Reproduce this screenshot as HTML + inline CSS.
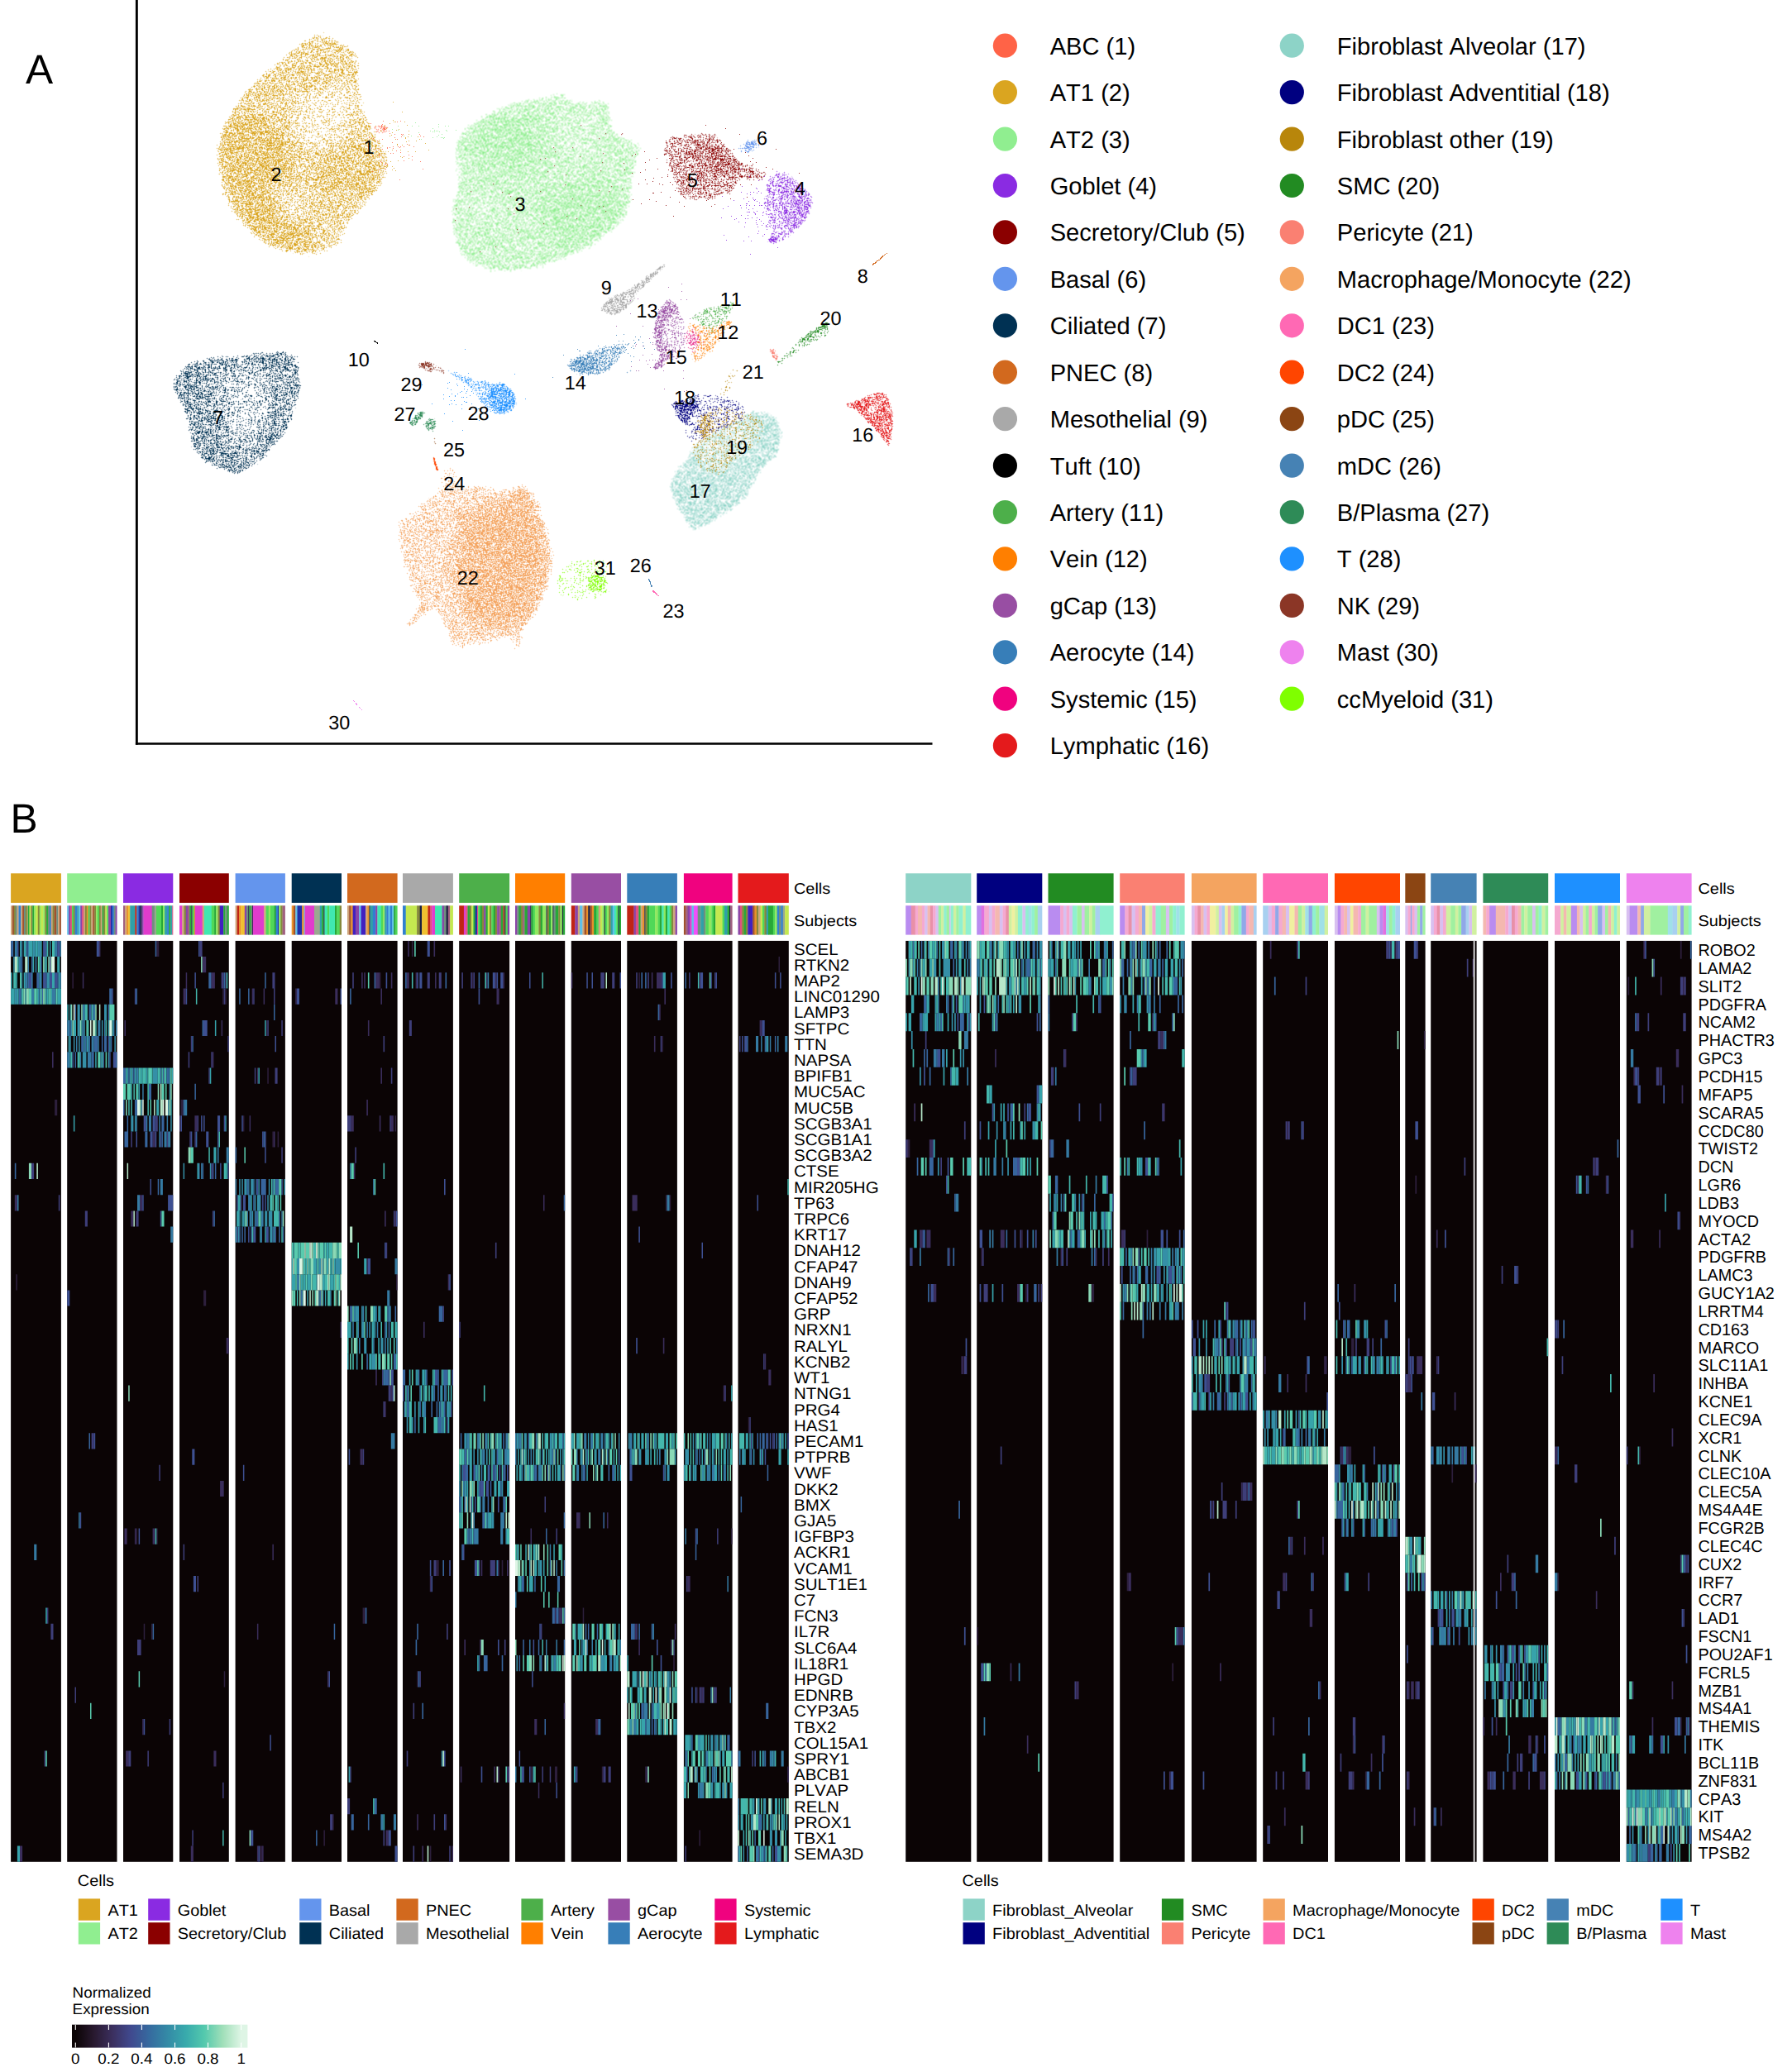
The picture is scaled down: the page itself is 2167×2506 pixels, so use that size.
<!DOCTYPE html>
<html><head><meta charset="utf-8"><title>Figure</title><style>html,body{margin:0;padding:0;background:#fff}svg{display:block}text{font-kerning:none;font-variant-ligatures:none;text-rendering:geometricPrecision}</style></head><body>
<svg width="2167" height="2506" viewBox="0 0 2167 2506" font-family="Liberation Sans, Arial, Helvetica, sans-serif" fill="#000"><defs><filter id="pb3" x="-40%" y="-40%" width="180%" height="180%" color-interpolation-filters="sRGB"><feGaussianBlur stdDeviation="3"/></filter><filter id="pb6" x="-40%" y="-40%" width="180%" height="180%" color-interpolation-filters="sRGB"><feGaussianBlur stdDeviation="6"/></filter><filter id="pb10" x="-40%" y="-40%" width="180%" height="180%" color-interpolation-filters="sRGB"><feGaussianBlur stdDeviation="10"/></filter><filter id="f2" filterUnits="userSpaceOnUse" x="248" y="26" width="236" height="296" color-interpolation-filters="sRGB"><feGaussianBlur in="SourceGraphic" stdDeviation="3.0"/><feColorMatrix type="matrix" values="0 0 0 0 0 0 0 0 0 0 0 0 0 0 0 1 0 0 0 0" result="d"/><feTurbulence type="fractalNoise" baseFrequency="1.713 2.291" numOctaves="1" seed="15"/><feColorMatrix type="matrix" values="0 0 0 0 0 0 0 0 0 0 0 0 0 0 0 0 0 0 1 0" result="n"/><feComposite in="d" in2="n" operator="arithmetic" k1="0" k2="1" k3="1" k4="-1"/><feComponentTransfer><feFuncA type="linear" slope="80" intercept="0"/></feComponentTransfer><feComposite operator="in" in2="SourceAlpha" result="t"/><feFlood flood-color="#DAA520"/><feComposite operator="in" in2="t"/><feConvolveMatrix order="3" kernelMatrix="0 1 0 1 5 1 0 1 0" divisor="9" edgeMode="none" preserveAlpha="false"/></filter><clipPath id="cp2"><path d="M390.2,39.4C397.8,39.7 405.9,44.8 413.0,49.3C420.2,53.7 429.3,58.0 433.1,66.2C436.9,74.5 434.5,88.0 435.8,98.7C437.1,109.3 438.8,121.4 441.1,130.0C443.4,138.6 444.8,140.2 449.8,150.3C454.8,160.4 468.0,179.6 470.8,190.7C473.6,201.7 470.0,207.9 466.4,216.5C462.8,225.1 455.9,233.8 449.2,242.4C442.5,251.0 432.9,258.9 426.2,268.1C419.4,277.3 416.7,290.7 408.8,297.7C400.9,304.6 388.5,308.1 378.8,309.8C369.0,311.6 360.2,310.3 350.2,308.1C340.2,305.9 328.8,302.9 318.8,296.8C308.8,290.6 298.2,280.7 290.2,271.2C282.1,261.7 275.4,251.7 270.6,239.8C265.8,227.9 262.6,211.4 261.3,199.8C259.9,188.3 261.1,179.2 262.6,170.6C264.1,161.9 265.7,157.2 270.2,148.1C274.7,139.1 282.1,126.0 289.6,116.5C297.2,106.9 306.4,99.1 315.6,90.6C324.7,82.0 335.8,72.3 344.4,65.1C353.0,57.8 359.7,51.4 367.4,47.1C375.0,42.8 382.6,39.0 390.2,39.4Z"/></clipPath><filter id="f1" filterUnits="userSpaceOnUse" x="438" y="134" width="46" height="46" color-interpolation-filters="sRGB"><feGaussianBlur in="SourceGraphic" stdDeviation="2.5"/><feColorMatrix type="matrix" values="0 0 0 0 0 0 0 0 0 0 0 0 0 0 0 1 0 0 0 0" result="d"/><feTurbulence type="fractalNoise" baseFrequency="1.713 2.291" numOctaves="1" seed="8"/><feColorMatrix type="matrix" values="0 0 0 0 0 0 0 0 0 0 0 0 0 0 0 0 0 0 1 0" result="n"/><feComposite in="d" in2="n" operator="arithmetic" k1="0" k2="1" k3="1" k4="-1"/><feComponentTransfer><feFuncA type="linear" slope="80" intercept="0"/></feComponentTransfer><feComposite operator="in" in2="SourceAlpha" result="t"/><feFlood flood-color="#FF6347"/><feComposite operator="in" in2="t"/><feConvolveMatrix order="3" kernelMatrix="0 1 0 1 5 1 0 1 0" divisor="9" edgeMode="none" preserveAlpha="false"/></filter><filter id="f3" filterUnits="userSpaceOnUse" x="532" y="99" width="258" height="244" color-interpolation-filters="sRGB"><feGaussianBlur in="SourceGraphic" stdDeviation="3.0"/><feColorMatrix type="matrix" values="0 0 0 0 0 0 0 0 0 0 0 0 0 0 0 1 0 0 0 0" result="d"/><feTurbulence type="fractalNoise" baseFrequency="1.713 2.291" numOctaves="1" seed="22"/><feColorMatrix type="matrix" values="0 0 0 0 0 0 0 0 0 0 0 0 0 0 0 0 0 0 1 0" result="n"/><feComposite in="d" in2="n" operator="arithmetic" k1="0" k2="1" k3="1" k4="-1"/><feComponentTransfer><feFuncA type="linear" slope="80" intercept="0"/></feComponentTransfer><feComposite operator="in" in2="SourceAlpha" result="t"/><feFlood flood-color="#90EE90"/><feComposite operator="in" in2="t"/><feConvolveMatrix order="3" kernelMatrix="1 2 1 2 4 2 1 2 1" divisor="16" edgeMode="none" preserveAlpha="false"/></filter><clipPath id="cp3"><path d="M677.1,112.0C682.9,111.5 683.9,112.4 686.2,113.8C688.5,115.1 686.6,118.8 690.8,120.1C695.1,121.3 704.6,121.5 711.7,121.1C718.8,120.7 728.9,115.9 733.4,117.7C737.9,119.6 737.4,125.9 738.9,132.2C740.5,138.5 740.6,150.6 742.8,155.7C744.9,160.9 746.1,159.7 751.8,163.1C757.5,166.4 773.6,170.7 776.9,175.9C780.3,181.1 773.7,186.8 772.0,194.1C770.3,201.3 768.1,210.1 766.6,219.5C765.1,228.9 765.4,242.0 762.9,250.4C760.4,258.9 756.5,264.4 751.6,270.5C746.7,276.5 741.0,281.1 733.5,286.9C725.9,292.6 716.8,299.6 706.2,305.0C695.6,310.5 681.9,315.5 669.8,319.5C657.7,323.4 645.6,327.0 633.5,328.7C621.4,330.5 607.8,331.3 597.3,330.0C586.7,328.7 577.4,325.1 570.2,320.8C562.9,316.6 558.1,311.8 553.9,304.6C549.7,297.3 546.6,286.5 545.1,277.5C543.6,268.4 543.8,259.4 544.9,250.3C546.0,241.3 550.8,232.2 551.6,223.2C552.4,214.1 550.0,205.0 549.8,195.9C549.6,186.8 547.5,176.2 550.2,168.6C553.0,161.1 559.3,156.2 566.1,150.4C573.0,144.6 581.8,138.8 591.5,133.9C601.1,129.0 614.2,123.9 624.2,121.0C634.2,118.1 642.7,117.9 651.6,116.4C660.4,114.9 671.3,112.4 677.1,112.0Z"/></clipPath><filter id="f5" filterUnits="userSpaceOnUse" x="789" y="149" width="151" height="106" color-interpolation-filters="sRGB"><feGaussianBlur in="SourceGraphic" stdDeviation="2.4"/><feColorMatrix type="matrix" values="0 0 0 0 0 0 0 0 0 0 0 0 0 0 0 1 0 0 0 0" result="d"/><feTurbulence type="fractalNoise" baseFrequency="1.713 2.291" numOctaves="1" seed="36"/><feColorMatrix type="matrix" values="0 0 0 0 0 0 0 0 0 0 0 0 0 0 0 0 0 0 1 0" result="n"/><feComposite in="d" in2="n" operator="arithmetic" k1="0" k2="1" k3="1" k4="-1"/><feComponentTransfer><feFuncA type="linear" slope="80" intercept="0"/></feComponentTransfer><feComposite operator="in" in2="SourceAlpha" result="t"/><feFlood flood-color="#8B0000"/><feComposite operator="in" in2="t"/><feConvolveMatrix order="3" kernelMatrix="0 1 0 1 5 1 0 1 0" divisor="9" edgeMode="none" preserveAlpha="false"/></filter><filter id="f4" filterUnits="userSpaceOnUse" x="912" y="198" width="82" height="109" color-interpolation-filters="sRGB"><feGaussianBlur in="SourceGraphic" stdDeviation="2.0"/><feColorMatrix type="matrix" values="0 0 0 0 0 0 0 0 0 0 0 0 0 0 0 1 0 0 0 0" result="d"/><feTurbulence type="fractalNoise" baseFrequency="1.713 2.291" numOctaves="1" seed="29"/><feColorMatrix type="matrix" values="0 0 0 0 0 0 0 0 0 0 0 0 0 0 0 0 0 0 1 0" result="n"/><feComposite in="d" in2="n" operator="arithmetic" k1="0" k2="1" k3="1" k4="-1"/><feComponentTransfer><feFuncA type="linear" slope="80" intercept="0"/></feComponentTransfer><feComposite operator="in" in2="SourceAlpha" result="t"/><feFlood flood-color="#8A2BE2"/><feComposite operator="in" in2="t"/><feConvolveMatrix order="3" kernelMatrix="0 1 0 1 5 1 0 1 0" divisor="9" edgeMode="none" preserveAlpha="false"/></filter><filter id="f6" filterUnits="userSpaceOnUse" x="880" y="153" width="49" height="49" color-interpolation-filters="sRGB"><feGaussianBlur in="SourceGraphic" stdDeviation="1.6"/><feColorMatrix type="matrix" values="0 0 0 0 0 0 0 0 0 0 0 0 0 0 0 1 0 0 0 0" result="d"/><feTurbulence type="fractalNoise" baseFrequency="1.713 2.291" numOctaves="1" seed="43"/><feColorMatrix type="matrix" values="0 0 0 0 0 0 0 0 0 0 0 0 0 0 0 0 0 0 1 0" result="n"/><feComposite in="d" in2="n" operator="arithmetic" k1="0" k2="1" k3="1" k4="-1"/><feComponentTransfer><feFuncA type="linear" slope="80" intercept="0"/></feComponentTransfer><feComposite operator="in" in2="SourceAlpha" result="t"/><feFlood flood-color="#6495ED"/><feComposite operator="in" in2="t"/><feConvolveMatrix order="3" kernelMatrix="0 1 0 1 5 1 0 1 0" divisor="9" edgeMode="none" preserveAlpha="false"/></filter><filter id="f8" filterUnits="userSpaceOnUse" x="1049" y="299" width="31" height="28" color-interpolation-filters="sRGB"><feGaussianBlur in="SourceGraphic" stdDeviation="0.4"/><feColorMatrix type="matrix" values="0 0 0 0 0 0 0 0 0 0 0 0 0 0 0 1 0 0 0 0" result="d"/><feTurbulence type="fractalNoise" baseFrequency="1.713 2.291" numOctaves="1" seed="57"/><feColorMatrix type="matrix" values="0 0 0 0 0 0 0 0 0 0 0 0 0 0 0 0 0 0 1 0" result="n"/><feComposite in="d" in2="n" operator="arithmetic" k1="0" k2="1" k3="1" k4="-1"/><feComponentTransfer><feFuncA type="linear" slope="80" intercept="0"/></feComponentTransfer><feComposite operator="in" in2="SourceAlpha" result="t"/><feFlood flood-color="#D2691E"/><feComposite operator="in" in2="t"/></filter><filter id="f9" filterUnits="userSpaceOnUse" x="715" y="310" width="99" height="81" color-interpolation-filters="sRGB"><feGaussianBlur in="SourceGraphic" stdDeviation="1.6"/><feColorMatrix type="matrix" values="0 0 0 0 0 0 0 0 0 0 0 0 0 0 0 1 0 0 0 0" result="d"/><feTurbulence type="fractalNoise" baseFrequency="1.713 2.291" numOctaves="1" seed="64"/><feColorMatrix type="matrix" values="0 0 0 0 0 0 0 0 0 0 0 0 0 0 0 0 0 0 1 0" result="n"/><feComposite in="d" in2="n" operator="arithmetic" k1="0" k2="1" k3="1" k4="-1"/><feComponentTransfer><feFuncA type="linear" slope="80" intercept="0"/></feComponentTransfer><feComposite operator="in" in2="SourceAlpha" result="t"/><feFlood flood-color="#A9A9A9"/><feComposite operator="in" in2="t"/><feConvolveMatrix order="3" kernelMatrix="0 1 0 1 5 1 0 1 0" divisor="9" edgeMode="none" preserveAlpha="false"/></filter><filter id="f14" filterUnits="userSpaceOnUse" x="676" y="405" width="108" height="66" color-interpolation-filters="sRGB"><feGaussianBlur in="SourceGraphic" stdDeviation="2.0"/><feColorMatrix type="matrix" values="0 0 0 0 0 0 0 0 0 0 0 0 0 0 0 1 0 0 0 0" result="d"/><feTurbulence type="fractalNoise" baseFrequency="1.713 2.291" numOctaves="1" seed="99"/><feColorMatrix type="matrix" values="0 0 0 0 0 0 0 0 0 0 0 0 0 0 0 0 0 0 1 0" result="n"/><feComposite in="d" in2="n" operator="arithmetic" k1="0" k2="1" k3="1" k4="-1"/><feComponentTransfer><feFuncA type="linear" slope="80" intercept="0"/></feComponentTransfer><feComposite operator="in" in2="SourceAlpha" result="t"/><feFlood flood-color="#377EB8"/><feComposite operator="in" in2="t"/><feConvolveMatrix order="3" kernelMatrix="0 1 0 1 5 1 0 1 0" divisor="9" edgeMode="none" preserveAlpha="false"/></filter><filter id="f13" filterUnits="userSpaceOnUse" x="780" y="353" width="59" height="103" color-interpolation-filters="sRGB"><feGaussianBlur in="SourceGraphic" stdDeviation="1.8"/><feColorMatrix type="matrix" values="0 0 0 0 0 0 0 0 0 0 0 0 0 0 0 1 0 0 0 0" result="d"/><feTurbulence type="fractalNoise" baseFrequency="1.713 2.291" numOctaves="1" seed="92"/><feColorMatrix type="matrix" values="0 0 0 0 0 0 0 0 0 0 0 0 0 0 0 0 0 0 1 0" result="n"/><feComposite in="d" in2="n" operator="arithmetic" k1="0" k2="1" k3="1" k4="-1"/><feComponentTransfer><feFuncA type="linear" slope="80" intercept="0"/></feComponentTransfer><feComposite operator="in" in2="SourceAlpha" result="t"/><feFlood flood-color="#984EA3"/><feComposite operator="in" in2="t"/><feConvolveMatrix order="3" kernelMatrix="0 1 0 1 5 1 0 1 0" divisor="9" edgeMode="none" preserveAlpha="false"/></filter><filter id="f11" filterUnits="userSpaceOnUse" x="824" y="354" width="76" height="63" color-interpolation-filters="sRGB"><feGaussianBlur in="SourceGraphic" stdDeviation="2.0"/><feColorMatrix type="matrix" values="0 0 0 0 0 0 0 0 0 0 0 0 0 0 0 1 0 0 0 0" result="d"/><feTurbulence type="fractalNoise" baseFrequency="1.713 2.291" numOctaves="1" seed="78"/><feColorMatrix type="matrix" values="0 0 0 0 0 0 0 0 0 0 0 0 0 0 0 0 0 0 1 0" result="n"/><feComposite in="d" in2="n" operator="arithmetic" k1="0" k2="1" k3="1" k4="-1"/><feComponentTransfer><feFuncA type="linear" slope="80" intercept="0"/></feComponentTransfer><feComposite operator="in" in2="SourceAlpha" result="t"/><feFlood flood-color="#4DAF4A"/><feComposite operator="in" in2="t"/><feConvolveMatrix order="3" kernelMatrix="0 1 0 1 5 1 0 1 0" divisor="9" edgeMode="none" preserveAlpha="false"/></filter><filter id="f12" filterUnits="userSpaceOnUse" x="820" y="374" width="77" height="75" color-interpolation-filters="sRGB"><feGaussianBlur in="SourceGraphic" stdDeviation="2.2"/><feColorMatrix type="matrix" values="0 0 0 0 0 0 0 0 0 0 0 0 0 0 0 1 0 0 0 0" result="d"/><feTurbulence type="fractalNoise" baseFrequency="1.713 2.291" numOctaves="1" seed="85"/><feColorMatrix type="matrix" values="0 0 0 0 0 0 0 0 0 0 0 0 0 0 0 0 0 0 1 0" result="n"/><feComposite in="d" in2="n" operator="arithmetic" k1="0" k2="1" k3="1" k4="-1"/><feComponentTransfer><feFuncA type="linear" slope="80" intercept="0"/></feComponentTransfer><feComposite operator="in" in2="SourceAlpha" result="t"/><feFlood flood-color="#FF7F00"/><feComposite operator="in" in2="t"/><feConvolveMatrix order="3" kernelMatrix="0 1 0 1 5 1 0 1 0" divisor="9" edgeMode="none" preserveAlpha="false"/></filter><filter id="f15" filterUnits="userSpaceOnUse" x="812" y="384" width="55" height="55" color-interpolation-filters="sRGB"><feGaussianBlur in="SourceGraphic" stdDeviation="2.0"/><feColorMatrix type="matrix" values="0 0 0 0 0 0 0 0 0 0 0 0 0 0 0 1 0 0 0 0" result="d"/><feTurbulence type="fractalNoise" baseFrequency="1.713 2.291" numOctaves="1" seed="106"/><feColorMatrix type="matrix" values="0 0 0 0 0 0 0 0 0 0 0 0 0 0 0 0 0 0 1 0" result="n"/><feComposite in="d" in2="n" operator="arithmetic" k1="0" k2="1" k3="1" k4="-1"/><feComponentTransfer><feFuncA type="linear" slope="80" intercept="0"/></feComponentTransfer><feComposite operator="in" in2="SourceAlpha" result="t"/><feFlood flood-color="#E7298A"/><feComposite operator="in" in2="t"/><feConvolveMatrix order="3" kernelMatrix="0 1 0 1 5 1 0 1 0" divisor="9" edgeMode="none" preserveAlpha="false"/></filter><filter id="f20" filterUnits="userSpaceOnUse" x="922" y="378" width="90" height="77" color-interpolation-filters="sRGB"><feGaussianBlur in="SourceGraphic" stdDeviation="1.5"/><feColorMatrix type="matrix" values="0 0 0 0 0 0 0 0 0 0 0 0 0 0 0 1 0 0 0 0" result="d"/><feTurbulence type="fractalNoise" baseFrequency="1.713 2.291" numOctaves="1" seed="141"/><feColorMatrix type="matrix" values="0 0 0 0 0 0 0 0 0 0 0 0 0 0 0 0 0 0 1 0" result="n"/><feComposite in="d" in2="n" operator="arithmetic" k1="0" k2="1" k3="1" k4="-1"/><feComponentTransfer><feFuncA type="linear" slope="80" intercept="0"/></feComponentTransfer><feComposite operator="in" in2="SourceAlpha" result="t"/><feFlood flood-color="#228B22"/><feComposite operator="in" in2="t"/><feConvolveMatrix order="3" kernelMatrix="0 1 0 1 5 1 0 1 0" divisor="9" edgeMode="none" preserveAlpha="false"/></filter><filter id="f21" filterUnits="userSpaceOnUse" x="881" y="413" width="70" height="44" color-interpolation-filters="sRGB"><feGaussianBlur in="SourceGraphic" stdDeviation="1.4"/><feColorMatrix type="matrix" values="0 0 0 0 0 0 0 0 0 0 0 0 0 0 0 1 0 0 0 0" result="d"/><feTurbulence type="fractalNoise" baseFrequency="1.713 2.291" numOctaves="1" seed="148"/><feColorMatrix type="matrix" values="0 0 0 0 0 0 0 0 0 0 0 0 0 0 0 0 0 0 1 0" result="n"/><feComposite in="d" in2="n" operator="arithmetic" k1="0" k2="1" k3="1" k4="-1"/><feComponentTransfer><feFuncA type="linear" slope="80" intercept="0"/></feComponentTransfer><feComposite operator="in" in2="SourceAlpha" result="t"/><feFlood flood-color="#FA8072"/><feComposite operator="in" in2="t"/><feConvolveMatrix order="3" kernelMatrix="0 1 0 1 5 1 0 1 0" divisor="9" edgeMode="none" preserveAlpha="false"/></filter><filter id="f35" filterUnits="userSpaceOnUse" x="856" y="430" width="52" height="63" color-interpolation-filters="sRGB"><feGaussianBlur in="SourceGraphic" stdDeviation="1.0"/><feColorMatrix type="matrix" values="0 0 0 0 0 0 0 0 0 0 0 0 0 0 0 1 0 0 0 0" result="d"/><feTurbulence type="fractalNoise" baseFrequency="1.713 2.291" numOctaves="1" seed="12"/><feColorMatrix type="matrix" values="0 0 0 0 0 0 0 0 0 0 0 0 0 0 0 0 0 0 1 0" result="n"/><feComposite in="d" in2="n" operator="arithmetic" k1="0" k2="1" k3="1" k4="-1"/><feComponentTransfer><feFuncA type="linear" slope="80" intercept="0"/></feComponentTransfer><feComposite operator="in" in2="SourceAlpha" result="t"/><feFlood flood-color="#B8860B"/><feComposite operator="in" in2="t"/><feConvolveMatrix order="3" kernelMatrix="0 1 0 1 5 1 0 1 0" divisor="9" edgeMode="none" preserveAlpha="false"/></filter><filter id="f17" filterUnits="userSpaceOnUse" x="798" y="484" width="160" height="171" color-interpolation-filters="sRGB"><feGaussianBlur in="SourceGraphic" stdDeviation="2.4"/><feColorMatrix type="matrix" values="0 0 0 0 0 0 0 0 0 0 0 0 0 0 0 1 0 0 0 0" result="d"/><feTurbulence type="fractalNoise" baseFrequency="1.713 2.291" numOctaves="1" seed="120"/><feColorMatrix type="matrix" values="0 0 0 0 0 0 0 0 0 0 0 0 0 0 0 0 0 0 1 0" result="n"/><feComposite in="d" in2="n" operator="arithmetic" k1="0" k2="1" k3="1" k4="-1"/><feComponentTransfer><feFuncA type="linear" slope="80" intercept="0"/></feComponentTransfer><feComposite operator="in" in2="SourceAlpha" result="t"/><feFlood flood-color="#8DD3C7"/><feComposite operator="in" in2="t"/><feConvolveMatrix order="3" kernelMatrix="1 2 1 2 4 2 1 2 1" divisor="16" edgeMode="none" preserveAlpha="false"/></filter><clipPath id="cp17"><path d="M808.8,589.2C808.6,582.5 811.7,576.7 815.0,570.9C818.2,565.1 824.3,559.8 828.4,554.2C832.5,548.6 834.5,542.4 839.4,537.4C844.4,532.4 851.2,528.6 858.0,524.3C864.9,520.0 873.3,515.8 880.4,511.6C887.5,507.4 893.6,502.0 900.6,499.2C907.6,496.4 916.4,494.2 922.5,494.9C928.6,495.6 933.1,499.1 937.1,503.2C941.1,507.3 945.0,513.8 946.3,519.6C947.6,525.4 946.1,531.7 944.7,537.8C943.3,543.9 941.2,551.2 937.7,556.1C934.1,561.0 927.6,562.3 923.4,567.2C919.2,572.2 916.2,579.5 912.4,586.1C908.7,592.6 906.3,600.6 900.9,606.4C895.6,612.2 887.5,616.1 880.4,620.9C873.3,625.7 865.4,631.5 858.4,635.1C851.4,638.8 843.5,643.7 838.4,643.0C833.2,642.4 831.0,636.5 827.3,631.2C823.7,625.9 819.3,618.2 816.2,611.2C813.2,604.2 809.0,595.9 808.8,589.2Z"/></clipPath><filter id="f18" filterUnits="userSpaceOnUse" x="803" y="470" width="107" height="74" color-interpolation-filters="sRGB"><feGaussianBlur in="SourceGraphic" stdDeviation="1.4"/><feColorMatrix type="matrix" values="0 0 0 0 0 0 0 0 0 0 0 0 0 0 0 1 0 0 0 0" result="d"/><feTurbulence type="fractalNoise" baseFrequency="1.713 2.291" numOctaves="1" seed="127"/><feColorMatrix type="matrix" values="0 0 0 0 0 0 0 0 0 0 0 0 0 0 0 0 0 0 1 0" result="n"/><feComposite in="d" in2="n" operator="arithmetic" k1="0" k2="1" k3="1" k4="-1"/><feComponentTransfer><feFuncA type="linear" slope="80" intercept="0"/></feComponentTransfer><feComposite operator="in" in2="SourceAlpha" result="t"/><feFlood flood-color="#000080"/><feComposite operator="in" in2="t"/><feConvolveMatrix order="3" kernelMatrix="0 1 0 1 5 1 0 1 0" divisor="9" edgeMode="none" preserveAlpha="false"/></filter><filter id="f19" filterUnits="userSpaceOnUse" x="827" y="483" width="107" height="100" color-interpolation-filters="sRGB"><feGaussianBlur in="SourceGraphic" stdDeviation="1.6"/><feColorMatrix type="matrix" values="0 0 0 0 0 0 0 0 0 0 0 0 0 0 0 1 0 0 0 0" result="d"/><feTurbulence type="fractalNoise" baseFrequency="1.713 2.291" numOctaves="1" seed="134"/><feColorMatrix type="matrix" values="0 0 0 0 0 0 0 0 0 0 0 0 0 0 0 0 0 0 1 0" result="n"/><feComposite in="d" in2="n" operator="arithmetic" k1="0" k2="1" k3="1" k4="-1"/><feComponentTransfer><feFuncA type="linear" slope="80" intercept="0"/></feComponentTransfer><feComposite operator="in" in2="SourceAlpha" result="t"/><feFlood flood-color="#B8860B"/><feComposite operator="in" in2="t"/><feConvolveMatrix order="3" kernelMatrix="0 1 0 1 5 1 0 1 0" divisor="9" edgeMode="none" preserveAlpha="false"/></filter><filter id="f16" filterUnits="userSpaceOnUse" x="1014" y="465" width="76" height="81" color-interpolation-filters="sRGB"><feGaussianBlur in="SourceGraphic" stdDeviation="1.3"/><feColorMatrix type="matrix" values="0 0 0 0 0 0 0 0 0 0 0 0 0 0 0 1 0 0 0 0" result="d"/><feTurbulence type="fractalNoise" baseFrequency="1.713 2.291" numOctaves="1" seed="113"/><feColorMatrix type="matrix" values="0 0 0 0 0 0 0 0 0 0 0 0 0 0 0 0 0 0 1 0" result="n"/><feComposite in="d" in2="n" operator="arithmetic" k1="0" k2="1" k3="1" k4="-1"/><feComponentTransfer><feFuncA type="linear" slope="80" intercept="0"/></feComponentTransfer><feComposite operator="in" in2="SourceAlpha" result="t"/><feFlood flood-color="#E41A1C"/><feComposite operator="in" in2="t"/><feConvolveMatrix order="3" kernelMatrix="0 1 0 1 5 1 0 1 0" divisor="9" edgeMode="none" preserveAlpha="false"/></filter><filter id="f7" filterUnits="userSpaceOnUse" x="197" y="409" width="181" height="177" color-interpolation-filters="sRGB"><feGaussianBlur in="SourceGraphic" stdDeviation="2.4"/><feColorMatrix type="matrix" values="0 0 0 0 0 0 0 0 0 0 0 0 0 0 0 1 0 0 0 0" result="d"/><feTurbulence type="fractalNoise" baseFrequency="1.713 2.291" numOctaves="1" seed="50"/><feColorMatrix type="matrix" values="0 0 0 0 0 0 0 0 0 0 0 0 0 0 0 0 0 0 1 0" result="n"/><feComposite in="d" in2="n" operator="arithmetic" k1="0" k2="1" k3="1" k4="-1"/><feComponentTransfer><feFuncA type="linear" slope="80" intercept="0"/></feComponentTransfer><feComposite operator="in" in2="SourceAlpha" result="t"/><feFlood flood-color="#003153"/><feComposite operator="in" in2="t"/><feConvolveMatrix order="3" kernelMatrix="0 1 0 1 5 1 0 1 0" divisor="9" edgeMode="none" preserveAlpha="false"/></filter><clipPath id="cp7"><path d="M207.8,463.2C208.4,459.0 209.6,454.7 213.3,450.4C216.9,446.1 221.7,440.9 229.6,437.5C237.5,434.1 250.6,431.2 260.7,429.9C270.8,428.6 281.0,430.7 290.2,429.8C299.4,428.9 307.0,425.6 315.8,424.6C324.7,423.7 336.1,422.7 343.1,424.0C350.1,425.3 354.3,427.9 357.6,432.3C361.0,436.7 361.9,444.4 363.2,450.5C364.5,456.6 366.0,461.1 365.1,468.7C364.3,476.4 360.8,487.6 358.1,496.2C355.4,504.8 352.9,513.0 349.0,520.1C345.0,527.2 339.8,532.1 334.3,538.5C328.8,544.9 322.0,553.1 315.8,558.6C309.7,564.1 303.6,568.6 297.5,571.3C291.3,574.0 285.3,575.5 279.1,574.9C273.0,574.2 266.9,570.7 260.8,567.6C254.7,564.6 247.7,561.5 242.5,556.7C237.3,551.8 232.2,545.4 229.5,538.4C226.9,531.4 228.4,522.6 226.5,514.7C224.7,506.7 221.2,497.1 218.4,490.7C215.5,484.2 211.2,480.6 209.5,476.0C207.7,471.5 207.1,467.5 207.8,463.2Z"/></clipPath><filter id="f10" filterUnits="userSpaceOnUse" x="446" y="406" width="17" height="16" color-interpolation-filters="sRGB"><feGaussianBlur in="SourceGraphic" stdDeviation="0.3"/><feColorMatrix type="matrix" values="0 0 0 0 0 0 0 0 0 0 0 0 0 0 0 1 0 0 0 0" result="d"/><feTurbulence type="fractalNoise" baseFrequency="1.713 2.291" numOctaves="1" seed="71"/><feColorMatrix type="matrix" values="0 0 0 0 0 0 0 0 0 0 0 0 0 0 0 0 0 0 1 0" result="n"/><feComposite in="d" in2="n" operator="arithmetic" k1="0" k2="1" k3="1" k4="-1"/><feComponentTransfer><feFuncA type="linear" slope="80" intercept="0"/></feComponentTransfer><feComposite operator="in" in2="SourceAlpha" result="t"/><feFlood flood-color="#000000"/><feComposite operator="in" in2="t"/></filter><filter id="f29" filterUnits="userSpaceOnUse" x="495" y="423" width="55" height="44" color-interpolation-filters="sRGB"><feGaussianBlur in="SourceGraphic" stdDeviation="1.6"/><feColorMatrix type="matrix" values="0 0 0 0 0 0 0 0 0 0 0 0 0 0 0 1 0 0 0 0" result="d"/><feTurbulence type="fractalNoise" baseFrequency="1.713 2.291" numOctaves="1" seed="204"/><feColorMatrix type="matrix" values="0 0 0 0 0 0 0 0 0 0 0 0 0 0 0 0 0 0 1 0" result="n"/><feComposite in="d" in2="n" operator="arithmetic" k1="0" k2="1" k3="1" k4="-1"/><feComponentTransfer><feFuncA type="linear" slope="80" intercept="0"/></feComponentTransfer><feComposite operator="in" in2="SourceAlpha" result="t"/><feFlood flood-color="#8B3626"/><feComposite operator="in" in2="t"/><feConvolveMatrix order="3" kernelMatrix="0 1 0 1 5 1 0 1 0" divisor="9" edgeMode="none" preserveAlpha="false"/></filter><filter id="f28" filterUnits="userSpaceOnUse" x="531" y="437" width="103" height="78" color-interpolation-filters="sRGB"><feGaussianBlur in="SourceGraphic" stdDeviation="1.6"/><feColorMatrix type="matrix" values="0 0 0 0 0 0 0 0 0 0 0 0 0 0 0 1 0 0 0 0" result="d"/><feTurbulence type="fractalNoise" baseFrequency="1.713 2.291" numOctaves="1" seed="197"/><feColorMatrix type="matrix" values="0 0 0 0 0 0 0 0 0 0 0 0 0 0 0 0 0 0 1 0" result="n"/><feComposite in="d" in2="n" operator="arithmetic" k1="0" k2="1" k3="1" k4="-1"/><feComponentTransfer><feFuncA type="linear" slope="80" intercept="0"/></feComponentTransfer><feComposite operator="in" in2="SourceAlpha" result="t"/><feFlood flood-color="#1E90FF"/><feComposite operator="in" in2="t"/><feConvolveMatrix order="3" kernelMatrix="0 1 0 1 5 1 0 1 0" divisor="9" edgeMode="none" preserveAlpha="false"/></filter><filter id="f27" filterUnits="userSpaceOnUse" x="486" y="488" width="51" height="42" color-interpolation-filters="sRGB"><feGaussianBlur in="SourceGraphic" stdDeviation="1.3"/><feColorMatrix type="matrix" values="0 0 0 0 0 0 0 0 0 0 0 0 0 0 0 1 0 0 0 0" result="d"/><feTurbulence type="fractalNoise" baseFrequency="1.713 2.291" numOctaves="1" seed="190"/><feColorMatrix type="matrix" values="0 0 0 0 0 0 0 0 0 0 0 0 0 0 0 0 0 0 1 0" result="n"/><feComposite in="d" in2="n" operator="arithmetic" k1="0" k2="1" k3="1" k4="-1"/><feComponentTransfer><feFuncA type="linear" slope="80" intercept="0"/></feComponentTransfer><feComposite operator="in" in2="SourceAlpha" result="t"/><feFlood flood-color="#2E8B57"/><feComposite operator="in" in2="t"/><feConvolveMatrix order="3" kernelMatrix="0 1 0 1 5 1 0 1 0" divisor="9" edgeMode="none" preserveAlpha="false"/></filter><filter id="f25" filterUnits="userSpaceOnUse" x="513" y="516" width="24" height="33" color-interpolation-filters="sRGB"><feGaussianBlur in="SourceGraphic" stdDeviation="1.0"/><feColorMatrix type="matrix" values="0 0 0 0 0 0 0 0 0 0 0 0 0 0 0 1 0 0 0 0" result="d"/><feTurbulence type="fractalNoise" baseFrequency="1.713 2.291" numOctaves="1" seed="176"/><feColorMatrix type="matrix" values="0 0 0 0 0 0 0 0 0 0 0 0 0 0 0 0 0 0 1 0" result="n"/><feComposite in="d" in2="n" operator="arithmetic" k1="0" k2="1" k3="1" k4="-1"/><feComponentTransfer><feFuncA type="linear" slope="80" intercept="0"/></feComponentTransfer><feComposite operator="in" in2="SourceAlpha" result="t"/><feFlood flood-color="#8B4513"/><feComposite operator="in" in2="t"/><feConvolveMatrix order="3" kernelMatrix="0 1 0 1 5 1 0 1 0" divisor="9" edgeMode="none" preserveAlpha="false"/></filter><filter id="f24" filterUnits="userSpaceOnUse" x="516" y="545" width="21" height="32" color-interpolation-filters="sRGB"><feGaussianBlur in="SourceGraphic" stdDeviation="0.7"/><feColorMatrix type="matrix" values="0 0 0 0 0 0 0 0 0 0 0 0 0 0 0 1 0 0 0 0" result="d"/><feTurbulence type="fractalNoise" baseFrequency="1.713 2.291" numOctaves="1" seed="169"/><feColorMatrix type="matrix" values="0 0 0 0 0 0 0 0 0 0 0 0 0 0 0 0 0 0 1 0" result="n"/><feComposite in="d" in2="n" operator="arithmetic" k1="0" k2="1" k3="1" k4="-1"/><feComponentTransfer><feFuncA type="linear" slope="80" intercept="0"/></feComponentTransfer><feComposite operator="in" in2="SourceAlpha" result="t"/><feFlood flood-color="#FF4500"/><feComposite operator="in" in2="t"/><feConvolveMatrix order="3" kernelMatrix="0 1 0 1 5 1 0 1 0" divisor="9" edgeMode="none" preserveAlpha="false"/></filter><filter id="f22" filterUnits="userSpaceOnUse" x="467" y="550" width="216" height="248" color-interpolation-filters="sRGB"><feGaussianBlur in="SourceGraphic" stdDeviation="3.0"/><feColorMatrix type="matrix" values="0 0 0 0 0 0 0 0 0 0 0 0 0 0 0 1 0 0 0 0" result="d"/><feTurbulence type="fractalNoise" baseFrequency="1.713 2.291" numOctaves="1" seed="155"/><feColorMatrix type="matrix" values="0 0 0 0 0 0 0 0 0 0 0 0 0 0 0 0 0 0 1 0" result="n"/><feComposite in="d" in2="n" operator="arithmetic" k1="0" k2="1" k3="1" k4="-1"/><feComponentTransfer><feFuncA type="linear" slope="80" intercept="0"/></feComponentTransfer><feComposite operator="in" in2="SourceAlpha" result="t"/><feFlood flood-color="#F4A460"/><feComposite operator="in" in2="t"/><feConvolveMatrix order="3" kernelMatrix="0 1 0 1 5 1 0 1 0" divisor="9" edgeMode="none" preserveAlpha="false"/></filter><clipPath id="cp22"><path d="M540.2,592.0C548.9,589.6 560.5,585.3 571.2,584.9C582.0,584.5 596.7,589.0 604.6,589.7C612.6,590.3 613.8,589.3 618.9,588.6C624.1,587.8 630.4,582.9 635.5,585.1C640.7,587.3 645.9,594.6 649.9,601.7C653.9,608.9 656.7,619.5 659.5,627.8C662.4,636.2 665.0,642.9 666.8,651.7C668.6,660.4 670.8,670.8 670.5,680.3C670.1,689.9 667.6,699.5 664.6,709.0C661.7,718.6 657.5,729.0 652.7,737.8C647.9,746.6 639.9,753.8 635.9,761.7C631.9,769.7 631.4,781.5 628.6,785.4C625.7,789.4 621.4,787.4 619.0,785.5C616.7,783.6 619.2,774.9 614.4,773.8C609.6,772.6 597.6,777.0 590.4,778.7C583.2,780.3 577.6,782.2 571.2,783.4C564.8,784.6 557.3,786.9 552.1,785.7C546.9,784.5 542.5,780.2 540.0,776.2C537.6,772.3 539.6,767.6 537.5,762.1C535.5,756.5 531.3,747.4 527.7,743.0C524.1,738.6 521.6,733.0 515.7,735.7C509.8,738.4 497.0,755.7 492.3,759.2C487.7,762.7 485.7,760.7 487.6,756.8C489.5,752.8 502.4,742.7 503.9,735.5C505.4,728.4 499.8,723.1 496.6,713.9C493.5,704.7 487.6,691.1 484.9,680.3C482.2,669.5 480.9,658.0 480.4,649.2C479.9,640.5 478.6,633.4 481.8,627.9C485.0,622.3 493.4,620.6 499.6,615.9C505.8,611.1 512.0,603.2 518.7,599.2C525.5,595.2 531.4,594.4 540.2,592.0Z"/></clipPath><filter id="f31" filterUnits="userSpaceOnUse" x="666" y="667" width="112" height="69" color-interpolation-filters="sRGB"><feGaussianBlur in="SourceGraphic" stdDeviation="1.6"/><feColorMatrix type="matrix" values="0 0 0 0 0 0 0 0 0 0 0 0 0 0 0 1 0 0 0 0" result="d"/><feTurbulence type="fractalNoise" baseFrequency="1.713 2.291" numOctaves="1" seed="218"/><feColorMatrix type="matrix" values="0 0 0 0 0 0 0 0 0 0 0 0 0 0 0 0 0 0 1 0" result="n"/><feComposite in="d" in2="n" operator="arithmetic" k1="0" k2="1" k3="1" k4="-1"/><feComponentTransfer><feFuncA type="linear" slope="80" intercept="0"/></feComponentTransfer><feComposite operator="in" in2="SourceAlpha" result="t"/><feFlood flood-color="#7FFF00"/><feComposite operator="in" in2="t"/><feConvolveMatrix order="3" kernelMatrix="0 1 0 1 5 1 0 1 0" divisor="9" edgeMode="none" preserveAlpha="false"/></filter><filter id="f26" filterUnits="userSpaceOnUse" x="777" y="693" width="18" height="23" color-interpolation-filters="sRGB"><feGaussianBlur in="SourceGraphic" stdDeviation="0.4"/><feColorMatrix type="matrix" values="0 0 0 0 0 0 0 0 0 0 0 0 0 0 0 1 0 0 0 0" result="d"/><feTurbulence type="fractalNoise" baseFrequency="1.713 2.291" numOctaves="1" seed="183"/><feColorMatrix type="matrix" values="0 0 0 0 0 0 0 0 0 0 0 0 0 0 0 0 0 0 1 0" result="n"/><feComposite in="d" in2="n" operator="arithmetic" k1="0" k2="1" k3="1" k4="-1"/><feComponentTransfer><feFuncA type="linear" slope="80" intercept="0"/></feComponentTransfer><feComposite operator="in" in2="SourceAlpha" result="t"/><feFlood flood-color="#4682B4"/><feComposite operator="in" in2="t"/></filter><filter id="f23" filterUnits="userSpaceOnUse" x="782" y="707" width="21" height="21" color-interpolation-filters="sRGB"><feGaussianBlur in="SourceGraphic" stdDeviation="0.4"/><feColorMatrix type="matrix" values="0 0 0 0 0 0 0 0 0 0 0 0 0 0 0 1 0 0 0 0" result="d"/><feTurbulence type="fractalNoise" baseFrequency="1.713 2.291" numOctaves="1" seed="162"/><feColorMatrix type="matrix" values="0 0 0 0 0 0 0 0 0 0 0 0 0 0 0 0 0 0 1 0" result="n"/><feComposite in="d" in2="n" operator="arithmetic" k1="0" k2="1" k3="1" k4="-1"/><feComponentTransfer><feFuncA type="linear" slope="80" intercept="0"/></feComponentTransfer><feComposite operator="in" in2="SourceAlpha" result="t"/><feFlood flood-color="#FF69B4"/><feComposite operator="in" in2="t"/></filter><filter id="f30" filterUnits="userSpaceOnUse" x="420" y="840" width="24" height="25" color-interpolation-filters="sRGB"><feGaussianBlur in="SourceGraphic" stdDeviation="0.4"/><feColorMatrix type="matrix" values="0 0 0 0 0 0 0 0 0 0 0 0 0 0 0 1 0 0 0 0" result="d"/><feTurbulence type="fractalNoise" baseFrequency="1.713 2.291" numOctaves="1" seed="211"/><feColorMatrix type="matrix" values="0 0 0 0 0 0 0 0 0 0 0 0 0 0 0 0 0 0 1 0" result="n"/><feComposite in="d" in2="n" operator="arithmetic" k1="0" k2="1" k3="1" k4="-1"/><feComponentTransfer><feFuncA type="linear" slope="80" intercept="0"/></feComponentTransfer><feComposite operator="in" in2="SourceAlpha" result="t"/><feFlood flood-color="#EE82EE"/><feComposite operator="in" in2="t"/></filter><linearGradient id="mk" x1="0" x2="1" y1="0" y2="0"><stop offset="0.0202" stop-color="#0B0405"/><stop offset="0.1250" stop-color="#28192F"/><stop offset="0.2298" stop-color="#3B2F5E"/><stop offset="0.3346" stop-color="#40498E"/><stop offset="0.4394" stop-color="#366A9F"/><stop offset="0.5442" stop-color="#348AA6"/><stop offset="0.6489" stop-color="#38AAAC"/><stop offset="0.7537" stop-color="#54C9AD"/><stop offset="0.8585" stop-color="#A0DFB9"/><stop offset="0.9633" stop-color="#DEF5E5"/></linearGradient></defs><text x="31.0" y="100.8" font-size="49.7">A</text>
<rect x="163.9" y="0" width="2.9" height="900.7" fill="#000"/><rect x="163.9" y="898.2" width="963.6" height="2.55" fill="#000"/>
<g filter="url(#f2)"><rect x="248" y="26" width="236" height="296" fill="#000"/><path d="M390.2,39.4C397.8,39.7 405.9,44.8 413.0,49.3C420.2,53.7 429.3,58.0 433.1,66.2C436.9,74.5 434.5,88.0 435.8,98.7C437.1,109.3 438.8,121.4 441.1,130.0C443.4,138.6 444.8,140.2 449.8,150.3C454.8,160.4 468.0,179.6 470.8,190.7C473.6,201.7 470.0,207.9 466.4,216.5C462.8,225.1 455.9,233.8 449.2,242.4C442.5,251.0 432.9,258.9 426.2,268.1C419.4,277.3 416.7,290.7 408.8,297.7C400.9,304.6 388.5,308.1 378.8,309.8C369.0,311.6 360.2,310.3 350.2,308.1C340.2,305.9 328.8,302.9 318.8,296.8C308.8,290.6 298.2,280.7 290.2,271.2C282.1,261.7 275.4,251.7 270.6,239.8C265.8,227.9 262.6,211.4 261.3,199.8C259.9,188.3 261.1,179.2 262.6,170.6C264.1,161.9 265.7,157.2 270.2,148.1C274.7,139.1 282.1,126.0 289.6,116.5C297.2,106.9 306.4,99.1 315.6,90.6C324.7,82.0 335.8,72.3 344.4,65.1C353.0,57.8 359.7,51.4 367.4,47.1C375.0,42.8 382.6,39.0 390.2,39.4Z" fill="rgb(118,118,118)"/><g clip-path="url(#cp2)"><path d="M273.1,151.1C280.2,146.3 299.6,140.4 311.6,142.8C323.6,145.1 337.6,153.0 345.1,165.1C352.5,177.2 352.5,198.6 356.2,215.3C360.0,232.1 363.7,251.6 367.4,265.5C371.1,279.5 381.4,293.0 378.6,299.0C375.8,305.1 360.4,303.2 350.7,301.8C340.9,300.4 329.3,296.7 320.0,290.6C310.7,284.6 302.1,274.8 294.9,265.5C287.7,256.2 281.1,246.0 276.7,234.8C272.3,223.7 269.6,209.0 268.4,198.6C267.1,188.1 268.4,180.0 269.2,172.1C270.0,164.2 266.0,156.0 273.1,151.1Z" fill="rgb(130,130,130)" filter="url(#pb6)"/><path d="M384.2,193.0C391.6,186.5 412.1,179.0 423.2,176.2C434.4,173.5 444.4,172.5 451.1,176.2C457.9,180.0 463.7,190.2 463.7,198.6C463.7,206.9 457.9,220.0 451.1,226.5C444.4,233.0 432.5,236.7 423.2,237.6C413.9,238.6 402.8,235.8 395.3,232.1C387.9,228.3 380.4,221.8 378.6,215.3C376.7,208.8 376.7,199.5 384.2,193.0Z" fill="rgb(126,126,126)" filter="url(#pb6)"/><path d="M356.2,126.0C360.9,119.1 373.9,115.8 384.2,112.1C394.4,108.4 410.2,100.5 417.6,103.7C425.1,107.0 429.7,121.4 428.8,131.6C427.9,141.8 420.4,157.6 412.1,165.1C403.7,172.5 387.9,178.1 378.6,176.2C369.3,174.4 360.0,162.3 356.2,153.9C352.5,145.6 351.6,133.0 356.2,126.0Z" fill="rgb(99,99,99)" filter="url(#pb6)"/><path d="M333.9,232.1C335.8,226.5 349.7,224.6 356.2,226.5C362.8,228.3 371.1,236.7 373.0,243.2C374.9,249.7 372.1,262.7 367.4,265.5C362.8,268.3 350.7,265.5 345.1,260.0C339.5,254.4 332.1,237.6 333.9,232.1Z" fill="rgb(106,106,106)" filter="url(#pb6)"/></g></g><g filter="url(#f1)"><rect x="438" y="134" width="46" height="46" fill="#000"/><ellipse cx="460.9" cy="156.7" rx="11.7" ry="7.3" fill="rgb(117,117,117)"/></g><path d="M462 168h1v1h-1zM512 165h1v1h-1zM446 179h1v1h-1zM475 185h1v1h-1zM465 198h1v1h-1zM483 217h1v1h-1zM483 178h1v1h-1zM498 189h1v1h-1zM458 188h1v1h-1zM460 195h1v1h-1zM462 180h1v1h-1zM458 180h1v1h-1zM498 193h1v1h-1zM461 151h1v1h-1zM485 162h1v1h-1zM458 186h1v1h-1zM450 188h1v1h-1zM492 174h1v1h-1zM456 170h1v1h-1zM500 177h1v1h-1zM495 175h1v1h-1zM475 177h1v1h-1zM475 179h1v1h-1zM488 194h1v1h-1zM470 158h1v1h-1zM460 158h1v1h-1zM435 174h1v1h-1zM458 205h1v1h-1zM462 150h1v1h-1zM480 174h1v1h-1zM488 177h1v1h-1zM507 162h1v1h-1zM477 166h1v1h-1zM463 146h1v1h-1zM484 146h1v1h-1zM479 182h1v1h-1zM480 147h1v1h-1zM487 162h1v1h-1zM480 168h1v1h-1zM508 164h1v1h-1zM468 179h1v1h-1zM446 166h1v1h-1zM468 178h1v1h-1zM466 204h1v1h-1zM508 195h1v1h-1zM472 185h1v1h-1zM511 204h1v1h-1zM485 165h1v1h-1zM494 187h1v1h-1zM474 172h1v1h-1zM448 149h1v1h-1zM449 179h1v1h-1zM477 162h1v1h-1zM468 198h1v1h-1zM451 167h1v1h-1zM450 207h1v1h-1zM466 198h1v1h-1zM486 163h1v1h-1zM484 177h1v1h-1zM481 177h1v1h-1zM484 184h1v1h-1zM459 187h1v1h-1zM458 152h1v1h-1zM465 159h1v1h-1zM460 155h1v1h-1zM488 189h1v1h-1zM461 196h1v1h-1zM471 161h1v1h-1zM454 181h1v1h-1zM471 178h1v1h-1z" fill="#FF6347" fill-opacity="0.8"/><path d="M486 175h1v1h-1zM458 169h1v1h-1zM484 181h1v1h-1zM490 167h1v1h-1zM494 175h1v1h-1zM480 174h1v1h-1zM473 163h1v1h-1zM503 170h1v1h-1zM493 183h1v1h-1zM460 158h1v1h-1zM478 147h1v1h-1zM464 152h1v1h-1zM478 206h1v1h-1zM482 156h1v1h-1zM489 147h1v1h-1zM469 183h1v1h-1zM474 205h1v1h-1zM452 181h1v1h-1zM484 189h1v1h-1zM514 173h1v1h-1zM465 151h1v1h-1zM493 165h1v1h-1zM494 158h1v1h-1zM454 188h1v1h-1zM486 135h1v1h-1zM475 145h1v1h-1zM502 183h1v1h-1zM481 194h1v1h-1zM475 123h1v1h-1zM480 175h1v1h-1zM454 152h1v1h-1zM478 168h1v1h-1zM451 169h1v1h-1zM454 179h1v1h-1zM448 201h1v1h-1zM479 157h1v1h-1zM467 202h1v1h-1zM472 195h1v1h-1zM518 181h1v1h-1zM474 201h1v1h-1zM471 164h1v1h-1zM505 165h1v1h-1zM443 151h1v1h-1zM486 190h1v1h-1zM507 168h1v1h-1zM461 158h1v1h-1zM467 155h1v1h-1zM494 162h1v1h-1zM491 171h1v1h-1zM445 174h1v1h-1zM492 151h1v1h-1zM494 170h1v1h-1zM476 147h1v1h-1zM476 203h1v1h-1zM490 166h1v1h-1zM474 160h1v1h-1zM494 191h1v1h-1zM474 181h1v1h-1zM456 183h1v1h-1zM471 149h1v1h-1z" fill="#DAA520" fill-opacity="0.8"/><g filter="url(#f3)"><rect x="532" y="99" width="258" height="244" fill="#000"/><path d="M677.1,112.0C682.9,111.5 683.9,112.4 686.2,113.8C688.5,115.1 686.6,118.8 690.8,120.1C695.1,121.3 704.6,121.5 711.7,121.1C718.8,120.7 728.9,115.9 733.4,117.7C737.9,119.6 737.4,125.9 738.9,132.2C740.5,138.5 740.6,150.6 742.8,155.7C744.9,160.9 746.1,159.7 751.8,163.1C757.5,166.4 773.6,170.7 776.9,175.9C780.3,181.1 773.7,186.8 772.0,194.1C770.3,201.3 768.1,210.1 766.6,219.5C765.1,228.9 765.4,242.0 762.9,250.4C760.4,258.9 756.5,264.4 751.6,270.5C746.7,276.5 741.0,281.1 733.5,286.9C725.9,292.6 716.8,299.6 706.2,305.0C695.6,310.5 681.9,315.5 669.8,319.5C657.7,323.4 645.6,327.0 633.5,328.7C621.4,330.5 607.8,331.3 597.3,330.0C586.7,328.7 577.4,325.1 570.2,320.8C562.9,316.6 558.1,311.8 553.9,304.6C549.7,297.3 546.6,286.5 545.1,277.5C543.6,268.4 543.8,259.4 544.9,250.3C546.0,241.3 550.8,232.2 551.6,223.2C552.4,214.1 550.0,205.0 549.8,195.9C549.6,186.8 547.5,176.2 550.2,168.6C553.0,161.1 559.3,156.2 566.1,150.4C573.0,144.6 581.8,138.8 591.5,133.9C601.1,129.0 614.2,123.9 624.2,121.0C634.2,118.1 642.7,117.9 651.6,116.4C660.4,114.9 671.3,112.4 677.1,112.0Z" fill="rgb(122,122,122)"/><g clip-path="url(#cp3)"><path d="M575.0,155.0C579.5,147.0 595.8,141.6 607.1,138.9C618.5,136.3 634.5,135.4 642.9,138.9C651.2,142.5 655.4,151.7 657.1,160.4C658.9,169.0 657.1,183.3 653.6,190.7C650.0,198.2 643.5,203.2 635.7,205.0C628.0,206.8 616.4,204.4 607.1,201.4C597.9,198.5 585.7,194.9 580.4,187.1C575.0,179.4 570.5,163.0 575.0,155.0Z" fill="rgb(131,131,131)" filter="url(#pb6)"/><path d="M660.7,226.4C667.9,221.4 683.0,219.9 696.4,219.3C709.8,218.7 731.5,217.8 741.1,222.9C750.6,227.9 754.2,240.7 753.6,249.6C753.0,258.6 745.5,268.4 737.5,276.4C729.5,284.5 715.8,293.4 705.4,297.9C694.9,302.3 683.0,306.8 675.0,303.2C667.0,299.6 660.7,285.4 657.1,276.4C653.6,267.5 653.0,258.0 653.6,249.6C654.2,241.3 653.6,231.5 660.7,226.4Z" fill="rgb(130,130,130)" filter="url(#pb6)"/><path d="M675.0,138.9C680.1,132.4 696.4,132.1 705.4,133.6C714.3,135.1 725.6,140.1 728.6,147.9C731.5,155.6 728.6,172.9 723.2,180.0C717.9,187.1 704.5,191.9 696.4,190.7C688.4,189.5 678.6,181.5 675.0,172.9C671.4,164.2 669.9,145.5 675.0,138.9Z" fill="rgb(115,115,115)" filter="url(#pb6)"/><path d="M558.9,240.7C563.1,234.2 583.6,234.2 592.9,237.1C602.1,240.1 613.1,251.4 614.3,258.6C615.5,265.7 607.7,277.0 600.0,280.0C592.3,283.0 574.7,283.0 567.9,276.4C561.0,269.9 554.8,247.3 558.9,240.7Z" fill="rgb(117,117,117)" filter="url(#pb6)"/></g></g><path d="M537 166h1v1h-1zM529 158h1v1h-1zM538 152h1v1h-1zM530 150h1v1h-1zM481 157h1v1h-1zM520 158h1v1h-1zM525 159h1v1h-1zM531 159h1v1h-1zM569 176h1v1h-1zM530 153h1v1h-1zM523 166h1v1h-1zM536 167h1v1h-1zM506 160h1v1h-1zM481 152h1v1h-1zM562 162h1v1h-1zM540 158h1v1h-1zM523 155h1v1h-1zM534 162h1v1h-1zM551 157h1v1h-1zM502 148h1v1h-1zM527 158h1v1h-1zM498 152h1v1h-1zM535 166h1v1h-1zM528 165h1v1h-1zM533 166h1v1h-1zM539 157h1v1h-1zM488 164h1v1h-1zM542 152h1v1h-1zM506 152h1v1h-1zM530 163h1v1h-1zM509 168h1v1h-1zM497 164h1v1h-1zM525 157h1v1h-1zM474 156h1v1h-1zM523 159h1v1h-1z" fill="#90EE90" fill-opacity="0.8"/><g filter="url(#f5)"><rect x="789" y="149" width="151" height="106" fill="#000"/><path d="M806.2,166.0C810.9,162.3 819.3,161.4 828.6,160.4C837.9,159.5 853.2,157.7 862.1,160.4C870.9,163.2 876.0,171.6 881.6,177.2C887.2,182.8 889.5,189.7 895.5,193.9C901.6,198.1 912.3,199.5 917.9,202.3C923.4,205.1 929.0,207.6 929.0,210.7C929.0,213.7 923.4,219.0 917.9,220.4C912.3,221.8 900.7,216.9 895.5,219.0C890.4,221.1 891.8,229.3 887.2,233.0C882.5,236.7 874.6,239.5 867.6,241.4C860.7,243.2 852.8,244.6 845.3,244.2C837.9,243.7 828.1,242.3 823.0,238.6C817.9,234.9 817.4,228.3 814.6,221.8C811.8,215.3 808.6,206.0 806.2,199.5C803.9,193.0 800.7,188.3 800.7,182.8C800.7,177.2 801.6,169.7 806.2,166.0Z" fill="rgb(112,112,112)"/><path d="M834.2,174.4C837.4,169.5 853.7,168.4 862.1,170.2C870.4,172.1 877.9,180.7 884.4,185.6C890.9,190.4 900.2,195.1 901.1,199.5C902.0,203.9 896.5,210.4 890.0,212.1C883.4,213.7 870.0,211.4 862.1,209.3C854.1,207.2 847.2,205.3 842.5,199.5C837.9,193.7 830.9,179.3 834.2,174.4Z" fill="rgb(123,123,123)"/></g><path d="M883 240h1v1h-1zM829 240h1v1h-1zM821 244h1v1h-1zM832 202h1v1h-1zM910 198h1v1h-1zM801 223h1v1h-1zM829 174h1v1h-1zM894 162h1v1h-1zM866 201h1v1h-1zM870 210h1v1h-1zM854 242h1v1h-1zM853 151h1v1h-1zM880 180h1v1h-1zM902 206h1v1h-1zM790 233h1v1h-1zM854 192h1v1h-1zM840 221h1v1h-1zM895 223h1v1h-1zM908 207h1v1h-1zM768 186h1v1h-1zM810 220h1v1h-1zM863 209h1v1h-1zM822 188h1v1h-1zM845 207h1v1h-1zM887 180h1v1h-1zM803 187h1v1h-1zM831 202h1v1h-1zM765 241h1v1h-1zM821 208h1v1h-1zM825 211h1v1h-1zM824 191h1v1h-1zM926 202h1v1h-1zM820 204h1v1h-1zM774 208h1v1h-1zM861 219h1v1h-1zM789 233h1v1h-1zM853 223h1v1h-1zM856 194h1v1h-1zM837 200h1v1h-1zM821 209h1v1h-1zM817 204h1v1h-1zM903 238h1v1h-1zM832 183h1v1h-1zM880 216h1v1h-1zM909 208h1v1h-1zM820 208h1v1h-1zM772 222h1v1h-1zM879 196h1v1h-1zM817 192h1v1h-1zM836 185h1v1h-1zM883 191h1v1h-1zM865 223h1v1h-1zM854 199h1v1h-1zM794 191h1v1h-1zM856 227h1v1h-1zM844 213h1v1h-1zM834 209h1v1h-1zM863 229h1v1h-1zM808 205h1v1h-1zM832 229h1v1h-1zM938 180h1v1h-1zM887 227h1v1h-1zM905 188h1v1h-1zM835 172h1v1h-1zM824 223h1v1h-1zM870 221h1v1h-1zM917 205h1v1h-1zM867 211h1v1h-1zM879 222h1v1h-1zM850 222h1v1h-1zM868 206h1v1h-1zM805 248h1v1h-1zM834 198h1v1h-1zM764 188h1v1h-1zM811 207h1v1h-1zM779 183h1v1h-1zM845 209h1v1h-1zM841 182h1v1h-1zM819 209h1v1h-1zM860 186h1v1h-1zM833 190h1v1h-1zM839 240h1v1h-1zM908 223h1v1h-1zM838 226h1v1h-1zM909 204h1v1h-1zM866 188h1v1h-1zM782 222h1v1h-1zM838 226h1v1h-1zM934 204h1v1h-1zM889 192h1v1h-1zM872 172h1v1h-1zM799 232h1v1h-1zM845 237h1v1h-1zM818 208h1v1h-1zM827 170h1v1h-1zM855 224h1v1h-1zM822 196h1v1h-1zM870 191h1v1h-1zM841 178h1v1h-1zM807 211h1v1h-1zM785 241h1v1h-1zM843 198h1v1h-1zM828 202h1v1h-1zM790 215h1v1h-1zM815 205h1v1h-1zM813 223h1v1h-1zM827 249h1v1h-1zM843 182h1v1h-1zM966 209h1v1h-1zM860 225h1v1h-1zM810 181h1v1h-1zM844 218h1v1h-1zM775 246h1v1h-1zM879 217h1v1h-1zM833 185h1v1h-1zM826 237h1v1h-1zM780 196h1v1h-1zM806 183h1v1h-1zM837 168h1v1h-1zM839 227h1v1h-1zM800 214h1v1h-1zM829 199h1v1h-1zM877 155h1v1h-1zM874 220h1v1h-1zM809 191h1v1h-1zM850 200h1v1h-1zM819 193h1v1h-1zM797 222h1v1h-1zM832 177h1v1h-1zM818 222h1v1h-1zM887 213h1v1h-1zM847 232h1v1h-1zM872 201h1v1h-1zM897 212h1v1h-1zM829 171h1v1h-1zM914 196h1v1h-1zM849 214h1v1h-1zM834 225h1v1h-1zM862 182h1v1h-1zM901 184h1v1h-1zM893 199h1v1h-1zM816 208h1v1h-1zM794 191h1v1h-1zM809 179h1v1h-1zM838 235h1v1h-1zM846 206h1v1h-1zM807 213h1v1h-1zM915 212h1v1h-1zM780 217h1v1h-1zM851 228h1v1h-1zM820 181h1v1h-1zM856 225h1v1h-1zM754 197h1v1h-1zM864 216h1v1h-1zM860 185h1v1h-1zM824 193h1v1h-1zM816 230h1v1h-1zM860 249h1v1h-1zM793 243h1v1h-1zM871 224h1v1h-1zM785 193h1v1h-1zM822 205h1v1h-1zM864 247h1v1h-1zM906 213h1v1h-1zM810 238h1v1h-1zM814 199h1v1h-1zM809 198h1v1h-1zM834 219h1v1h-1zM864 227h1v1h-1zM826 221h1v1h-1zM789 219h1v1h-1zM842 212h1v1h-1zM836 215h1v1h-1zM910 191h1v1h-1zM863 235h1v1h-1zM780 205h1v1h-1zM755 205h1v1h-1zM848 210h1v1h-1zM869 208h1v1h-1zM869 177h1v1h-1zM832 210h1v1h-1zM847 221h1v1h-1zM838 206h1v1h-1zM819 199h1v1h-1zM875 213h1v1h-1zM837 227h1v1h-1zM826 220h1v1h-1zM884 226h1v1h-1zM907 195h1v1h-1zM846 206h1v1h-1zM823 208h1v1h-1zM856 241h1v1h-1zM884 227h1v1h-1zM813 207h1v1h-1zM814 261h1v1h-1zM805 170h1v1h-1zM810 194h1v1h-1zM764 209h1v1h-1zM853 209h1v1h-1zM795 204h1v1h-1z" fill="#8B0000" fill-opacity="0.8"/><g filter="url(#f4)"><rect x="912" y="198" width="82" height="109" fill="#000"/><path d="M932.4,209.1C936.5,206.2 944.0,206.0 949.8,207.7C955.6,209.3 962.1,214.9 967.2,219.2C972.2,223.6 977.3,229.4 980.2,233.7C983.1,238.1 984.8,240.5 984.5,245.3C984.3,250.1 981.6,257.4 978.7,262.7C975.8,268.0 971.5,272.8 967.2,277.1C962.8,281.5 956.5,285.8 952.7,288.7C948.8,291.6 947.6,293.4 944.0,294.5C940.4,295.6 933.9,296.1 931.0,295.1C928.1,294.1 926.4,291.7 926.6,288.7C926.9,285.7 932.7,281.5 932.4,277.1C932.2,272.8 926.9,268.0 925.2,262.7C923.5,257.4 922.3,251.6 922.3,245.3C922.3,239.0 923.5,231.1 925.2,225.0C926.9,219.0 928.3,212.0 932.4,209.1Z" fill="rgb(112,112,112)"/><path d="M944.0,216.3C948.3,215.4 958.5,218.8 964.3,222.1C970.1,225.5 975.8,232.3 978.7,236.6C981.6,240.9 982.6,243.4 981.6,248.2C980.7,253.0 976.8,260.7 972.9,265.6C969.1,270.4 962.8,276.7 958.5,277.1C954.1,277.6 949.3,273.8 946.9,268.5C944.5,263.1 945.4,252.0 944.0,245.3C942.5,238.5 938.2,232.7 938.2,227.9C938.2,223.1 939.7,217.3 944.0,216.3Z" fill="rgb(123,123,123)"/><ellipse cx="934.2" cy="291.0" rx="5.8" ry="3.8" fill="rgb(153,153,153)"/></g><path d="M929 268h1v1h-1zM922 257h1v1h-1zM903 246h1v1h-1zM909 263h1v1h-1zM933 235h1v1h-1zM896 260h1v1h-1zM924 283h1v1h-1zM915 243h1v1h-1zM927 277h1v1h-1zM926 273h1v1h-1zM915 263h1v1h-1zM899 291h1v1h-1zM905 253h1v1h-1zM922 260h1v1h-1zM942 255h1v1h-1zM899 240h1v1h-1zM920 248h1v1h-1zM921 217h1v1h-1zM908 291h1v1h-1zM905 286h1v1h-1zM915 271h1v1h-1zM926 255h1v1h-1zM916 274h1v1h-1zM905 256h1v1h-1zM929 262h1v1h-1zM913 258h1v1h-1zM923 256h1v1h-1zM874 252h1v1h-1zM924 213h1v1h-1zM938 246h1v1h-1zM895 248h1v1h-1zM907 307h1v1h-1zM890 264h1v1h-1zM918 265h1v1h-1zM873 237h1v1h-1zM904 264h1v1h-1zM878 290h1v1h-1zM917 279h1v1h-1zM911 241h1v1h-1zM904 260h1v1h-1zM918 248h1v1h-1zM926 274h1v1h-1zM917 218h1v1h-1zM930 247h1v1h-1zM930 273h1v1h-1zM915 233h1v1h-1zM907 235h1v1h-1zM880 249h1v1h-1zM900 274h1v1h-1zM872 263h1v1h-1zM928 246h1v1h-1zM901 264h1v1h-1zM928 271h1v1h-1zM902 246h1v1h-1zM906 256h1v1h-1zM935 238h1v1h-1zM929 259h1v1h-1zM906 213h1v1h-1zM910 252h1v1h-1zM911 256h1v1h-1zM923 270h1v1h-1zM905 243h1v1h-1zM928 274h1v1h-1zM913 241h1v1h-1zM915 255h1v1h-1zM912 257h1v1h-1zM912 242h1v1h-1zM939 235h1v1h-1zM913 259h1v1h-1zM940 299h1v1h-1zM884 261h1v1h-1zM925 248h1v1h-1zM907 232h1v1h-1zM902 248h1v1h-1zM875 284h1v1h-1zM911 232h1v1h-1zM901 269h1v1h-1zM893 268h1v1h-1zM896 232h1v1h-1zM918 245h1v1h-1zM915 228h1v1h-1zM888 265h1v1h-1zM936 254h1v1h-1zM914 266h1v1h-1zM906 248h1v1h-1zM873 237h1v1h-1zM921 248h1v1h-1zM922 285h1v1h-1zM920 267h1v1h-1zM916 282h1v1h-1zM903 256h1v1h-1zM931 274h1v1h-1zM921 272h1v1h-1zM970 222h1v1h-1zM945 260h1v1h-1zM896 204h1v1h-1zM910 239h1v1h-1zM896 251h1v1h-1zM911 232h1v1h-1zM887 242h1v1h-1zM903 234h1v1h-1zM926 240h1v1h-1zM914 269h1v1h-1zM902 251h1v1h-1zM920 233h1v1h-1zM926 272h1v1h-1zM897 225h1v1h-1zM912 248h1v1h-1zM914 227h1v1h-1zM917 231h1v1h-1z" fill="#8A2BE2" fill-opacity="0.8"/><g filter="url(#f6)"><rect x="880" y="153" width="49" height="49" fill="#000"/><ellipse cx="904.9" cy="178.1" rx="15.9" ry="9.3" fill="rgb(91,91,91)" transform="rotate(-20 904.9 178.1)"/><ellipse cx="907.5" cy="176.4" rx="9.3" ry="6.1" fill="rgb(138,138,138)" transform="rotate(-30 907.5 176.4)"/></g><g filter="url(#f8)"><rect x="1049" y="299" width="31" height="28" fill="#000"/><path d="M1055.6,320.1L1072.6,306.2" stroke="rgb(160,160,160)" stroke-width="1.6" stroke-linecap="round" fill="none"/></g><g filter="url(#f9)"><rect x="715" y="310" width="99" height="81" fill="#000"/><path d="M724.0,375.6C723.3,373.0 733.4,362.4 737.0,359.7C740.5,356.9 750.6,351.8 754.4,351.8C758.1,351.8 768.3,357.1 768.8,359.7C769.3,362.3 761.7,371.5 758.7,374.1C755.7,376.7 746.8,381.8 742.8,381.9C738.7,382.1 724.6,378.2 724.0,375.6Z" fill="rgb(129,129,129)"/><path d="M752.9,355.3C754.6,352.4 774.0,338.7 779.0,335.0C783.9,331.4 799.5,319.8 802.1,318.5C804.8,317.2 807.3,319.6 805.6,322.0C803.9,324.4 789.2,338.1 784.8,342.3C780.4,346.5 764.8,362.7 761.6,364.0C758.4,365.3 751.2,358.2 752.9,355.3Z" fill="rgb(123,123,123)"/><path d="M779.0,336.5C780.2,335.1 799.0,320.9 800.7,320.0C802.3,319.1 804.8,321.5 803.6,322.9C802.4,324.2 784.1,339.3 782.4,340.3C780.8,341.2 777.8,337.8 779.0,336.5Z" fill="rgb(144,144,144)"/></g><g filter="url(#f14)"><rect x="676" y="405" width="108" height="66" fill="#000"/><path d="M685.5,440.9C686.4,438.1 688.7,434.0 693.6,431.1C698.5,428.1 708.5,425.1 715.0,423.0C721.5,421.0 726.3,419.9 732.9,418.6C739.4,417.2 748.9,415.4 754.3,415.0C759.6,414.6 765.6,413.2 765.0,415.9C764.4,418.6 754.9,425.9 750.7,431.1C746.5,436.3 745.1,443.3 740.0,447.1C734.9,451.0 727.2,453.2 720.4,454.3C713.5,455.3 704.3,454.4 698.9,453.4C693.6,452.4 690.4,450.1 688.2,448.0C686.0,446.0 684.6,443.7 685.5,440.9Z" fill="rgb(119,119,119)"/><ellipse cx="706.1" cy="440.9" rx="19.6" ry="9.8" fill="rgb(132,132,132)" transform="rotate(-8 706.1 440.9)"/><ellipse cx="761.4" cy="449.8" rx="11.6" ry="2.9" fill="rgb(123,123,123)" transform="rotate(-8 761.4 449.8)"/></g><path d="M768 407h1v1h-1zM757 422h1v1h-1zM745 417h1v1h-1zM745 405h1v1h-1zM742 426h1v1h-1zM715 440h1v1h-1zM736 419h1v1h-1zM786 414h1v1h-1zM740 431h1v1h-1zM746 422h1v1h-1zM753 425h1v1h-1zM800 408h1v1h-1zM755 426h1v1h-1zM779 421h1v1h-1zM712 436h1v1h-1zM748 420h1v1h-1zM794 414h1v1h-1zM759 427h1v1h-1zM740 421h1v1h-1zM753 419h1v1h-1zM746 423h1v1h-1zM756 420h1v1h-1zM797 402h1v1h-1zM766 431h1v1h-1zM737 422h1v1h-1zM766 421h1v1h-1zM745 426h1v1h-1zM766 411h1v1h-1zM763 420h1v1h-1zM743 430h1v1h-1zM733 430h1v1h-1zM748 422h1v1h-1zM727 427h1v1h-1zM748 421h1v1h-1zM762 430h1v1h-1zM743 429h1v1h-1zM759 416h1v1h-1zM728 422h1v1h-1zM763 437h1v1h-1zM716 430h1v1h-1zM742 427h1v1h-1zM730 421h1v1h-1zM733 433h1v1h-1zM774 407h1v1h-1zM714 437h1v1h-1zM700 424h1v1h-1zM747 416h1v1h-1zM729 431h1v1h-1zM732 430h1v1h-1zM748 420h1v1h-1zM738 427h1v1h-1zM734 423h1v1h-1zM732 420h1v1h-1zM760 415h1v1h-1zM722 434h1v1h-1zM765 418h1v1h-1zM712 424h1v1h-1zM739 419h1v1h-1zM754 404h1v1h-1zM698 422h1v1h-1zM748 412h1v1h-1zM772 411h1v1h-1zM725 426h1v1h-1zM777 414h1v1h-1zM753 412h1v1h-1zM742 416h1v1h-1zM768 414h1v1h-1zM714 424h1v1h-1zM805 405h1v1h-1zM744 425h1v1h-1zM738 425h1v1h-1zM767 415h1v1h-1zM732 418h1v1h-1zM772 410h1v1h-1zM748 432h1v1h-1zM718 436h1v1h-1zM748 427h1v1h-1zM723 418h1v1h-1zM743 418h1v1h-1zM730 419h1v1h-1zM668 456h1v1h-1zM721 427h1v1h-1zM701 424h1v1h-1zM791 422h1v1h-1zM731 441h1v1h-1zM744 420h1v1h-1zM681 429h1v1h-1zM754 419h1v1h-1zM778 418h1v1h-1zM728 426h1v1h-1z" fill="#377EB8" fill-opacity="0.8"/><g filter="url(#f13)"><rect x="780" y="353" width="59" height="103" fill="#000"/><path d="M806.5,362.5C810.6,360.6 815.9,364.7 819.5,369.8C823.1,374.9 826.5,385.2 828.2,392.9C829.9,400.7 831.1,408.9 829.6,416.1C828.2,423.3 824.1,433.5 819.5,436.4C814.9,439.3 806.5,435.9 802.1,433.5C797.8,431.1 795.4,426.7 793.4,421.9C791.5,417.1 790.3,411.3 790.6,404.5C790.8,397.8 792.2,388.4 794.9,381.4C797.5,374.4 802.4,364.5 806.5,362.5Z" fill="rgb(105,105,105)"/><path d="M806.5,362.0C810.3,359.9 814.9,364.7 817.2,367.5C819.5,370.2 821.1,376.2 820.1,378.5C819.0,380.8 813.6,379.0 810.8,381.4C808.1,383.8 805.1,388.1 803.6,392.9C802.0,397.8 801.1,405.0 801.6,410.3C802.0,415.6 804.4,420.9 806.5,424.8C808.5,428.7 813.7,431.5 813.7,433.5C813.7,435.4 808.6,434.2 806.5,436.4C804.3,438.5 803.6,444.8 800.7,446.5C797.8,448.2 790.6,448.2 789.1,446.5C787.7,444.8 790.6,439.0 792.0,436.4C793.4,433.7 797.8,433.5 797.8,430.6C797.8,427.7 793.3,423.8 792.0,419.0C790.6,414.2 789.3,408.1 789.7,401.6C790.0,395.1 791.2,386.5 794.0,379.9C796.8,373.3 802.6,364.0 806.5,362.0Z" fill="rgb(129,129,129)"/></g><path d="M830 362h1v1h-1zM777 429h1v1h-1zM820 400h1v1h-1zM824 343h1v1h-1zM762 379h1v1h-1zM827 473h1v1h-1zM768 418h1v1h-1zM813 391h1v1h-1zM789 435h1v1h-1zM798 425h1v1h-1zM820 384h1v1h-1zM790 407h1v1h-1zM797 430h1v1h-1zM840 381h1v1h-1zM809 381h1v1h-1zM769 416h1v1h-1zM777 418h1v1h-1zM796 387h1v1h-1zM820 380h1v1h-1zM812 378h1v1h-1zM852 403h1v1h-1zM821 422h1v1h-1zM796 374h1v1h-1zM802 448h1v1h-1zM799 406h1v1h-1zM785 435h1v1h-1zM789 414h1v1h-1zM826 395h1v1h-1zM807 372h1v1h-1zM789 416h1v1h-1zM826 457h1v1h-1zM839 420h1v1h-1zM786 444h1v1h-1zM788 428h1v1h-1zM792 396h1v1h-1zM762 363h1v1h-1zM830 472h1v1h-1zM813 429h1v1h-1zM795 439h1v1h-1zM781 436h1v1h-1zM823 362h1v1h-1zM804 412h1v1h-1zM777 394h1v1h-1zM771 361h1v1h-1zM745 394h1v1h-1zM824 352h1v1h-1zM808 347h1v1h-1zM789 402h1v1h-1zM783 440h1v1h-1zM792 435h1v1h-1zM793 387h1v1h-1zM792 402h1v1h-1zM826 448h1v1h-1zM792 376h1v1h-1zM803 470h1v1h-1zM834 385h1v1h-1zM819 424h1v1h-1zM763 443h1v1h-1zM772 448h1v1h-1zM804 400h1v1h-1zM785 409h1v1h-1zM815 408h1v1h-1zM793 370h1v1h-1zM812 408h1v1h-1zM815 403h1v1h-1zM773 435h1v1h-1zM840 433h1v1h-1zM769 448h1v1h-1zM799 376h1v1h-1zM813 407h1v1h-1z" fill="#984EA3" fill-opacity="0.8"/><g filter="url(#f11)"><rect x="824" y="354" width="76" height="63" fill="#000"/><path d="M834.0,384.3C834.7,382.1 842.2,376.5 848.5,374.1C854.7,371.8 882.7,364.5 887.5,364.0C892.3,363.5 890.1,367.4 889.6,369.8C889.1,372.2 885.3,380.9 883.2,384.3C881.1,387.6 874.3,396.0 871.6,398.7C868.9,401.4 862.4,407.4 860.0,407.4C857.7,407.4 853.4,400.4 851.3,398.7C849.3,397.0 844.7,394.6 842.7,392.9C840.6,391.3 833.3,386.5 834.0,384.3Z" fill="rgb(105,105,105)"/><path d="M847.0,375.6C848.5,374.6 865.3,370.2 868.7,369.2C872.1,368.2 885.9,364.1 887.5,364.0C889.2,363.9 890.3,366.8 889.0,367.8C887.7,368.7 874.8,373.9 871.6,375.0C868.5,376.1 853.4,380.7 851.3,380.8C849.3,380.8 845.6,376.5 847.0,375.6Z" fill="rgb(129,129,129)"/></g><g filter="url(#f12)"><rect x="820" y="374" width="77" height="75" fill="#000"/><path d="M832.5,390.1C836.4,388.9 854.1,393.5 860.0,392.9C866.0,392.4 873.9,386.9 877.4,385.7C881.0,384.6 885.6,383.3 886.7,384.3C887.8,385.2 887.1,389.9 885.5,392.9C883.9,396.0 877.5,403.2 874.5,407.4C871.5,411.7 866.4,420.9 862.9,424.8C859.5,428.7 851.9,434.6 848.5,436.4C845.0,438.1 838.8,439.4 836.9,437.8C834.9,436.3 833.2,428.5 834.0,424.8C834.8,421.1 843.0,413.4 842.7,410.3C842.3,407.2 832.4,404.3 831.1,401.6C829.7,398.9 828.7,391.2 832.5,390.1Z" fill="rgb(111,111,111)"/><ellipse cx="880.9" cy="388.9" rx="4.6" ry="2.6" fill="rgb(136,136,136)" transform="rotate(-35 880.9 388.9)"/></g><g filter="url(#f15)"><rect x="812" y="384" width="55" height="55" fill="#000"/><ellipse cx="839.8" cy="411.8" rx="14.5" ry="17.4" fill="rgb(91,91,91)"/><ellipse cx="837.5" cy="409.7" rx="7.8" ry="9.3" fill="rgb(119,119,119)"/></g><g filter="url(#f20)"><rect x="922" y="378" width="90" height="77" fill="#000"/><path d="M931.0,446.5C931.3,445.1 943.3,431.3 946.9,427.7C950.5,424.1 963.1,413.5 967.2,410.3C971.2,407.1 984.1,398.0 987.4,395.8C990.8,393.7 998.8,388.6 1000.5,388.6C1002.1,388.6 1004.2,394.0 1004.2,395.8C1004.2,397.7 1002.4,405.4 1000.5,407.4C998.5,409.4 988.1,414.1 984.5,416.1C980.9,418.1 968.3,425.1 964.3,427.7C960.2,430.3 947.3,440.3 944.0,442.2C940.7,444.0 930.7,448.0 931.0,446.5Z" fill="rgb(105,105,105)"/><path d="M965.7,410.9C967.0,409.6 985.2,397.3 987.4,395.8C989.6,394.4 998.0,389.4 999.0,389.2C1000.0,389.0 1002.6,392.1 1001.9,392.9C1001.2,393.8 991.1,400.2 988.9,401.6C986.7,403.1 970.1,414.0 968.6,414.7C967.1,415.3 964.5,412.2 965.7,410.9Z" fill="rgb(144,144,144)"/><ellipse cx="997.8" cy="391.8" rx="4.9" ry="2.9" fill="rgb(160,160,160)" transform="rotate(-30 997.8 391.8)"/></g><g filter="url(#f21)"><rect x="881" y="413" width="70" height="44" fill="#000"/><path d="M927.7,423.4C927.6,422.0 935.3,419.7 936.6,420.7C937.9,421.7 942.8,433.6 942.9,435.0C942.9,436.4 938.8,438.6 937.5,437.7C936.2,436.7 927.8,424.8 927.7,423.4Z" fill="rgb(129,129,129)"/><path d="M892.9,443.9L925.0,429.6" stroke="rgb(84,84,84)" stroke-width="4" stroke-linecap="round" fill="none"/></g><g filter="url(#f35)"><rect x="856" y="430" width="52" height="63" fill="#000"/><ellipse cx="890.7" cy="444.8" rx="2.5" ry="2.1" fill="rgb(129,129,129)"/><ellipse cx="873.2" cy="468.0" rx="1.1" ry="3.6" fill="rgb(129,129,129)"/><path d="M889.3,449.3L875.0,474.3" stroke="rgb(88,88,88)" stroke-width="12" stroke-linecap="round" fill="none"/></g><g filter="url(#f17)"><rect x="798" y="484" width="160" height="171" fill="#000"/><path d="M808.8,589.2C808.6,582.5 811.7,576.7 815.0,570.9C818.2,565.1 824.3,559.8 828.4,554.2C832.5,548.6 834.5,542.4 839.4,537.4C844.4,532.4 851.2,528.6 858.0,524.3C864.9,520.0 873.3,515.8 880.4,511.6C887.5,507.4 893.6,502.0 900.6,499.2C907.6,496.4 916.4,494.2 922.5,494.9C928.6,495.6 933.1,499.1 937.1,503.2C941.1,507.3 945.0,513.8 946.3,519.6C947.6,525.4 946.1,531.7 944.7,537.8C943.3,543.9 941.2,551.2 937.7,556.1C934.1,561.0 927.6,562.3 923.4,567.2C919.2,572.2 916.2,579.5 912.4,586.1C908.7,592.6 906.3,600.6 900.9,606.4C895.6,612.2 887.5,616.1 880.4,620.9C873.3,625.7 865.4,631.5 858.4,635.1C851.4,638.8 843.5,643.7 838.4,643.0C833.2,642.4 831.0,636.5 827.3,631.2C823.7,625.9 819.3,618.2 816.2,611.2C813.2,604.2 809.0,595.9 808.8,589.2Z" fill="rgb(126,126,126)"/><g clip-path="url(#cp17)"><path d="M841.1,538.6C842.6,532.9 852.4,530.2 858.9,526.1C865.5,521.9 873.5,517.4 880.4,513.6C887.2,509.7 894.3,501.7 900.0,502.9C905.7,504.0 914.3,513.3 914.3,520.7C914.3,528.2 907.1,540.1 900.0,547.5C892.9,554.9 879.8,563.3 871.4,565.4C863.1,567.4 855.1,564.5 850.0,560.0C844.9,555.5 839.6,544.2 841.1,538.6Z" fill="rgb(112,112,112)" filter="url(#pb6)"/></g></g><g filter="url(#f18)"><rect x="803" y="470" width="107" height="74" fill="#000"/><path d="M835.7,478.8C843.2,472.8 861.9,477.1 871.4,477.9C881.0,478.6 887.8,480.2 892.9,483.2C897.9,486.2 901.2,491.0 901.8,495.7C902.4,500.5 901.5,507.6 896.4,511.8C891.4,516.0 880.1,516.8 871.4,520.7C862.8,524.6 851.5,533.2 844.6,535.0C837.8,536.8 833.3,535.0 830.4,531.4C827.4,527.9 825.9,522.4 826.8,513.6C827.7,504.8 828.3,484.7 835.7,478.8Z" fill="rgb(101,101,101)"/><path d="M811.6,487.7C812.5,485.6 814.7,484.0 819.6,483.2C824.6,482.5 836.9,481.7 841.1,483.2C845.2,484.7 845.5,488.9 844.6,492.1C843.8,495.4 838.4,499.3 835.7,502.9C833.0,506.4 831.2,513.0 828.6,513.6C825.9,514.2 822.0,509.4 819.6,506.4C817.3,503.5 815.6,498.8 814.3,495.7C812.9,492.6 810.7,489.8 811.6,487.7Z" fill="rgb(132,132,132)"/></g><g filter="url(#f19)"><rect x="827" y="483" width="107" height="100" fill="#000"/><path d="M844.6,499.3C849.7,495.1 861.0,492.1 871.4,492.1C881.8,492.1 898.2,495.7 907.1,499.3C916.1,502.9 923.5,507.0 925.0,513.6C926.5,520.1 922.0,531.4 916.1,538.6C910.1,545.7 896.7,550.5 889.3,556.4C881.8,562.4 878.9,572.8 871.4,574.3C864.0,575.8 850.6,571.3 844.6,565.4C838.7,559.4 836.3,546.6 835.7,538.6C835.1,530.5 839.6,523.7 841.1,517.1C842.6,510.6 839.6,503.5 844.6,499.3Z" fill="rgb(98,98,98)"/><ellipse cx="852.7" cy="515.4" rx="6.8" ry="15.2" fill="rgb(125,125,125)" transform="rotate(8 852.7 515.4)"/></g><g filter="url(#f16)"><rect x="1014" y="465" width="76" height="81" fill="#000"/><path d="M1021.4,489.5C1021.6,487.8 1033.3,484.9 1037.5,483.2C1041.7,481.5 1053.6,476.3 1057.1,475.2C1060.7,474.0 1065.8,472.7 1067.9,473.4C1069.9,474.1 1073.4,478.0 1075.0,481.4C1076.6,484.9 1080.6,498.3 1081.2,502.9C1081.9,507.4 1080.9,516.5 1080.4,520.7C1079.8,524.9 1077.8,536.7 1076.8,538.6C1075.7,540.4 1073.1,538.2 1071.4,536.8C1069.8,535.3 1065.0,529.0 1062.5,526.1C1060.0,523.2 1053.1,515.1 1050.0,511.8C1046.9,508.5 1039.0,500.1 1035.7,497.5C1032.4,494.9 1021.2,491.1 1021.4,489.5Z" fill="rgb(129,129,129)"/><ellipse cx="1055.4" cy="495.7" rx="7.1" ry="6.2" fill="rgb(113,113,113)"/></g><g filter="url(#f7)"><rect x="197" y="409" width="181" height="177" fill="#000"/><path d="M207.8,463.2C208.4,459.0 209.6,454.7 213.3,450.4C216.9,446.1 221.7,440.9 229.6,437.5C237.5,434.1 250.6,431.2 260.7,429.9C270.8,428.6 281.0,430.7 290.2,429.8C299.4,428.9 307.0,425.6 315.8,424.6C324.7,423.7 336.1,422.7 343.1,424.0C350.1,425.3 354.3,427.9 357.6,432.3C361.0,436.7 361.9,444.4 363.2,450.5C364.5,456.6 366.0,461.1 365.1,468.7C364.3,476.4 360.8,487.6 358.1,496.2C355.4,504.8 352.9,513.0 349.0,520.1C345.0,527.2 339.8,532.1 334.3,538.5C328.8,544.9 322.0,553.1 315.8,558.6C309.7,564.1 303.6,568.6 297.5,571.3C291.3,574.0 285.3,575.5 279.1,574.9C273.0,574.2 266.9,570.7 260.8,567.6C254.7,564.6 247.7,561.5 242.5,556.7C237.3,551.8 232.2,545.4 229.5,538.4C226.9,531.4 228.4,522.6 226.5,514.7C224.7,506.7 221.2,497.1 218.4,490.7C215.5,484.2 211.2,480.6 209.5,476.0C207.7,471.5 207.1,467.5 207.8,463.2Z" fill="rgb(120,120,120)"/><path d="M357.0,433.6L363.8,422.9" stroke="rgb(149,149,149)" stroke-width="3.0" stroke-linecap="round" fill="none"/><g clip-path="url(#cp7)"><path d="M268.6,455.0C272.4,447.0 288.8,447.9 297.1,447.9C305.5,447.9 313.8,448.5 318.6,455.0C323.3,461.5 326.3,475.8 325.7,487.1C325.1,498.5 319.8,513.9 315.0,522.9C310.2,531.8 303.1,540.1 297.1,540.7C291.2,541.3 283.2,533.9 279.3,526.4C275.4,519.0 275.7,508.0 273.9,496.1C272.1,484.2 264.7,463.0 268.6,455.0Z" fill="rgb(99,99,99)" filter="url(#pb10)"/></g></g><g filter="url(#f10)"><rect x="446" y="406" width="17" height="16" fill="#000"/><path d="M452.5,412.5L457.0,415.4" stroke="rgb(166,166,166)" stroke-width="1.5" stroke-linecap="round" fill="none"/></g><g filter="url(#f29)"><rect x="495" y="423" width="55" height="44" fill="#000"/><ellipse cx="516.4" cy="443.6" rx="12.1" ry="7.5" fill="rgb(132,132,132)" transform="rotate(15 516.4 443.6)"/><ellipse cx="531.1" cy="447.1" rx="10.7" ry="3.9" fill="rgb(115,115,115)" transform="rotate(25 531.1 447.1)"/></g><g filter="url(#f28)"><rect x="531" y="437" width="103" height="78" fill="#000"/><path d="M540.0,445.4C543.9,446.0 556.4,451.6 565.0,454.3C573.6,457.0 584.6,460.2 591.8,461.4C598.9,462.6 602.8,459.3 607.9,461.4C612.9,463.5 619.2,469.5 622.1,473.9C625.1,478.4 626.9,483.8 625.7,488.2C624.5,492.7 619.8,498.6 615.0,500.7C610.2,502.8 602.5,502.5 597.1,500.7C591.8,498.9 587.0,494.5 582.9,490.0C578.7,485.5 576.6,478.7 572.1,473.9C567.7,469.2 561.1,465.3 556.1,461.4C551.0,457.6 544.5,453.4 541.8,450.7C539.1,448.0 536.1,444.8 540.0,445.4Z" fill="rgb(112,112,112)"/><ellipse cx="607.0" cy="482.0" rx="15.2" ry="17.9" fill="rgb(136,136,136)" transform="rotate(-25 607.0 482.0)"/><ellipse cx="562.9" cy="503.6" rx="1.8" ry="0.9" fill="rgb(136,136,136)"/></g><path d="M564 480h1v1h-1zM559 456h1v1h-1zM566 451h1v1h-1zM597 498h1v1h-1zM558 473h1v1h-1zM558 480h1v1h-1zM545 471h1v1h-1zM599 476h1v1h-1zM594 485h1v1h-1zM583 477h1v1h-1zM541 463h1v1h-1zM592 484h1v1h-1zM616 486h1v1h-1zM560 480h1v1h-1zM564 473h1v1h-1zM543 479h1v1h-1zM552 450h1v1h-1zM580 500h1v1h-1zM561 467h1v1h-1zM598 490h1v1h-1zM561 470h1v1h-1zM563 486h1v1h-1zM550 454h1v1h-1zM590 473h1v1h-1zM578 463h1v1h-1zM574 465h1v1h-1zM537 500h1v1h-1zM587 486h1v1h-1zM553 476h1v1h-1zM561 485h1v1h-1zM563 475h1v1h-1zM551 489h1v1h-1zM594 473h1v1h-1zM570 473h1v1h-1zM622 485h1v1h-1zM578 494h1v1h-1zM616 478h1v1h-1zM568 478h1v1h-1zM596 486h1v1h-1zM567 458h1v1h-1zM570 488h1v1h-1zM558 494h1v1h-1zM546 476h1v1h-1zM558 489h1v1h-1zM543 462h1v1h-1zM549 484h1v1h-1zM601 482h1v1h-1zM536 482h1v1h-1zM579 508h1v1h-1zM564 461h1v1h-1zM510 465h1v1h-1zM570 467h1v1h-1zM603 492h1v1h-1zM569 505h1v1h-1zM581 485h1v1h-1zM547 509h1v1h-1zM543 489h1v1h-1zM536 477h1v1h-1zM559 520h1v1h-1zM579 494h1v1h-1zM589 488h1v1h-1zM550 479h1v1h-1zM580 469h1v1h-1zM550 478h1v1h-1zM572 475h1v1h-1zM592 481h1v1h-1zM604 498h1v1h-1zM564 486h1v1h-1zM552 464h1v1h-1zM552 458h1v1h-1zM610 490h1v1h-1zM586 460h1v1h-1zM587 485h1v1h-1zM545 484h1v1h-1zM522 488h1v1h-1zM595 496h1v1h-1zM620 482h1v1h-1zM592 480h1v1h-1zM558 456h1v1h-1zM556 474h1v1h-1zM565 471h1v1h-1zM545 484h1v1h-1zM553 466h1v1h-1zM587 475h1v1h-1zM546 488h1v1h-1zM580 501h1v1h-1zM562 422h1v1h-1zM622 452h1v1h-1zM635 482h1v1h-1zM541 469h1v1h-1z" fill="#1E90FF" fill-opacity="0.8"/><g filter="url(#f27)"><rect x="486" y="488" width="51" height="42" fill="#000"/><path d="M493.6,512.3C493.9,510.5 503.2,499.6 505.2,498.0C507.1,496.4 512.4,495.8 513.2,496.2C514.0,496.7 514.0,500.9 512.9,502.9C511.7,504.8 503.5,514.9 501.6,515.9C499.7,516.8 493.2,514.1 493.6,512.3Z" fill="rgb(136,136,136)"/><path d="M511.4,513.2C511.9,511.5 519.6,504.7 521.2,504.3C522.9,503.8 528.0,507.0 528.4,508.8C528.8,510.5 526.5,520.9 525.4,522.1C524.2,523.4 518.2,522.1 516.8,521.2C515.4,520.4 511.0,514.9 511.4,513.2Z" fill="rgb(129,129,129)"/></g><g filter="url(#f25)"><rect x="513" y="516" width="24" height="33" fill="#000"/><path d="M523.6,526.6L526.1,537.3" stroke="rgb(115,115,115)" stroke-width="4" stroke-linecap="round" fill="none"/></g><g filter="url(#f24)"><rect x="516" y="545" width="21" height="32" fill="#000"/><path d="M524.6,553.9L528.6,568.2" stroke="rgb(166,166,166)" stroke-width="2.6" stroke-linecap="round" fill="none"/></g><g filter="url(#f22)"><rect x="467" y="550" width="216" height="248" fill="#000"/><path d="M526.7,589.2C525.5,584.1 529.8,572.4 533.7,568.1C537.6,563.8 546.6,560.3 550.1,563.4C553.7,566.6 556.4,581.0 554.8,586.9C553.3,592.7 545.5,598.2 540.8,598.6C536.1,599.0 527.9,594.3 526.7,589.2Z" fill="rgb(98,98,98)"/><path d="M540.2,592.0C548.9,589.6 560.5,585.3 571.2,584.9C582.0,584.5 596.7,589.0 604.6,589.7C612.6,590.3 613.8,589.3 618.9,588.6C624.1,587.8 630.4,582.9 635.5,585.1C640.7,587.3 645.9,594.6 649.9,601.7C653.9,608.9 656.7,619.5 659.5,627.8C662.4,636.2 665.0,642.9 666.8,651.7C668.6,660.4 670.8,670.8 670.5,680.3C670.1,689.9 667.6,699.5 664.6,709.0C661.7,718.6 657.5,729.0 652.7,737.8C647.9,746.6 639.9,753.8 635.9,761.7C631.9,769.7 631.4,781.5 628.6,785.4C625.7,789.4 621.4,787.4 619.0,785.5C616.7,783.6 619.2,774.9 614.4,773.8C609.6,772.6 597.6,777.0 590.4,778.7C583.2,780.3 577.6,782.2 571.2,783.4C564.8,784.6 557.3,786.9 552.1,785.7C546.9,784.5 542.5,780.2 540.0,776.2C537.6,772.3 539.6,767.6 537.5,762.1C535.5,756.5 531.3,747.4 527.7,743.0C524.1,738.6 521.6,733.0 515.7,735.7C509.8,738.4 497.0,755.7 492.3,759.2C487.7,762.7 485.7,760.7 487.6,756.8C489.5,752.8 502.4,742.7 503.9,735.5C505.4,728.4 499.8,723.1 496.6,713.9C493.5,704.7 487.6,691.1 484.9,680.3C482.2,669.5 480.9,658.0 480.4,649.2C479.9,640.5 478.6,633.4 481.8,627.9C485.0,622.3 493.4,620.6 499.6,615.9C505.8,611.1 512.0,603.2 518.7,599.2C525.5,595.2 531.4,594.4 540.2,592.0Z" fill="rgb(114,114,114)"/><path d="M488.0,756.8C489.2,754.0 504.7,735.1 508.0,732.2C511.2,729.2 519.4,726.8 520.9,727.5C522.3,728.2 524.5,735.9 522.0,739.2C519.6,742.5 499.6,758.5 496.2,760.3C492.8,762.1 486.9,759.6 488.0,756.8Z" fill="rgb(125,125,125)"/><g clip-path="url(#cp22)"><path d="M561.9,617.3C570.8,607.2 593.9,614.2 604.0,610.3C614.2,606.4 616.5,596.2 622.8,593.9C629.0,591.6 636.1,590.4 641.5,596.2C647.0,602.1 651.9,618.9 655.6,629.1C659.3,639.2 662.2,647.8 663.8,657.2C665.4,666.6 666.3,675.1 665.0,685.3C663.6,695.5 659.9,707.2 655.6,718.1C651.3,729.0 647.8,743.5 639.2,750.9C630.6,758.3 615.4,762.6 604.0,762.6C592.7,762.6 579.8,758.7 571.2,750.9C562.6,743.1 556.0,729.0 552.5,715.8C549.0,702.5 548.6,687.6 550.1,671.2C551.7,654.8 552.9,627.5 561.9,617.3Z" fill="rgb(136,136,136)" filter="url(#pb10)"/></g></g><g filter="url(#f31)"><rect x="666" y="667" width="112" height="69" fill="#000"/><path d="M674.4,692.3C678.3,685.3 688.0,677.9 697.8,675.9C707.6,674.0 726.7,673.6 732.9,680.6C739.2,687.6 741.1,710.3 735.3,718.1C729.4,725.9 707.9,727.5 697.8,727.5C687.6,727.5 678.3,724.0 674.4,718.1C670.5,712.3 670.5,699.4 674.4,692.3Z" fill="rgb(91,91,91)"/><ellipse cx="721.2" cy="705.2" rx="11.2" ry="10.5" fill="rgb(132,132,132)"/><path d="M731.8,714.6L766.2,713.2" stroke="rgb(122,122,122)" stroke-width="2.2" stroke-linecap="round" fill="none"/></g><g filter="url(#f26)"><rect x="777" y="693" width="18" height="23" fill="#000"/><path d="M784.5,700.5L788.0,709.2" stroke="rgb(160,160,160)" stroke-width="2" stroke-linecap="round" fill="none"/></g><g filter="url(#f23)"><rect x="782" y="707" width="21" height="21" fill="#000"/><path d="M789.2,713.9L796.2,720.5" stroke="rgb(160,160,160)" stroke-width="2" stroke-linecap="round" fill="none"/></g><g filter="url(#f30)"><rect x="420" y="840" width="24" height="25" fill="#000"/><path d="M426.6,846.4L437.3,858.6" stroke="rgb(153,153,153)" stroke-width="1.3" stroke-linecap="round" fill="none"/></g><path d="M724 167h1.2v1.2h-1.2zM669 178h1.2v1.2h-1.2zM732 161h1.2v1.2h-1.2zM614 252h1.2v1.2h-1.2zM685 261h1.2v1.2h-1.2zM671 183h1.2v1.2h-1.2zM662 207h1.2v1.2h-1.2zM684 211h1.2v1.2h-1.2zM551 252h1.2v1.2h-1.2zM607 232h1.2v1.2h-1.2zM653 192h1.2v1.2h-1.2zM692 178h1.2v1.2h-1.2zM625 277h1.2v1.2h-1.2zM617 237h1.2v1.2h-1.2zM724 249h1.2v1.2h-1.2zM550 266h1.2v1.2h-1.2zM728 196h1.2v1.2h-1.2zM702 151h1.2v1.2h-1.2zM569 231h1.2v1.2h-1.2zM726 206h1.2v1.2h-1.2zM739 225h1.2v1.2h-1.2zM621 258h1.2v1.2h-1.2zM732 255h1.2v1.2h-1.2zM736 231h1.2v1.2h-1.2zM697 264h1.2v1.2h-1.2zM692 240h1.2v1.2h-1.2zM751 162h1.2v1.2h-1.2zM701 189h1.2v1.2h-1.2zM653 231h1.2v1.2h-1.2zM683 223h1.2v1.2h-1.2zM724 230h1.2v1.2h-1.2zM670 200h1.2v1.2h-1.2zM729 185h1.2v1.2h-1.2zM596 222h1.2v1.2h-1.2zM567 250h1.2v1.2h-1.2zM752 228h1.2v1.2h-1.2zM752 161h1.2v1.2h-1.2zM580 304h1.2v1.2h-1.2zM659 191h1.2v1.2h-1.2zM615 234h1.2v1.2h-1.2zM657 270h1.2v1.2h-1.2zM599 298h1.2v1.2h-1.2zM626 281h1.2v1.2h-1.2zM702 248h1.2v1.2h-1.2zM729 249h1.2v1.2h-1.2z" fill="#8B0000" fill-opacity="0.55"/>
<text x="446.0" y="186.4" font-size="23.4" text-anchor="middle">1</text>
<text x="333.9" y="219.4" font-size="23.4" text-anchor="middle">2</text>
<text x="628.9" y="255.0" font-size="23.4" text-anchor="middle">3</text>
<text x="967.5" y="235.9" font-size="23.4" text-anchor="middle">4</text>
<text x="837.3" y="226.4" font-size="23.4" text-anchor="middle">5</text>
<text x="921.5" y="175.4" font-size="23.4" text-anchor="middle">6</text>
<text x="264.1" y="513.4" font-size="23.4" text-anchor="middle">7</text>
<text x="1043.3" y="341.5" font-size="23.4" text-anchor="middle">8</text>
<text x="733.2" y="355.9" font-size="23.4" text-anchor="middle">9</text>
<text x="433.8" y="443.4" font-size="23.4" text-anchor="middle">10</text>
<text x="883.8" y="369.8" font-size="23.4" text-anchor="middle">11</text>
<text x="880.2" y="409.7" font-size="23.4" text-anchor="middle">12</text>
<text x="782.5" y="383.6" font-size="23.4" text-anchor="middle">13</text>
<text x="695.7" y="470.7" font-size="23.4" text-anchor="middle">14</text>
<text x="817.7" y="440.4" font-size="23.4" text-anchor="middle">15</text>
<text x="1043.2" y="534.4" font-size="23.4" text-anchor="middle">16</text>
<text x="846.8" y="602.4" font-size="23.4" text-anchor="middle">17</text>
<text x="828.0" y="488.9" font-size="23.4" text-anchor="middle">18</text>
<text x="891.0" y="549.1" font-size="23.4" text-anchor="middle">19</text>
<text x="1004.5" y="393.4" font-size="23.4" text-anchor="middle">20</text>
<text x="910.7" y="458.2" font-size="23.4" text-anchor="middle">21</text>
<text x="565.8" y="707.3" font-size="23.4" text-anchor="middle">22</text>
<text x="814.5" y="747.1" font-size="23.4" text-anchor="middle">23</text>
<text x="549.3" y="592.7" font-size="23.4" text-anchor="middle">24</text>
<text x="549.0" y="552.4" font-size="23.4" text-anchor="middle">25</text>
<text x="774.7" y="692.1" font-size="23.4" text-anchor="middle">26</text>
<text x="489.6" y="509.4" font-size="23.4" text-anchor="middle">27</text>
<text x="578.4" y="507.7" font-size="23.4" text-anchor="middle">28</text>
<text x="497.5" y="473.4" font-size="23.4" text-anchor="middle">29</text>
<text x="410.2" y="881.8" font-size="23.4" text-anchor="middle">30</text>
<text x="731.8" y="694.9" font-size="23.4" text-anchor="middle">31</text>
<circle cx="1215.4" cy="55.2" r="14.6" fill="#FF6347"/>
<text x="1269.7" y="65.7" font-size="29.1">ABC (1)</text>
<circle cx="1215.4" cy="111.6" r="14.6" fill="#DAA520"/>
<text x="1269.7" y="122.1" font-size="29.1">AT1 (2)</text>
<circle cx="1215.4" cy="168.1" r="14.6" fill="#90EE90"/>
<text x="1269.7" y="178.6" font-size="29.1">AT2 (3)</text>
<circle cx="1215.4" cy="224.5" r="14.6" fill="#8A2BE2"/>
<text x="1269.7" y="235.0" font-size="29.1">Goblet (4)</text>
<circle cx="1215.4" cy="280.9" r="14.6" fill="#8B0000"/>
<text x="1269.7" y="291.4" font-size="29.1">Secretory/Club (5)</text>
<circle cx="1215.4" cy="337.3" r="14.6" fill="#6495ED"/>
<text x="1269.7" y="347.8" font-size="29.1">Basal (6)</text>
<circle cx="1215.4" cy="393.8" r="14.6" fill="#003153"/>
<text x="1269.7" y="404.3" font-size="29.1">Ciliated (7)</text>
<circle cx="1215.4" cy="450.2" r="14.6" fill="#D2691E"/>
<text x="1269.7" y="460.7" font-size="29.1">PNEC (8)</text>
<circle cx="1215.4" cy="506.6" r="14.6" fill="#A9A9A9"/>
<text x="1269.7" y="517.1" font-size="29.1">Mesothelial (9)</text>
<circle cx="1215.4" cy="563.1" r="14.6" fill="#000000"/>
<text x="1269.7" y="573.6" font-size="29.1">Tuft (10)</text>
<circle cx="1215.4" cy="619.5" r="14.6" fill="#4DAF4A"/>
<text x="1269.7" y="630.0" font-size="29.1">Artery (11)</text>
<circle cx="1215.4" cy="675.9" r="14.6" fill="#FF7F00"/>
<text x="1269.7" y="686.4" font-size="29.1">Vein (12)</text>
<circle cx="1215.4" cy="732.4" r="14.6" fill="#984EA3"/>
<text x="1269.7" y="742.9" font-size="29.1">gCap (13)</text>
<circle cx="1215.4" cy="788.8" r="14.6" fill="#377EB8"/>
<text x="1269.7" y="799.3" font-size="29.1">Aerocyte (14)</text>
<circle cx="1215.4" cy="845.2" r="14.6" fill="#F0027F"/>
<text x="1269.7" y="855.7" font-size="29.1">Systemic (15)</text>
<circle cx="1215.4" cy="901.7" r="14.6" fill="#E41A1C"/>
<text x="1269.7" y="912.2" font-size="29.1">Lymphatic (16)</text>
<circle cx="1562.3" cy="55.2" r="14.6" fill="#8DD3C7"/>
<text x="1616.8" y="65.7" font-size="29.1">Fibroblast Alveolar (17)</text>
<circle cx="1562.3" cy="111.6" r="14.6" fill="#000080"/>
<text x="1616.8" y="122.1" font-size="29.1">Fibroblast Adventitial (18)</text>
<circle cx="1562.3" cy="168.1" r="14.6" fill="#B8860B"/>
<text x="1616.8" y="178.6" font-size="29.1">Fibroblast other (19)</text>
<circle cx="1562.3" cy="224.5" r="14.6" fill="#228B22"/>
<text x="1616.8" y="235.0" font-size="29.1">SMC (20)</text>
<circle cx="1562.3" cy="280.9" r="14.6" fill="#FA8072"/>
<text x="1616.8" y="291.4" font-size="29.1">Pericyte (21)</text>
<circle cx="1562.3" cy="337.3" r="14.6" fill="#F4A460"/>
<text x="1616.8" y="347.8" font-size="29.1">Macrophage/Monocyte (22)</text>
<circle cx="1562.3" cy="393.8" r="14.6" fill="#FF69B4"/>
<text x="1616.8" y="404.3" font-size="29.1">DC1 (23)</text>
<circle cx="1562.3" cy="450.2" r="14.6" fill="#FF4500"/>
<text x="1616.8" y="460.7" font-size="29.1">DC2 (24)</text>
<circle cx="1562.3" cy="506.6" r="14.6" fill="#8B4513"/>
<text x="1616.8" y="517.1" font-size="29.1">pDC (25)</text>
<circle cx="1562.3" cy="563.1" r="14.6" fill="#4682B4"/>
<text x="1616.8" y="573.6" font-size="29.1">mDC (26)</text>
<circle cx="1562.3" cy="619.5" r="14.6" fill="#2E8B57"/>
<text x="1616.8" y="630.0" font-size="29.1">B/Plasma (27)</text>
<circle cx="1562.3" cy="675.9" r="14.6" fill="#1E90FF"/>
<text x="1616.8" y="686.4" font-size="29.1">T (28)</text>
<circle cx="1562.3" cy="732.4" r="14.6" fill="#8B3626"/>
<text x="1616.8" y="742.9" font-size="29.1">NK (29)</text>
<circle cx="1562.3" cy="788.8" r="14.6" fill="#EE82EE"/>
<text x="1616.8" y="799.3" font-size="29.1">Mast (30)</text>
<circle cx="1562.3" cy="845.2" r="14.6" fill="#7FFF00"/>
<text x="1616.8" y="855.7" font-size="29.1">ccMyeloid (31)</text>
<text x="12.4" y="1007.0" font-size="49.7">B</text>
<rect x="13.1" y="1056.3" width="60.8" height="35.6" fill="#DAA520"/>
<rect x="13.1" y="1137.9" width="60.8" height="1113.9" fill="#0B0405"/>
<rect x="81.2" y="1056.3" width="60.3" height="35.6" fill="#90EE90"/>
<rect x="81.2" y="1137.9" width="60.3" height="1113.9" fill="#0B0405"/>
<rect x="149" y="1056.3" width="60.3" height="35.6" fill="#8A2BE2"/>
<rect x="149" y="1137.9" width="60.3" height="1113.9" fill="#0B0405"/>
<rect x="217" y="1056.3" width="59.8" height="35.6" fill="#8B0000"/>
<rect x="217" y="1137.9" width="59.8" height="1113.9" fill="#0B0405"/>
<rect x="284.6" y="1056.3" width="60.3" height="35.6" fill="#6495ED"/>
<rect x="284.6" y="1137.9" width="60.3" height="1113.9" fill="#0B0405"/>
<rect x="352.7" y="1056.3" width="60.3" height="35.6" fill="#003153"/>
<rect x="352.7" y="1137.9" width="60.3" height="1113.9" fill="#0B0405"/>
<rect x="420" y="1056.3" width="60.6" height="35.6" fill="#D2691E"/>
<rect x="420" y="1137.9" width="60.6" height="1113.9" fill="#0B0405"/>
<rect x="487" y="1056.3" width="60.9" height="35.6" fill="#A9A9A9"/>
<rect x="487" y="1137.9" width="60.9" height="1113.9" fill="#0B0405"/>
<rect x="555.2" y="1056.3" width="60.9" height="35.6" fill="#4DAF4A"/>
<rect x="555.2" y="1137.9" width="60.9" height="1113.9" fill="#0B0405"/>
<rect x="623" y="1056.3" width="60.2" height="35.6" fill="#FF7F00"/>
<rect x="623" y="1137.9" width="60.2" height="1113.9" fill="#0B0405"/>
<rect x="690.8" y="1056.3" width="60.2" height="35.6" fill="#984EA3"/>
<rect x="690.8" y="1137.9" width="60.2" height="1113.9" fill="#0B0405"/>
<rect x="758.3" y="1056.3" width="60.6" height="35.6" fill="#377EB8"/>
<rect x="758.3" y="1137.9" width="60.6" height="1113.9" fill="#0B0405"/>
<rect x="826.9" y="1056.3" width="58.7" height="35.6" fill="#F0027F"/>
<rect x="826.9" y="1137.9" width="58.7" height="1113.9" fill="#0B0405"/>
<rect x="892.5" y="1056.3" width="61.3" height="35.6" fill="#E41A1C"/>
<rect x="892.5" y="1137.9" width="61.3" height="1113.9" fill="#0B0405"/>
<rect x="1095.2" y="1056.3" width="79.1" height="35.6" fill="#8DD3C7"/>
<rect x="1095.2" y="1137.9" width="79.1" height="1113.9" fill="#0B0405"/>
<rect x="1181.2" y="1056.3" width="79.1" height="35.6" fill="#000080"/>
<rect x="1181.2" y="1137.9" width="79.1" height="1113.9" fill="#0B0405"/>
<rect x="1267.5" y="1056.3" width="79.1" height="35.6" fill="#228B22"/>
<rect x="1267.5" y="1137.9" width="79.1" height="1113.9" fill="#0B0405"/>
<rect x="1354.2" y="1056.3" width="78.4" height="35.6" fill="#FA8072"/>
<rect x="1354.2" y="1137.9" width="78.4" height="1113.9" fill="#0B0405"/>
<rect x="1440.9" y="1056.3" width="78.7" height="35.6" fill="#F4A460"/>
<rect x="1440.9" y="1137.9" width="78.7" height="1113.9" fill="#0B0405"/>
<rect x="1527.2" y="1056.3" width="78.8" height="35.6" fill="#FF69B4"/>
<rect x="1527.2" y="1137.9" width="78.8" height="1113.9" fill="#0B0405"/>
<rect x="1613.9" y="1056.3" width="79.1" height="35.6" fill="#FF4500"/>
<rect x="1613.9" y="1137.9" width="79.1" height="1113.9" fill="#0B0405"/>
<rect x="1699.3" y="1056.3" width="24.3" height="35.6" fill="#8B4513"/>
<rect x="1699.3" y="1137.9" width="24.3" height="1113.9" fill="#0B0405"/>
<rect x="1730.2" y="1056.3" width="55.4" height="35.6" fill="#4682B4"/>
<rect x="1730.2" y="1137.9" width="55.4" height="1113.9" fill="#0B0405"/>
<rect x="1793.4" y="1056.3" width="78.8" height="35.6" fill="#2E8B57"/>
<rect x="1793.4" y="1137.9" width="78.8" height="1113.9" fill="#0B0405"/>
<rect x="1880" y="1056.3" width="79.0" height="35.6" fill="#1E90FF"/>
<rect x="1880" y="1137.9" width="79.0" height="1113.9" fill="#0B0405"/>
<rect x="1966.8" y="1056.3" width="78.8" height="35.6" fill="#EE82EE"/>
<rect x="1966.8" y="1137.9" width="78.8" height="1113.9" fill="#0B0405"/>
<rect x="13.1" y="1095.3" width="2.2" height="35.3" fill="#CFA57A"/><rect x="15.0" y="1095.3" width="2.2" height="35.3" fill="#A0522D"/><rect x="16.8" y="1095.3" width="2.2" height="35.3" fill="#85883C"/><rect x="18.7" y="1095.3" width="2.2" height="35.3" fill="#6F8F80"/><rect x="20.6" y="1095.3" width="2.2" height="35.3" fill="#CFA57A"/><rect x="22.5" y="1095.3" width="3.1" height="35.3" fill="#3080D0"/><rect x="25.3" y="1095.3" width="2.2" height="35.3" fill="#CFA57A"/><rect x="27.1" y="1095.3" width="2.2" height="35.3" fill="#A0522D"/><rect x="29.0" y="1095.3" width="2.2" height="35.3" fill="#6F8F80"/><rect x="30.9" y="1095.3" width="2.2" height="35.3" fill="#85883C"/><rect x="32.7" y="1095.3" width="1.2" height="35.3" fill="#CFA57A"/><rect x="33.7" y="1095.3" width="2.2" height="35.3" fill="#28A838"/><rect x="35.5" y="1095.3" width="2.2" height="35.3" fill="#C4E850"/><rect x="37.4" y="1095.3" width="2.2" height="35.3" fill="#85883C"/><rect x="39.3" y="1095.3" width="2.2" height="35.3" fill="#28A838"/><rect x="41.2" y="1095.3" width="2.2" height="35.3" fill="#90E860"/><rect x="43.0" y="1095.3" width="3.1" height="35.3" fill="#C4E850"/><rect x="45.8" y="1095.3" width="2.2" height="35.3" fill="#85883C"/><rect x="47.7" y="1095.3" width="2.2" height="35.3" fill="#90E860"/><rect x="49.6" y="1095.3" width="3.1" height="35.3" fill="#C4E850"/><rect x="52.4" y="1095.3" width="2.2" height="35.3" fill="#90E860"/><rect x="54.3" y="1095.3" width="2.2" height="35.3" fill="#85883C"/><rect x="56.1" y="1095.3" width="2.2" height="35.3" fill="#28A838"/><rect x="58.0" y="1095.3" width="2.2" height="35.3" fill="#6F8F80"/><rect x="59.9" y="1095.3" width="2.2" height="35.3" fill="#3080D0"/><rect x="61.7" y="1095.3" width="2.2" height="35.3" fill="#CFA57A"/><rect x="63.6" y="1095.3" width="2.2" height="35.3" fill="#85883C"/><rect x="65.5" y="1095.3" width="3.1" height="35.3" fill="#A0522D"/><rect x="68.3" y="1095.3" width="2.2" height="35.3" fill="#6F8F80"/><rect x="70.2" y="1095.3" width="2.2" height="35.3" fill="#CFA57A"/><rect x="72.0" y="1095.3" width="1.9" height="35.3" fill="#A0522D"/><rect x="81.2" y="1095.3" width="2.2" height="35.3" fill="#60C0E8"/><rect x="83.1" y="1095.3" width="2.2" height="35.3" fill="#8844A8"/><rect x="85.0" y="1095.3" width="2.2" height="35.3" fill="#E05080"/><rect x="86.9" y="1095.3" width="2.2" height="35.3" fill="#50D858"/><rect x="88.7" y="1095.3" width="2.2" height="35.3" fill="#85883C"/><rect x="90.6" y="1095.3" width="3.1" height="35.3" fill="#3080D0"/><rect x="93.4" y="1095.3" width="2.2" height="35.3" fill="#30A0A8"/><rect x="95.3" y="1095.3" width="2.2" height="35.3" fill="#60C0E8"/><rect x="97.2" y="1095.3" width="2.2" height="35.3" fill="#8844A8"/><rect x="99.1" y="1095.3" width="2.2" height="35.3" fill="#E05080"/><rect x="101.0" y="1095.3" width="2.2" height="35.3" fill="#CFA57A"/><rect x="102.9" y="1095.3" width="2.2" height="35.3" fill="#85883C"/><rect x="104.8" y="1095.3" width="2.2" height="35.3" fill="#E8902A"/><rect x="106.6" y="1095.3" width="2.2" height="35.3" fill="#50D858"/><rect x="108.5" y="1095.3" width="2.2" height="35.3" fill="#85883C"/><rect x="110.4" y="1095.3" width="2.2" height="35.3" fill="#CFA57A"/><rect x="112.3" y="1095.3" width="2.2" height="35.3" fill="#A0522D"/><rect x="114.2" y="1095.3" width="2.2" height="35.3" fill="#85883C"/><rect x="116.1" y="1095.3" width="2.2" height="35.3" fill="#90E860"/><rect x="117.9" y="1095.3" width="2.2" height="35.3" fill="#50D858"/><rect x="119.8" y="1095.3" width="2.2" height="35.3" fill="#85883C"/><rect x="121.7" y="1095.3" width="2.2" height="35.3" fill="#CFA57A"/><rect x="123.6" y="1095.3" width="2.2" height="35.3" fill="#28A838"/><rect x="125.5" y="1095.3" width="2.2" height="35.3" fill="#85883C"/><rect x="127.4" y="1095.3" width="2.2" height="35.3" fill="#C4E850"/><rect x="129.3" y="1095.3" width="2.2" height="35.3" fill="#50D858"/><rect x="131.1" y="1095.3" width="3.1" height="35.3" fill="#8844A8"/><rect x="134.0" y="1095.3" width="2.2" height="35.3" fill="#2030A8"/><rect x="135.8" y="1095.3" width="2.2" height="35.3" fill="#3080D0"/><rect x="137.7" y="1095.3" width="2.2" height="35.3" fill="#6F8F80"/><rect x="139.6" y="1095.3" width="1.9" height="35.3" fill="#8844A8"/><rect x="149.0" y="1095.3" width="2.3" height="35.3" fill="#A06080"/><rect x="151.0" y="1095.3" width="2.3" height="35.3" fill="#CFA57A"/><rect x="153.1" y="1095.3" width="2.3" height="35.3" fill="#E8902A"/><rect x="155.1" y="1095.3" width="2.3" height="35.3" fill="#F0C030"/><rect x="157.2" y="1095.3" width="6.4" height="35.3" fill="#30A0A8"/><rect x="163.3" y="1095.3" width="2.3" height="35.3" fill="#C02414"/><rect x="165.4" y="1095.3" width="2.3" height="35.3" fill="#3080D0"/><rect x="167.4" y="1095.3" width="2.3" height="35.3" fill="#2030A8"/><rect x="169.4" y="1095.3" width="2.3" height="35.3" fill="#1C2040"/><rect x="171.5" y="1095.3" width="2.3" height="35.3" fill="#8844A8"/><rect x="173.5" y="1095.3" width="10.5" height="35.3" fill="#E03CCC"/><rect x="183.7" y="1095.3" width="3.4" height="35.3" fill="#6F8F80"/><rect x="186.8" y="1095.3" width="2.3" height="35.3" fill="#9AA890"/><rect x="188.9" y="1095.3" width="6.4" height="35.3" fill="#50D858"/><rect x="195.0" y="1095.3" width="2.3" height="35.3" fill="#28A838"/><rect x="197.0" y="1095.3" width="2.3" height="35.3" fill="#90E860"/><rect x="199.1" y="1095.3" width="3.4" height="35.3" fill="#30A0A8"/><rect x="202.1" y="1095.3" width="2.3" height="35.3" fill="#3080D0"/><rect x="204.2" y="1095.3" width="2.3" height="35.3" fill="#28A838"/><rect x="206.2" y="1095.3" width="2.3" height="35.3" fill="#30A0A8"/><rect x="208.3" y="1095.3" width="1.0" height="35.3" fill="#E05080"/><rect x="217.0" y="1095.3" width="3.6" height="35.3" fill="#E03CCC"/><rect x="220.3" y="1095.3" width="2.5" height="35.3" fill="#CFA57A"/><rect x="222.5" y="1095.3" width="2.5" height="35.3" fill="#85883C"/><rect x="224.8" y="1095.3" width="2.5" height="35.3" fill="#8844A8"/><rect x="227.0" y="1095.3" width="2.5" height="35.3" fill="#A06080"/><rect x="229.2" y="1095.3" width="2.5" height="35.3" fill="#28A838"/><rect x="231.4" y="1095.3" width="1.4" height="35.3" fill="#1C2040"/><rect x="232.5" y="1095.3" width="2.5" height="35.3" fill="#50D858"/><rect x="234.7" y="1095.3" width="1.4" height="35.3" fill="#E8902A"/><rect x="235.8" y="1095.3" width="9.2" height="35.3" fill="#E03CCC"/><rect x="244.7" y="1095.3" width="2.5" height="35.3" fill="#CFA57A"/><rect x="246.9" y="1095.3" width="9.2" height="35.3" fill="#40E8B0"/><rect x="255.8" y="1095.3" width="3.6" height="35.3" fill="#50D858"/><rect x="259.1" y="1095.3" width="2.5" height="35.3" fill="#28A838"/><rect x="261.3" y="1095.3" width="2.5" height="35.3" fill="#90E860"/><rect x="263.5" y="1095.3" width="2.5" height="35.3" fill="#85883C"/><rect x="265.7" y="1095.3" width="4.7" height="35.3" fill="#4020C0"/><rect x="270.2" y="1095.3" width="2.5" height="35.3" fill="#28A838"/><rect x="272.4" y="1095.3" width="2.5" height="35.3" fill="#6F8F80"/><rect x="274.6" y="1095.3" width="2.2" height="35.3" fill="#28A838"/><rect x="284.6" y="1095.3" width="2.5" height="35.3" fill="#CFA57A"/><rect x="286.8" y="1095.3" width="2.5" height="35.3" fill="#C02414"/><rect x="289.1" y="1095.3" width="2.5" height="35.3" fill="#E8902A"/><rect x="291.3" y="1095.3" width="4.8" height="35.3" fill="#F0C030"/><rect x="295.8" y="1095.3" width="2.5" height="35.3" fill="#8844A8"/><rect x="298.0" y="1095.3" width="2.5" height="35.3" fill="#6F8F80"/><rect x="300.2" y="1095.3" width="1.4" height="35.3" fill="#1C2040"/><rect x="301.4" y="1095.3" width="2.5" height="35.3" fill="#28A838"/><rect x="303.6" y="1095.3" width="1.4" height="35.3" fill="#9AA890"/><rect x="304.7" y="1095.3" width="1.4" height="35.3" fill="#1C2040"/><rect x="305.8" y="1095.3" width="13.7" height="35.3" fill="#E03CCC"/><rect x="319.2" y="1095.3" width="2.5" height="35.3" fill="#CFA57A"/><rect x="321.5" y="1095.3" width="3.6" height="35.3" fill="#50D858"/><rect x="324.8" y="1095.3" width="2.5" height="35.3" fill="#90E860"/><rect x="327.0" y="1095.3" width="4.8" height="35.3" fill="#50D858"/><rect x="331.5" y="1095.3" width="2.5" height="35.3" fill="#28A838"/><rect x="333.7" y="1095.3" width="2.5" height="35.3" fill="#3080D0"/><rect x="336.0" y="1095.3" width="1.4" height="35.3" fill="#2030A8"/><rect x="337.1" y="1095.3" width="2.5" height="35.3" fill="#90E860"/><rect x="339.3" y="1095.3" width="2.5" height="35.3" fill="#85883C"/><rect x="341.6" y="1095.3" width="3.3" height="35.3" fill="#A06080"/><rect x="352.7" y="1095.3" width="2.6" height="35.3" fill="#E8902A"/><rect x="355.0" y="1095.3" width="2.6" height="35.3" fill="#A0522D"/><rect x="357.3" y="1095.3" width="2.6" height="35.3" fill="#60C0E8"/><rect x="359.5" y="1095.3" width="6.0" height="35.3" fill="#2030A8"/><rect x="365.2" y="1095.3" width="2.6" height="35.3" fill="#E8902A"/><rect x="367.5" y="1095.3" width="1.4" height="35.3" fill="#60C0E8"/><rect x="368.6" y="1095.3" width="11.7" height="35.3" fill="#E03CCC"/><rect x="380.0" y="1095.3" width="7.1" height="35.3" fill="#9AA890"/><rect x="386.8" y="1095.3" width="2.6" height="35.3" fill="#30A0A8"/><rect x="389.1" y="1095.3" width="2.6" height="35.3" fill="#28A838"/><rect x="391.4" y="1095.3" width="1.4" height="35.3" fill="#1C2040"/><rect x="392.5" y="1095.3" width="3.7" height="35.3" fill="#40E8B0"/><rect x="395.9" y="1095.3" width="2.6" height="35.3" fill="#50D858"/><rect x="398.2" y="1095.3" width="7.1" height="35.3" fill="#40E8B0"/><rect x="405.0" y="1095.3" width="2.6" height="35.3" fill="#28A838"/><rect x="407.3" y="1095.3" width="3.7" height="35.3" fill="#50D858"/><rect x="410.7" y="1095.3" width="2.3" height="35.3" fill="#85883C"/><rect x="420.0" y="1095.3" width="2.5" height="35.3" fill="#CFA57A"/><rect x="422.2" y="1095.3" width="2.5" height="35.3" fill="#A0522D"/><rect x="424.4" y="1095.3" width="2.5" height="35.3" fill="#E8902A"/><rect x="426.6" y="1095.3" width="3.6" height="35.3" fill="#4020C0"/><rect x="429.9" y="1095.3" width="4.7" height="35.3" fill="#8844A8"/><rect x="434.3" y="1095.3" width="2.5" height="35.3" fill="#60C0E8"/><rect x="436.5" y="1095.3" width="5.8" height="35.3" fill="#4020C0"/><rect x="442.0" y="1095.3" width="2.5" height="35.3" fill="#CFA57A"/><rect x="444.2" y="1095.3" width="2.5" height="35.3" fill="#E8902A"/><rect x="446.4" y="1095.3" width="1.4" height="35.3" fill="#1C2040"/><rect x="447.5" y="1095.3" width="3.6" height="35.3" fill="#30A0A8"/><rect x="450.9" y="1095.3" width="3.6" height="35.3" fill="#3080D0"/><rect x="454.2" y="1095.3" width="2.5" height="35.3" fill="#8844A8"/><rect x="456.4" y="1095.3" width="4.7" height="35.3" fill="#40E8B0"/><rect x="460.8" y="1095.3" width="2.5" height="35.3" fill="#50D858"/><rect x="463.0" y="1095.3" width="2.5" height="35.3" fill="#90E860"/><rect x="465.2" y="1095.3" width="2.5" height="35.3" fill="#30A0A8"/><rect x="467.4" y="1095.3" width="2.5" height="35.3" fill="#3080D0"/><rect x="469.6" y="1095.3" width="2.5" height="35.3" fill="#60C0E8"/><rect x="471.8" y="1095.3" width="2.5" height="35.3" fill="#3080D0"/><rect x="474.0" y="1095.3" width="2.5" height="35.3" fill="#60C0E8"/><rect x="476.2" y="1095.3" width="2.5" height="35.3" fill="#28A838"/><rect x="478.4" y="1095.3" width="2.2" height="35.3" fill="#50D858"/><rect x="487.0" y="1095.3" width="4.0" height="35.3" fill="#3080D0"/><rect x="490.7" y="1095.3" width="13.7" height="35.3" fill="#C4E850"/><rect x="504.1" y="1095.3" width="4.0" height="35.3" fill="#85883C"/><rect x="507.7" y="1095.3" width="2.7" height="35.3" fill="#1C2040"/><rect x="510.1" y="1095.3" width="7.6" height="35.3" fill="#F0C030"/><rect x="517.4" y="1095.3" width="2.7" height="35.3" fill="#C02414"/><rect x="519.9" y="1095.3" width="2.7" height="35.3" fill="#E05080"/><rect x="522.3" y="1095.3" width="4.0" height="35.3" fill="#E03CCC"/><rect x="526.0" y="1095.3" width="8.8" height="35.3" fill="#40E8B0"/><rect x="534.5" y="1095.3" width="2.7" height="35.3" fill="#8844A8"/><rect x="536.9" y="1095.3" width="2.7" height="35.3" fill="#6F8F80"/><rect x="539.4" y="1095.3" width="2.7" height="35.3" fill="#1C2040"/><rect x="541.8" y="1095.3" width="2.7" height="35.3" fill="#A06080"/><rect x="544.2" y="1095.3" width="3.7" height="35.3" fill="#C4E850"/><rect x="555.2" y="1095.3" width="6.0" height="35.3" fill="#C02414"/><rect x="560.9" y="1095.3" width="2.6" height="35.3" fill="#E03CCC"/><rect x="563.2" y="1095.3" width="2.6" height="35.3" fill="#E05080"/><rect x="565.5" y="1095.3" width="2.6" height="35.3" fill="#28A838"/><rect x="567.8" y="1095.3" width="2.6" height="35.3" fill="#85883C"/><rect x="570.1" y="1095.3" width="2.6" height="35.3" fill="#C4E850"/><rect x="572.4" y="1095.3" width="2.6" height="35.3" fill="#28A838"/><rect x="574.7" y="1095.3" width="2.6" height="35.3" fill="#2030A8"/><rect x="577.0" y="1095.3" width="1.4" height="35.3" fill="#E05080"/><rect x="578.2" y="1095.3" width="2.6" height="35.3" fill="#50D858"/><rect x="580.5" y="1095.3" width="2.6" height="35.3" fill="#28A838"/><rect x="582.8" y="1095.3" width="2.6" height="35.3" fill="#85883C"/><rect x="585.1" y="1095.3" width="2.6" height="35.3" fill="#8844A8"/><rect x="587.4" y="1095.3" width="2.6" height="35.3" fill="#28A838"/><rect x="589.7" y="1095.3" width="2.6" height="35.3" fill="#C4E850"/><rect x="592.0" y="1095.3" width="2.6" height="35.3" fill="#85883C"/><rect x="594.3" y="1095.3" width="2.6" height="35.3" fill="#50D858"/><rect x="596.6" y="1095.3" width="2.6" height="35.3" fill="#28A838"/><rect x="598.9" y="1095.3" width="2.6" height="35.3" fill="#85883C"/><rect x="601.2" y="1095.3" width="2.6" height="35.3" fill="#8844A8"/><rect x="603.5" y="1095.3" width="2.6" height="35.3" fill="#A06080"/><rect x="605.8" y="1095.3" width="2.6" height="35.3" fill="#28A838"/><rect x="608.1" y="1095.3" width="2.6" height="35.3" fill="#A0522D"/><rect x="610.4" y="1095.3" width="1.4" height="35.3" fill="#1C2040"/><rect x="611.5" y="1095.3" width="2.6" height="35.3" fill="#50D858"/><rect x="613.8" y="1095.3" width="2.3" height="35.3" fill="#8844A8"/><rect x="623.0" y="1095.3" width="2.6" height="35.3" fill="#8844A8"/><rect x="625.3" y="1095.3" width="2.6" height="35.3" fill="#6F8F80"/><rect x="627.5" y="1095.3" width="2.6" height="35.3" fill="#28A838"/><rect x="629.8" y="1095.3" width="2.6" height="35.3" fill="#85883C"/><rect x="632.1" y="1095.3" width="2.6" height="35.3" fill="#A06080"/><rect x="634.4" y="1095.3" width="3.7" height="35.3" fill="#28A838"/><rect x="637.8" y="1095.3" width="3.7" height="35.3" fill="#8844A8"/><rect x="641.2" y="1095.3" width="1.4" height="35.3" fill="#1C2040"/><rect x="642.3" y="1095.3" width="2.6" height="35.3" fill="#28A838"/><rect x="644.6" y="1095.3" width="2.6" height="35.3" fill="#50D858"/><rect x="646.9" y="1095.3" width="4.8" height="35.3" fill="#90E860"/><rect x="651.4" y="1095.3" width="2.6" height="35.3" fill="#85883C"/><rect x="653.7" y="1095.3" width="2.6" height="35.3" fill="#28A838"/><rect x="655.9" y="1095.3" width="4.8" height="35.3" fill="#90E860"/><rect x="660.5" y="1095.3" width="1.4" height="35.3" fill="#1C2040"/><rect x="661.6" y="1095.3" width="2.6" height="35.3" fill="#85883C"/><rect x="663.9" y="1095.3" width="2.6" height="35.3" fill="#28A838"/><rect x="666.2" y="1095.3" width="2.6" height="35.3" fill="#90E860"/><rect x="668.4" y="1095.3" width="1.4" height="35.3" fill="#1C2040"/><rect x="669.6" y="1095.3" width="2.6" height="35.3" fill="#6F8F80"/><rect x="671.8" y="1095.3" width="3.7" height="35.3" fill="#28A838"/><rect x="675.2" y="1095.3" width="2.6" height="35.3" fill="#85883C"/><rect x="677.5" y="1095.3" width="2.6" height="35.3" fill="#90E860"/><rect x="679.8" y="1095.3" width="1.4" height="35.3" fill="#1C2040"/><rect x="680.9" y="1095.3" width="2.3" height="35.3" fill="#28A838"/><rect x="690.8" y="1095.3" width="4.8" height="35.3" fill="#C02414"/><rect x="695.3" y="1095.3" width="3.7" height="35.3" fill="#8844A8"/><rect x="698.8" y="1095.3" width="2.6" height="35.3" fill="#CFA57A"/><rect x="701.0" y="1095.3" width="3.7" height="35.3" fill="#60C0E8"/><rect x="704.4" y="1095.3" width="2.6" height="35.3" fill="#CFA57A"/><rect x="706.7" y="1095.3" width="2.6" height="35.3" fill="#A0522D"/><rect x="709.0" y="1095.3" width="2.6" height="35.3" fill="#E8902A"/><rect x="711.2" y="1095.3" width="2.6" height="35.3" fill="#1C2040"/><rect x="713.5" y="1095.3" width="2.6" height="35.3" fill="#A0522D"/><rect x="715.8" y="1095.3" width="2.6" height="35.3" fill="#E8902A"/><rect x="718.1" y="1095.3" width="3.7" height="35.3" fill="#28A838"/><rect x="721.5" y="1095.3" width="2.6" height="35.3" fill="#50D858"/><rect x="723.7" y="1095.3" width="2.6" height="35.3" fill="#CFA57A"/><rect x="726.0" y="1095.3" width="2.6" height="35.3" fill="#C4E850"/><rect x="728.3" y="1095.3" width="2.6" height="35.3" fill="#90E860"/><rect x="730.6" y="1095.3" width="1.4" height="35.3" fill="#1C2040"/><rect x="731.7" y="1095.3" width="2.6" height="35.3" fill="#50D858"/><rect x="734.0" y="1095.3" width="2.6" height="35.3" fill="#90E860"/><rect x="736.2" y="1095.3" width="2.6" height="35.3" fill="#85883C"/><rect x="738.5" y="1095.3" width="2.6" height="35.3" fill="#30A0A8"/><rect x="740.8" y="1095.3" width="2.6" height="35.3" fill="#60C0E8"/><rect x="743.0" y="1095.3" width="2.6" height="35.3" fill="#40E8B0"/><rect x="745.3" y="1095.3" width="2.6" height="35.3" fill="#50D858"/><rect x="747.6" y="1095.3" width="1.4" height="35.3" fill="#1C2040"/><rect x="748.7" y="1095.3" width="2.3" height="35.3" fill="#28A838"/><rect x="758.3" y="1095.3" width="8.5" height="35.3" fill="#C02414"/><rect x="766.5" y="1095.3" width="2.6" height="35.3" fill="#8844A8"/><rect x="768.8" y="1095.3" width="3.8" height="35.3" fill="#E05080"/><rect x="772.3" y="1095.3" width="2.6" height="35.3" fill="#28A838"/><rect x="774.6" y="1095.3" width="2.6" height="35.3" fill="#CFA57A"/><rect x="776.9" y="1095.3" width="2.6" height="35.3" fill="#E8902A"/><rect x="779.3" y="1095.3" width="1.5" height="35.3" fill="#1C2040"/><rect x="780.4" y="1095.3" width="2.6" height="35.3" fill="#85883C"/><rect x="782.8" y="1095.3" width="2.6" height="35.3" fill="#28A838"/><rect x="785.1" y="1095.3" width="7.3" height="35.3" fill="#50D858"/><rect x="792.1" y="1095.3" width="3.8" height="35.3" fill="#90E860"/><rect x="795.6" y="1095.3" width="2.6" height="35.3" fill="#50D858"/><rect x="797.9" y="1095.3" width="2.6" height="35.3" fill="#28A838"/><rect x="800.3" y="1095.3" width="2.6" height="35.3" fill="#40E8B0"/><rect x="802.6" y="1095.3" width="2.6" height="35.3" fill="#90E860"/><rect x="804.9" y="1095.3" width="2.6" height="35.3" fill="#28A838"/><rect x="807.2" y="1095.3" width="2.6" height="35.3" fill="#40E8B0"/><rect x="809.6" y="1095.3" width="2.6" height="35.3" fill="#50D858"/><rect x="811.9" y="1095.3" width="2.6" height="35.3" fill="#85883C"/><rect x="814.2" y="1095.3" width="2.6" height="35.3" fill="#CFA57A"/><rect x="816.6" y="1095.3" width="2.3" height="35.3" fill="#8844A8"/><rect x="826.9" y="1095.3" width="2.7" height="35.3" fill="#A0522D"/><rect x="829.3" y="1095.3" width="2.7" height="35.3" fill="#A06080"/><rect x="831.7" y="1095.3" width="2.7" height="35.3" fill="#8844A8"/><rect x="834.1" y="1095.3" width="2.7" height="35.3" fill="#E03CCC"/><rect x="836.5" y="1095.3" width="2.7" height="35.3" fill="#60C0E8"/><rect x="838.9" y="1095.3" width="5.1" height="35.3" fill="#F050F8"/><rect x="843.7" y="1095.3" width="3.9" height="35.3" fill="#6F8F80"/><rect x="847.3" y="1095.3" width="3.9" height="35.3" fill="#30A0A8"/><rect x="850.9" y="1095.3" width="2.7" height="35.3" fill="#6F8F80"/><rect x="853.3" y="1095.3" width="3.9" height="35.3" fill="#50D858"/><rect x="856.8" y="1095.3" width="3.9" height="35.3" fill="#90E860"/><rect x="860.4" y="1095.3" width="2.7" height="35.3" fill="#50D858"/><rect x="862.8" y="1095.3" width="2.7" height="35.3" fill="#28A838"/><rect x="865.2" y="1095.3" width="8.7" height="35.3" fill="#C4E850"/><rect x="873.6" y="1095.3" width="2.7" height="35.3" fill="#50D858"/><rect x="876.0" y="1095.3" width="3.9" height="35.3" fill="#30A0A8"/><rect x="879.6" y="1095.3" width="2.7" height="35.3" fill="#28A838"/><rect x="882.0" y="1095.3" width="1.5" height="35.3" fill="#1C2040"/><rect x="883.2" y="1095.3" width="2.4" height="35.3" fill="#A06080"/><rect x="892.5" y="1095.3" width="2.7" height="35.3" fill="#8844A8"/><rect x="894.9" y="1095.3" width="2.7" height="35.3" fill="#E05080"/><rect x="897.2" y="1095.3" width="2.7" height="35.3" fill="#85883C"/><rect x="899.6" y="1095.3" width="2.7" height="35.3" fill="#28A838"/><rect x="901.9" y="1095.3" width="2.7" height="35.3" fill="#85883C"/><rect x="904.3" y="1095.3" width="6.2" height="35.3" fill="#4020C0"/><rect x="910.2" y="1095.3" width="2.7" height="35.3" fill="#A0522D"/><rect x="912.5" y="1095.3" width="2.7" height="35.3" fill="#E8902A"/><rect x="914.9" y="1095.3" width="2.7" height="35.3" fill="#85883C"/><rect x="917.3" y="1095.3" width="2.7" height="35.3" fill="#CFA57A"/><rect x="919.6" y="1095.3" width="2.7" height="35.3" fill="#C4E850"/><rect x="922.0" y="1095.3" width="2.7" height="35.3" fill="#50D858"/><rect x="924.3" y="1095.3" width="2.7" height="35.3" fill="#85883C"/><rect x="926.7" y="1095.3" width="2.7" height="35.3" fill="#30A0A8"/><rect x="929.0" y="1095.3" width="6.2" height="35.3" fill="#28A838"/><rect x="934.9" y="1095.3" width="2.7" height="35.3" fill="#50D858"/><rect x="937.3" y="1095.3" width="2.7" height="35.3" fill="#90E860"/><rect x="939.7" y="1095.3" width="2.7" height="35.3" fill="#3080D0"/><rect x="942.0" y="1095.3" width="2.7" height="35.3" fill="#6F8F80"/><rect x="944.4" y="1095.3" width="2.7" height="35.3" fill="#3080D0"/><rect x="946.7" y="1095.3" width="2.7" height="35.3" fill="#9AA890"/><rect x="949.1" y="1095.3" width="4.7" height="35.3" fill="#C4E850"/><rect x="1095.2" y="1095.3" width="6.9" height="35.3" fill="#B98CF0"/><rect x="1101.8" y="1095.3" width="5.2" height="35.3" fill="#E890A8"/><rect x="1106.7" y="1095.3" width="3.6" height="35.3" fill="#F5A9D0"/><rect x="1110.0" y="1095.3" width="5.2" height="35.3" fill="#F4B8B0"/><rect x="1115.0" y="1095.3" width="3.6" height="35.3" fill="#F5A9D0"/><rect x="1118.3" y="1095.3" width="3.6" height="35.3" fill="#D8C0F0"/><rect x="1121.6" y="1095.3" width="3.6" height="35.3" fill="#F4B8B0"/><rect x="1124.9" y="1095.3" width="3.6" height="35.3" fill="#E890A8"/><rect x="1128.2" y="1095.3" width="3.6" height="35.3" fill="#F5A9D0"/><rect x="1131.5" y="1095.3" width="3.6" height="35.3" fill="#D8C0F0"/><rect x="1134.8" y="1095.3" width="3.6" height="35.3" fill="#A0F0A0"/><rect x="1138.0" y="1095.3" width="3.6" height="35.3" fill="#D0F0A0"/><rect x="1141.3" y="1095.3" width="3.6" height="35.3" fill="#90F0D0"/><rect x="1144.6" y="1095.3" width="3.6" height="35.3" fill="#A0F0A0"/><rect x="1147.9" y="1095.3" width="1.9" height="35.3" fill="#D8C0F0"/><rect x="1149.6" y="1095.3" width="3.6" height="35.3" fill="#90F0D0"/><rect x="1152.9" y="1095.3" width="3.6" height="35.3" fill="#D0F0A0"/><rect x="1156.2" y="1095.3" width="3.6" height="35.3" fill="#A0F0A0"/><rect x="1159.5" y="1095.3" width="5.2" height="35.3" fill="#90F0D0"/><rect x="1164.4" y="1095.3" width="3.6" height="35.3" fill="#D0F0A0"/><rect x="1167.7" y="1095.3" width="6.6" height="35.3" fill="#90F0D0"/><rect x="1181.2" y="1095.3" width="5.8" height="35.3" fill="#B98CF0"/><rect x="1186.7" y="1095.3" width="4.0" height="35.3" fill="#E070E0"/><rect x="1190.4" y="1095.3" width="5.8" height="35.3" fill="#F5A9D0"/><rect x="1195.9" y="1095.3" width="4.0" height="35.3" fill="#D8C0F0"/><rect x="1199.6" y="1095.3" width="4.0" height="35.3" fill="#F5A9D0"/><rect x="1203.3" y="1095.3" width="5.8" height="35.3" fill="#F4B8B0"/><rect x="1208.8" y="1095.3" width="4.0" height="35.3" fill="#D8C0F0"/><rect x="1212.5" y="1095.3" width="4.0" height="35.3" fill="#F5A9D0"/><rect x="1216.2" y="1095.3" width="4.0" height="35.3" fill="#E890A8"/><rect x="1219.8" y="1095.3" width="4.0" height="35.3" fill="#D0F0A0"/><rect x="1223.5" y="1095.3" width="4.0" height="35.3" fill="#F0F0A0"/><rect x="1227.2" y="1095.3" width="4.0" height="35.3" fill="#D0F0A0"/><rect x="1230.9" y="1095.3" width="5.8" height="35.3" fill="#90F0D0"/><rect x="1236.4" y="1095.3" width="4.0" height="35.3" fill="#D8C0F0"/><rect x="1240.1" y="1095.3" width="4.0" height="35.3" fill="#90F0D0"/><rect x="1243.7" y="1095.3" width="4.0" height="35.3" fill="#A0E0E8"/><rect x="1247.4" y="1095.3" width="4.0" height="35.3" fill="#90F0D0"/><rect x="1251.1" y="1095.3" width="4.0" height="35.3" fill="#A0F0A0"/><rect x="1254.8" y="1095.3" width="5.5" height="35.3" fill="#A8D0F0"/><rect x="1267.5" y="1095.3" width="15.0" height="35.3" fill="#B98CF0"/><rect x="1282.2" y="1095.3" width="4.0" height="35.3" fill="#F5A9D0"/><rect x="1285.9" y="1095.3" width="4.0" height="35.3" fill="#D8C0F0"/><rect x="1289.6" y="1095.3" width="4.0" height="35.3" fill="#F5A9D0"/><rect x="1293.3" y="1095.3" width="4.0" height="35.3" fill="#D8C0F0"/><rect x="1296.9" y="1095.3" width="5.8" height="35.3" fill="#90F0D0"/><rect x="1302.5" y="1095.3" width="5.8" height="35.3" fill="#A0F0A0"/><rect x="1308.0" y="1095.3" width="4.0" height="35.3" fill="#D8C0F0"/><rect x="1311.6" y="1095.3" width="5.8" height="35.3" fill="#A0F0A0"/><rect x="1317.2" y="1095.3" width="4.0" height="35.3" fill="#D0F0A0"/><rect x="1320.8" y="1095.3" width="4.0" height="35.3" fill="#A0F0A0"/><rect x="1324.5" y="1095.3" width="5.8" height="35.3" fill="#A8D0F0"/><rect x="1330.0" y="1095.3" width="16.6" height="35.3" fill="#90F0D0"/><rect x="1354.2" y="1095.3" width="6.5" height="35.3" fill="#B98CF0"/><rect x="1360.4" y="1095.3" width="4.4" height="35.3" fill="#F5A9D0"/><rect x="1364.5" y="1095.3" width="4.4" height="35.3" fill="#E890A8"/><rect x="1368.6" y="1095.3" width="4.4" height="35.3" fill="#D8C0F0"/><rect x="1372.8" y="1095.3" width="4.4" height="35.3" fill="#F5A9D0"/><rect x="1376.9" y="1095.3" width="4.4" height="35.3" fill="#F4B8B0"/><rect x="1381.0" y="1095.3" width="4.4" height="35.3" fill="#90A8E8"/><rect x="1385.1" y="1095.3" width="4.4" height="35.3" fill="#F0F0A0"/><rect x="1389.3" y="1095.3" width="4.4" height="35.3" fill="#D0F0A0"/><rect x="1393.4" y="1095.3" width="4.4" height="35.3" fill="#F5A9D0"/><rect x="1397.5" y="1095.3" width="6.5" height="35.3" fill="#90F0D0"/><rect x="1403.7" y="1095.3" width="6.5" height="35.3" fill="#A0F0A0"/><rect x="1409.9" y="1095.3" width="4.4" height="35.3" fill="#D8C0F0"/><rect x="1414.0" y="1095.3" width="4.4" height="35.3" fill="#A0F0A0"/><rect x="1418.2" y="1095.3" width="4.4" height="35.3" fill="#90F0D0"/><rect x="1422.3" y="1095.3" width="4.4" height="35.3" fill="#A0E0E8"/><rect x="1426.4" y="1095.3" width="6.2" height="35.3" fill="#90F0D0"/><rect x="1440.9" y="1095.3" width="4.0" height="35.3" fill="#D8C0F0"/><rect x="1444.6" y="1095.3" width="4.0" height="35.3" fill="#F5A9D0"/><rect x="1448.2" y="1095.3" width="4.0" height="35.3" fill="#E890A8"/><rect x="1451.9" y="1095.3" width="4.0" height="35.3" fill="#F4B8B0"/><rect x="1455.5" y="1095.3" width="4.0" height="35.3" fill="#D8C0F0"/><rect x="1459.2" y="1095.3" width="4.0" height="35.3" fill="#F5A9D0"/><rect x="1462.9" y="1095.3" width="7.6" height="35.3" fill="#F0F0A0"/><rect x="1470.2" y="1095.3" width="4.0" height="35.3" fill="#D0F0A0"/><rect x="1473.8" y="1095.3" width="4.0" height="35.3" fill="#D8C0F0"/><rect x="1477.5" y="1095.3" width="4.0" height="35.3" fill="#A8D0F0"/><rect x="1481.2" y="1095.3" width="4.0" height="35.3" fill="#F0F0A0"/><rect x="1484.8" y="1095.3" width="4.0" height="35.3" fill="#F4B8B0"/><rect x="1488.5" y="1095.3" width="4.0" height="35.3" fill="#D0F0A0"/><rect x="1492.1" y="1095.3" width="5.8" height="35.3" fill="#A0F0A0"/><rect x="1497.6" y="1095.3" width="4.0" height="35.3" fill="#90F0D0"/><rect x="1501.3" y="1095.3" width="5.8" height="35.3" fill="#90A8E8"/><rect x="1506.8" y="1095.3" width="4.0" height="35.3" fill="#F5A9D0"/><rect x="1510.4" y="1095.3" width="5.8" height="35.3" fill="#F4B8B0"/><rect x="1515.9" y="1095.3" width="3.7" height="35.3" fill="#A8D0F0"/><rect x="1527.2" y="1095.3" width="6.7" height="35.3" fill="#A8D0F0"/><rect x="1533.6" y="1095.3" width="4.6" height="35.3" fill="#D8C0F0"/><rect x="1537.8" y="1095.3" width="4.6" height="35.3" fill="#F5A9D0"/><rect x="1542.1" y="1095.3" width="4.6" height="35.3" fill="#90A8E8"/><rect x="1546.4" y="1095.3" width="4.6" height="35.3" fill="#F5A9D0"/><rect x="1550.6" y="1095.3" width="4.6" height="35.3" fill="#F4B8B0"/><rect x="1554.9" y="1095.3" width="4.6" height="35.3" fill="#D8C0F0"/><rect x="1559.1" y="1095.3" width="6.7" height="35.3" fill="#F0F0A0"/><rect x="1565.5" y="1095.3" width="4.6" height="35.3" fill="#F4B8B0"/><rect x="1569.8" y="1095.3" width="4.6" height="35.3" fill="#A0F0A0"/><rect x="1574.1" y="1095.3" width="4.6" height="35.3" fill="#D0F0A0"/><rect x="1578.3" y="1095.3" width="4.6" height="35.3" fill="#A0E0E8"/><rect x="1582.6" y="1095.3" width="4.6" height="35.3" fill="#90A8E8"/><rect x="1586.8" y="1095.3" width="4.6" height="35.3" fill="#90F0D0"/><rect x="1591.1" y="1095.3" width="4.6" height="35.3" fill="#A0F0A0"/><rect x="1595.4" y="1095.3" width="6.7" height="35.3" fill="#A0E0E8"/><rect x="1601.7" y="1095.3" width="4.3" height="35.3" fill="#D0F0A0"/><rect x="1613.9" y="1095.3" width="4.1" height="35.3" fill="#D8C0F0"/><rect x="1617.7" y="1095.3" width="4.1" height="35.3" fill="#B98CF0"/><rect x="1621.4" y="1095.3" width="4.1" height="35.3" fill="#F5A9D0"/><rect x="1625.2" y="1095.3" width="4.1" height="35.3" fill="#F4B8B0"/><rect x="1629.0" y="1095.3" width="4.1" height="35.3" fill="#D8C0F0"/><rect x="1632.7" y="1095.3" width="4.1" height="35.3" fill="#F0F0A0"/><rect x="1636.5" y="1095.3" width="5.9" height="35.3" fill="#F4B8B0"/><rect x="1642.2" y="1095.3" width="4.1" height="35.3" fill="#F5A9D0"/><rect x="1645.9" y="1095.3" width="5.9" height="35.3" fill="#A0F0A0"/><rect x="1651.6" y="1095.3" width="4.1" height="35.3" fill="#D0F0A0"/><rect x="1655.3" y="1095.3" width="9.7" height="35.3" fill="#A0F0A0"/><rect x="1664.8" y="1095.3" width="4.1" height="35.3" fill="#D8C0F0"/><rect x="1668.5" y="1095.3" width="4.1" height="35.3" fill="#B98CF0"/><rect x="1672.3" y="1095.3" width="4.1" height="35.3" fill="#E070E0"/><rect x="1676.1" y="1095.3" width="4.1" height="35.3" fill="#A0E0E8"/><rect x="1679.8" y="1095.3" width="4.1" height="35.3" fill="#A0F0A0"/><rect x="1683.6" y="1095.3" width="4.1" height="35.3" fill="#90F0D0"/><rect x="1687.4" y="1095.3" width="5.6" height="35.3" fill="#A8D0F0"/><rect x="1699.3" y="1095.3" width="3.5" height="35.3" fill="#D8C0F0"/><rect x="1702.5" y="1095.3" width="3.5" height="35.3" fill="#F5A9D0"/><rect x="1705.8" y="1095.3" width="1.9" height="35.3" fill="#90A8E8"/><rect x="1707.4" y="1095.3" width="3.5" height="35.3" fill="#F5A9D0"/><rect x="1710.6" y="1095.3" width="3.5" height="35.3" fill="#D8C0F0"/><rect x="1713.9" y="1095.3" width="3.5" height="35.3" fill="#A0F0A0"/><rect x="1717.1" y="1095.3" width="3.5" height="35.3" fill="#90A8E8"/><rect x="1720.4" y="1095.3" width="3.2" height="35.3" fill="#A0F0A0"/><rect x="1730.2" y="1095.3" width="4.0" height="35.3" fill="#D8C0F0"/><rect x="1733.9" y="1095.3" width="4.0" height="35.3" fill="#F5A9D0"/><rect x="1737.6" y="1095.3" width="4.0" height="35.3" fill="#E890A8"/><rect x="1741.3" y="1095.3" width="4.0" height="35.3" fill="#D8C0F0"/><rect x="1745.0" y="1095.3" width="4.0" height="35.3" fill="#F5A9D0"/><rect x="1748.7" y="1095.3" width="5.8" height="35.3" fill="#D0F0A0"/><rect x="1754.2" y="1095.3" width="5.8" height="35.3" fill="#A0F0A0"/><rect x="1759.7" y="1095.3" width="4.0" height="35.3" fill="#D0F0A0"/><rect x="1763.4" y="1095.3" width="4.0" height="35.3" fill="#A0F0A0"/><rect x="1767.1" y="1095.3" width="5.8" height="35.3" fill="#90A8E8"/><rect x="1772.7" y="1095.3" width="4.0" height="35.3" fill="#A8D0F0"/><rect x="1776.4" y="1095.3" width="4.0" height="35.3" fill="#D8C0F0"/><rect x="1780.1" y="1095.3" width="5.5" height="35.3" fill="#D0F0A0"/><rect x="1793.4" y="1095.3" width="4.1" height="35.3" fill="#F4B8B0"/><rect x="1797.2" y="1095.3" width="4.1" height="35.3" fill="#F5A9D0"/><rect x="1801.1" y="1095.3" width="8.0" height="35.3" fill="#B98CF0"/><rect x="1808.8" y="1095.3" width="11.8" height="35.3" fill="#F4B8B0"/><rect x="1820.3" y="1095.3" width="4.1" height="35.3" fill="#F5A9D0"/><rect x="1824.2" y="1095.3" width="4.1" height="35.3" fill="#D8C0F0"/><rect x="1828.0" y="1095.3" width="4.1" height="35.3" fill="#E890A8"/><rect x="1831.8" y="1095.3" width="4.1" height="35.3" fill="#F5A9D0"/><rect x="1835.7" y="1095.3" width="4.1" height="35.3" fill="#F4B8B0"/><rect x="1839.5" y="1095.3" width="4.1" height="35.3" fill="#A0F0A0"/><rect x="1843.4" y="1095.3" width="4.1" height="35.3" fill="#D0F0A0"/><rect x="1847.2" y="1095.3" width="6.1" height="35.3" fill="#A0F0A0"/><rect x="1853.0" y="1095.3" width="4.1" height="35.3" fill="#D8C0F0"/><rect x="1856.8" y="1095.3" width="4.1" height="35.3" fill="#A0F0A0"/><rect x="1860.7" y="1095.3" width="4.1" height="35.3" fill="#90F0D0"/><rect x="1864.5" y="1095.3" width="4.1" height="35.3" fill="#D0F0A0"/><rect x="1868.4" y="1095.3" width="3.8" height="35.3" fill="#A0F0A0"/><rect x="1880.0" y="1095.3" width="7.5" height="35.3" fill="#F5A9D0"/><rect x="1887.2" y="1095.3" width="3.9" height="35.3" fill="#D0F0A0"/><rect x="1890.8" y="1095.3" width="3.9" height="35.3" fill="#F4B8B0"/><rect x="1894.4" y="1095.3" width="5.7" height="35.3" fill="#D0F0A0"/><rect x="1899.8" y="1095.3" width="7.5" height="35.3" fill="#B98CF0"/><rect x="1906.9" y="1095.3" width="3.9" height="35.3" fill="#F4B8B0"/><rect x="1910.5" y="1095.3" width="3.9" height="35.3" fill="#D8C0F0"/><rect x="1914.1" y="1095.3" width="3.9" height="35.3" fill="#D0F0A0"/><rect x="1917.7" y="1095.3" width="3.9" height="35.3" fill="#A0F0A0"/><rect x="1921.3" y="1095.3" width="3.9" height="35.3" fill="#F5A9D0"/><rect x="1924.9" y="1095.3" width="3.9" height="35.3" fill="#D0F0A0"/><rect x="1928.5" y="1095.3" width="3.9" height="35.3" fill="#A0F0A0"/><rect x="1932.1" y="1095.3" width="5.7" height="35.3" fill="#90A8E8"/><rect x="1937.5" y="1095.3" width="3.9" height="35.3" fill="#D8C0F0"/><rect x="1941.0" y="1095.3" width="3.9" height="35.3" fill="#A0F0A0"/><rect x="1944.6" y="1095.3" width="3.9" height="35.3" fill="#F4B8B0"/><rect x="1948.2" y="1095.3" width="3.9" height="35.3" fill="#D0F0A0"/><rect x="1951.8" y="1095.3" width="3.9" height="35.3" fill="#90F0D0"/><rect x="1955.4" y="1095.3" width="3.6" height="35.3" fill="#D0F0A0"/><rect x="1966.8" y="1095.3" width="4.1" height="35.3" fill="#D8C0F0"/><rect x="1970.6" y="1095.3" width="9.9" height="35.3" fill="#B98CF0"/><rect x="1980.3" y="1095.3" width="4.1" height="35.3" fill="#F4B8B0"/><rect x="1984.1" y="1095.3" width="4.1" height="35.3" fill="#90A8E8"/><rect x="1987.9" y="1095.3" width="8.0" height="35.3" fill="#D0F0A0"/><rect x="1995.6" y="1095.3" width="21.4" height="35.3" fill="#A0F0A0"/><rect x="2016.8" y="1095.3" width="6.1" height="35.3" fill="#A0E0E8"/><rect x="2022.5" y="1095.3" width="6.1" height="35.3" fill="#A8D0F0"/><rect x="2028.3" y="1095.3" width="4.1" height="35.3" fill="#D0F0A0"/><rect x="2032.1" y="1095.3" width="4.1" height="35.3" fill="#90A8E8"/><rect x="2036.0" y="1095.3" width="6.1" height="35.3" fill="#A0F0A0"/><rect x="2041.8" y="1095.3" width="3.8" height="35.3" fill="#90F0D0"/>
<path fill="#2D1F3C" d="M189.2 1137.9h3.1v19.21h-3.1zM497.9 1137.9h1.6v19.21h-1.6zM941.5 1157.1h1.5v19.21h-1.5zM87.4 1176.3h1.5v19.21h-1.5zM458.8 1176.3h1.6v19.21h-1.6zM570.8 1176.3h1.6v19.21h-1.6zM772.3 1176.3h1.6v19.21h-1.6zM269.1 1195.5h1.5v19.21h-1.5zM272.2 1195.5h1.5v19.21h-1.5zM321.7 1233.9h1.5v19.21h-1.5zM800.3 1253.1h1.6v19.21h-1.6zM323.3 1291.5h1.5v19.21h-1.5zM66.1 1330.0h3.1v19.21h-3.1zM218.5 1330.0h3.1v19.21h-3.1zM293.9 1349.2h1.5v19.21h-1.5zM477.5 1349.2h1.6v19.21h-1.6zM329.4 1368.4h1.5v19.21h-1.5zM335.6 1368.4h1.5v19.21h-1.5zM804.9 1445.2h1.6v19.21h-1.6zM809.6 1445.2h1.6v19.21h-1.6zM19.3 1541.2h1.6v19.21h-1.6zM479.0 1541.2h1.6v19.21h-1.6zM246.1 1560.4h3.1v19.21h-3.1zM904.8 1714.1h1.5v19.21h-1.5zM164.5 1848.5h1.5v19.21h-1.5zM189.2 1848.5h1.5v19.21h-1.5zM884.1 1848.5h1.5v19.21h-1.5zM527.6 1886.9h3.1v19.21h-3.1zM606.7 1886.9h1.6v19.21h-1.6zM438.6 1944.5h3.1v19.21h-3.1zM704.7 1944.5h1.5v19.21h-1.5zM173.7 1963.7h1.5v19.21h-1.5zM183.0 1963.7h1.5v19.21h-1.5zM814.2 2002.1h1.6v19.21h-1.6zM270.7 2021.3h1.5v19.21h-1.5zM504.2 2021.3h1.6v19.21h-1.6zM842.3 2040.5h1.5v19.21h-1.5zM641.5 2136.6h3.1v19.21h-3.1zM670.9 2136.6h3.1v19.21h-3.1zM727.8 2136.6h1.5v19.21h-1.5zM780.1 2136.6h1.6v19.21h-1.6zM402.2 2194.2h1.5v19.21h-1.5zM391.4 2213.4h1.5v19.21h-1.5zM845.4 2213.4h1.5v19.21h-1.5zM314.0 2232.6h3.1v19.21h-3.1zM519.8 2232.6h1.6v19.21h-1.6z"/><path fill="#3A2D5B" d="M119.9 1137.9h1.5v19.21h-1.5zM493.2 1137.9h1.6v19.21h-1.6zM524.5 1137.9h1.6v19.21h-1.6zM244.6 1157.1h4.6v19.21h-4.6zM99.8 1176.3h1.5v19.21h-1.5zM224.7 1176.3h1.5v19.21h-1.5zM255.3 1176.3h4.6v19.21h-4.6zM272.2 1176.3h1.5v19.21h-1.5zM437.1 1176.3h1.6v19.21h-1.6zM440.2 1176.3h1.6v19.21h-1.6zM454.2 1176.3h4.7v19.21h-4.7zM472.8 1176.3h1.6v19.21h-1.6zM491.7 1176.3h3.1v19.21h-3.1zM502.6 1176.3h1.6v19.21h-1.6zM526.0 1176.3h1.6v19.21h-1.6zM588.0 1176.3h1.6v19.21h-1.6zM598.9 1176.3h1.6v19.21h-1.6zM608.3 1176.3h1.6v19.21h-1.6zM690.8 1176.3h1.5v19.21h-1.5zM787.8 1176.3h1.6v19.21h-1.6zM794.0 1176.3h6.2v19.21h-6.2zM845.4 1176.3h1.5v19.21h-1.5zM221.6 1195.5h3.1v19.21h-3.1zM304.7 1195.5h1.5v19.21h-1.5zM318.6 1195.5h1.5v19.21h-1.5zM357.3 1195.5h1.5v19.21h-1.5zM405.3 1195.5h3.1v19.21h-3.1zM460.4 1195.5h1.6v19.21h-1.6zM600.5 1195.5h3.1v19.21h-3.1zM803.4 1195.5h1.6v19.21h-1.6zM797.1 1214.7h1.6v19.21h-1.6zM150.5 1233.9h1.5v19.21h-1.5zM267.6 1233.9h1.5v19.21h-1.5zM444.9 1233.9h1.6v19.21h-1.6zM918.6 1233.9h3.1v19.21h-3.1zM790.9 1253.1h1.6v19.21h-1.6zM63.0 1272.3h1.6v19.21h-1.6zM256.9 1272.3h1.5v19.21h-1.5zM310.9 1291.5h1.5v19.21h-1.5zM460.4 1291.5h1.6v19.21h-1.6zM443.3 1330.0h1.6v19.21h-1.6zM217.0 1349.2h1.5v19.21h-1.5zM235.4 1349.2h3.1v19.21h-3.1zM301.6 1349.2h1.5v19.21h-1.5zM424.7 1349.2h3.1v19.21h-3.1zM458.8 1349.2h1.6v19.21h-1.6zM472.8 1349.2h3.1v19.21h-3.1zM184.6 1368.4h3.1v19.21h-3.1zM331.0 1368.4h1.5v19.21h-1.5zM427.8 1406.8h1.6v19.21h-1.6zM17.8 1445.2h3.1v19.21h-3.1zM169.1 1445.2h3.1v19.21h-3.1zM657.0 1445.2h1.5v19.21h-1.5zM764.5 1445.2h6.2v19.21h-6.2zM158.3 1464.4h3.1v19.21h-3.1zM465.1 1464.4h1.6v19.21h-1.6zM477.5 1464.4h1.6v19.21h-1.6zM443.3 1522.0h1.6v19.21h-1.6zM541.7 1541.2h1.6v19.21h-1.6zM411.5 1598.8h1.5v19.21h-1.5zM512.0 1598.8h1.6v19.21h-1.6zM273.7 1618.0h3.1v19.21h-3.1zM801.8 1618.0h1.6v19.21h-1.6zM924.7 1637.2h1.5v19.21h-1.5zM454.2 1656.4h1.6v19.21h-1.6zM929.3 1656.4h3.1v19.21h-3.1zM472.8 1675.6h1.6v19.21h-1.6zM874.8 1675.6h1.5v19.21h-1.5zM465.1 1694.9h1.6v19.21h-1.6zM435.5 1752.5h3.1v19.21h-3.1zM266.1 1790.9h4.6v19.21h-4.6zM697.0 1829.3h4.6v19.21h-4.6zM734.0 1829.3h1.5v19.21h-1.5zM150.5 1848.5h3.1v19.21h-3.1zM162.9 1848.5h1.5v19.21h-1.5zM184.6 1848.5h3.1v19.21h-3.1zM641.5 1848.5h1.5v19.21h-1.5zM329.4 1867.7h1.5v19.21h-1.5zM581.7 1886.9h1.6v19.21h-1.6zM602.0 1886.9h1.6v19.21h-1.6zM613.0 1886.9h1.6v19.21h-1.6zM519.8 1906.1h1.6v19.21h-1.6zM831.5 1906.1h3.1v19.21h-3.1zM670.9 1944.5h1.5v19.21h-1.5zM675.5 1944.5h4.6v19.21h-4.6zM310.9 1963.7h1.5v19.21h-1.5zM767.6 1963.7h1.6v19.21h-1.6zM815.8 1963.7h1.6v19.21h-1.6zM561.4 1982.9h1.6v19.21h-1.6zM580.2 1982.9h1.6v19.21h-1.6zM772.3 1982.9h1.6v19.21h-1.6zM811.1 1982.9h1.6v19.21h-1.6zM396.0 2021.3h1.5v19.21h-1.5zM845.4 2040.5h1.5v19.21h-1.5zM848.5 2040.5h1.5v19.21h-1.5zM862.4 2040.5h1.5v19.21h-1.5zM865.5 2040.5h1.5v19.21h-1.5zM681.7 2059.7h1.5v19.21h-1.5zM172.2 2079.0h1.5v19.21h-1.5zM646.2 2079.0h3.1v19.21h-3.1zM720.1 2079.0h3.1v19.21h-3.1zM152.1 2117.4h3.1v19.21h-3.1zM258.4 2117.4h3.1v19.21h-3.1zM556.8 2136.6h1.6v19.21h-1.6zM597.4 2136.6h1.6v19.21h-1.6zM602.0 2136.6h1.6v19.21h-1.6zM613.0 2136.6h1.6v19.21h-1.6zM781.6 2136.6h1.6v19.21h-1.6zM952.3 2136.6h1.5v19.21h-1.5zM650.8 2155.8h1.5v19.21h-1.5zM504.2 2194.2h1.6v19.21h-1.6zM538.5 2194.2h1.6v19.21h-1.6zM466.6 2213.4h3.1v19.21h-3.1zM24.0 2232.6h3.1v19.21h-3.1zM230.8 2232.6h3.1v19.21h-3.1zM310.9 2232.6h1.5v19.21h-1.5zM317.1 2232.6h1.5v19.21h-1.5zM510.4 2232.6h1.6v19.21h-1.6zM546.3 2232.6h1.6v19.21h-1.6z"/><path fill="#3E3E79" d="M241.5 1137.9h3.1v19.21h-3.1zM267.6 1176.3h3.1v19.21h-3.1zM329.4 1176.3h3.1v19.21h-3.1zM426.2 1176.3h1.6v19.21h-1.6zM516.7 1176.3h3.1v19.21h-3.1zM530.7 1176.3h3.1v19.21h-3.1zM558.3 1176.3h1.6v19.21h-1.6zM569.3 1176.3h1.6v19.21h-1.6zM572.4 1176.3h1.6v19.21h-1.6zM726.3 1176.3h4.6v19.21h-4.6zM740.2 1176.3h3.1v19.21h-3.1zM769.2 1176.3h1.6v19.21h-1.6zM783.2 1176.3h1.6v19.21h-1.6zM833.1 1176.3h1.5v19.21h-1.5zM864.0 1176.3h1.5v19.21h-1.5zM270.7 1195.5h1.5v19.21h-1.5zM306.2 1195.5h1.5v19.21h-1.5zM331.0 1195.5h1.5v19.21h-1.5zM323.3 1233.9h1.5v19.21h-1.5zM340.3 1233.9h1.5v19.21h-1.5zM494.8 1233.9h3.1v19.21h-3.1zM230.8 1253.1h1.5v19.21h-1.5zM275.3 1253.1h1.5v19.21h-1.5zM463.5 1253.1h1.6v19.21h-1.6zM798.7 1253.1h1.6v19.21h-1.6zM894.0 1253.1h1.5v19.21h-1.5zM227.7 1272.3h1.5v19.21h-1.5zM255.3 1272.3h1.5v19.21h-1.5zM252.3 1291.5h1.5v19.21h-1.5zM307.8 1291.5h1.5v19.21h-1.5zM332.5 1291.5h3.1v19.21h-3.1zM472.8 1291.5h1.6v19.21h-1.6zM187.7 1349.2h3.1v19.21h-3.1zM238.5 1349.2h1.5v19.21h-1.5zM420.0 1349.2h4.7v19.21h-4.7zM471.3 1349.2h1.6v19.21h-1.6zM158.3 1368.4h1.5v19.21h-1.5zM193.8 1368.4h1.5v19.21h-1.5zM201.6 1368.4h1.5v19.21h-1.5zM229.3 1368.4h1.5v19.21h-1.5zM235.4 1368.4h1.5v19.21h-1.5zM340.3 1387.6h1.5v19.21h-1.5zM429.3 1387.6h1.6v19.21h-1.6zM38.0 1406.8h3.1v19.21h-3.1zM255.3 1406.8h1.5v19.21h-1.5zM275.3 1406.8h1.5v19.21h-1.5zM70.8 1445.2h1.6v19.21h-1.6zM290.8 1445.2h1.5v19.21h-1.5zM102.8 1464.4h3.1v19.21h-3.1zM164.5 1464.4h3.1v19.21h-3.1zM256.9 1464.4h1.5v19.21h-1.5zM475.9 1464.4h1.6v19.21h-1.6zM466.6 1502.8h1.6v19.21h-1.6zM598.9 1502.8h1.6v19.21h-1.6zM535.4 1579.6h1.6v19.21h-1.6zM555.2 1598.8h1.6v19.21h-1.6zM923.1 1637.2h1.5v19.21h-1.5zM462.0 1656.4h1.6v19.21h-1.6zM469.7 1675.6h3.1v19.21h-3.1zM876.3 1675.6h1.5v19.21h-1.5zM463.5 1694.9h1.6v19.21h-1.6zM906.3 1714.1h1.5v19.21h-1.5zM110.6 1733.3h3.1v19.21h-3.1zM907.8 1733.3h1.5v19.21h-1.5zM933.9 1733.3h1.5v19.21h-1.5zM438.6 1752.5h1.6v19.21h-1.6zM192.3 1771.7h1.5v19.21h-1.5zM658.5 1810.1h1.5v19.21h-1.5zM672.4 1848.5h1.5v19.21h-1.5zM867.1 1848.5h1.5v19.21h-1.5zM221.6 1867.7h1.5v19.21h-1.5zM524.5 1886.9h3.1v19.21h-3.1zM592.7 1886.9h6.2v19.21h-6.2zM238.5 1906.1h1.5v19.21h-1.5zM830.0 1906.1h1.5v19.21h-1.5zM56.8 1944.5h1.6v19.21h-1.6zM61.4 1963.7h3.1v19.21h-3.1zM540.1 1963.7h1.6v19.21h-1.6zM653.9 1963.7h1.5v19.21h-1.5zM769.2 1963.7h1.6v19.21h-1.6zM166.0 1982.9h4.6v19.21h-4.6zM609.9 1982.9h1.6v19.21h-1.6zM814.2 1982.9h1.6v19.21h-1.6zM507.3 2021.3h1.6v19.21h-1.6zM90.5 2040.5h1.5v19.21h-1.5zM847.0 2040.5h1.5v19.21h-1.5zM850.1 2040.5h1.5v19.21h-1.5zM499.5 2059.7h1.6v19.21h-1.6zM204.7 2079.0h1.5v19.21h-1.5zM53.6 2117.4h1.6v19.21h-1.6zM155.2 2117.4h3.1v19.21h-3.1zM178.4 2117.4h1.5v19.21h-1.5zM491.7 2117.4h1.6v19.21h-1.6zM909.4 2117.4h1.5v19.21h-1.5zM423.1 2136.6h1.6v19.21h-1.6zM614.5 2136.6h1.6v19.21h-1.6zM655.4 2136.6h1.5v19.21h-1.5zM664.7 2136.6h1.5v19.21h-1.5zM697.0 2136.6h1.5v19.21h-1.5zM729.4 2136.6h3.1v19.21h-3.1zM735.6 2136.6h3.1v19.21h-3.1zM269.1 2155.8h1.5v19.21h-1.5zM420.0 2175.0h3.1v19.21h-3.1zM399.1 2194.2h3.1v19.21h-3.1zM524.5 2194.2h1.6v19.21h-1.6zM232.3 2213.4h1.5v19.21h-1.5zM463.5 2213.4h1.6v19.21h-1.6zM499.5 2232.6h1.6v19.21h-1.6zM543.2 2232.6h1.6v19.21h-1.6zM828.4 2232.6h1.5v19.21h-1.5z"/><path fill="#3E5092" d="M20.9 1137.9h1.6v19.21h-1.6zM31.8 1137.9h1.6v19.21h-1.6zM52.1 1137.9h3.1v19.21h-3.1zM69.2 1137.9h3.1v19.21h-3.1zM116.8 1137.9h3.1v19.21h-3.1zM240.0 1137.9h1.5v19.21h-1.5zM516.7 1137.9h3.1v19.21h-3.1zM59.9 1157.1h1.6v19.21h-1.6zM34.9 1176.3h3.1v19.21h-3.1zM52.1 1176.3h3.1v19.21h-3.1zM59.9 1176.3h3.1v19.21h-3.1zM66.1 1176.3h3.1v19.21h-3.1zM235.4 1176.3h1.5v19.21h-1.5zM466.6 1176.3h1.6v19.21h-1.6zM504.2 1176.3h1.6v19.21h-1.6zM507.3 1176.3h3.1v19.21h-3.1zM595.8 1176.3h3.1v19.21h-3.1zM600.5 1176.3h1.6v19.21h-1.6zM605.2 1176.3h3.1v19.21h-3.1zM640.0 1176.3h1.5v19.21h-1.5zM709.3 1176.3h1.5v19.21h-1.5zM715.5 1176.3h1.5v19.21h-1.5zM749.5 1176.3h1.5v19.21h-1.5zM800.3 1176.3h1.6v19.21h-1.6zM811.1 1176.3h1.6v19.21h-1.6zM847.0 1176.3h3.1v19.21h-3.1zM859.3 1176.3h1.5v19.21h-1.5zM865.5 1176.3h1.5v19.21h-1.5zM936.9 1176.3h1.5v19.21h-1.5zM943.1 1176.3h1.5v19.21h-1.5zM135.3 1195.5h1.5v19.21h-1.5zM162.9 1195.5h1.5v19.21h-1.5zM224.7 1195.5h1.5v19.21h-1.5zM358.9 1195.5h3.1v19.21h-3.1zM411.5 1195.5h1.5v19.21h-1.5zM578.6 1195.5h1.6v19.21h-1.6zM246.1 1233.9h4.6v19.21h-4.6zM921.6 1233.9h3.1v19.21h-3.1zM130.7 1253.1h1.5v19.21h-1.5zM332.5 1253.1h1.5v19.21h-1.5zM897.1 1253.1h1.5v19.21h-1.5zM900.2 1253.1h3.1v19.21h-3.1zM87.4 1272.3h1.5v19.21h-1.5zM132.2 1272.3h1.5v19.21h-1.5zM136.9 1272.3h3.1v19.21h-3.1zM173.7 1349.2h3.1v19.21h-3.1zM184.6 1349.2h3.1v19.21h-3.1zM218.5 1349.2h1.5v19.21h-1.5zM243.1 1349.2h1.5v19.21h-1.5zM246.1 1349.2h1.5v19.21h-1.5zM263.0 1349.2h3.1v19.21h-3.1zM270.7 1349.2h1.5v19.21h-1.5zM292.3 1349.2h1.5v19.21h-1.5zM164.5 1368.4h1.5v19.21h-1.5zM181.5 1368.4h3.1v19.21h-3.1zM187.7 1368.4h1.5v19.21h-1.5zM230.8 1368.4h1.5v19.21h-1.5zM249.2 1368.4h3.1v19.21h-3.1zM263.0 1368.4h1.5v19.21h-1.5zM317.1 1368.4h1.5v19.21h-1.5zM320.2 1368.4h1.5v19.21h-1.5zM320.2 1387.6h1.5v19.21h-1.5zM256.9 1406.8h1.5v19.21h-1.5zM266.1 1406.8h1.5v19.21h-1.5zM181.5 1426.0h1.5v19.21h-1.5zM310.9 1426.0h1.5v19.21h-1.5zM340.3 1426.0h1.5v19.21h-1.5zM537.0 1426.0h1.6v19.21h-1.6zM172.2 1445.2h1.5v19.21h-1.5zM203.1 1445.2h6.2v19.21h-6.2zM286.1 1445.2h1.5v19.21h-1.5zM293.9 1445.2h3.1v19.21h-3.1zM317.1 1445.2h1.5v19.21h-1.5zM320.2 1445.2h1.5v19.21h-1.5zM915.5 1445.2h1.5v19.21h-1.5zM193.8 1464.4h1.5v19.21h-1.5zM479.0 1464.4h1.6v19.21h-1.6zM286.1 1483.6h1.5v19.21h-1.5zM300.1 1483.6h1.5v19.21h-1.5zM306.2 1483.6h3.1v19.21h-3.1zM321.7 1483.6h3.1v19.21h-3.1zM332.5 1483.6h1.5v19.21h-1.5zM772.3 1483.6h1.6v19.21h-1.6zM465.1 1502.8h1.6v19.21h-1.6zM848.5 1502.8h1.5v19.21h-1.5zM444.9 1522.0h3.1v19.21h-3.1zM543.2 1541.2h1.6v19.21h-1.6zM81.2 1560.4h3.1v19.21h-3.1zM769.2 1618.0h1.6v19.21h-1.6zM469.7 1656.4h1.6v19.21h-1.6zM472.8 1656.4h3.1v19.21h-3.1zM526.0 1656.4h3.1v19.21h-3.1zM546.3 1656.4h1.6v19.21h-1.6zM474.4 1675.6h1.6v19.21h-1.6zM487.0 1675.6h1.6v19.21h-1.6zM491.7 1675.6h1.6v19.21h-1.6zM544.8 1694.9h1.6v19.21h-1.6zM540.1 1714.1h1.6v19.21h-1.6zM113.7 1733.3h1.5v19.21h-1.5zM927.7 1733.3h1.5v19.21h-1.5zM930.8 1733.3h1.5v19.21h-1.5zM935.4 1733.3h1.5v19.21h-1.5zM952.3 1733.3h1.5v19.21h-1.5zM232.3 1752.5h3.1v19.21h-3.1zM421.6 1752.5h1.6v19.21h-1.6zM920.1 1752.5h1.5v19.21h-1.5zM924.7 1752.5h1.5v19.21h-1.5zM293.9 1771.7h1.5v19.21h-1.5zM559.9 1771.7h3.1v19.21h-3.1zM572.4 1771.7h1.6v19.21h-1.6zM591.1 1771.7h1.6v19.21h-1.6zM595.8 1771.7h1.6v19.21h-1.6zM603.6 1771.7h1.6v19.21h-1.6zM608.3 1771.7h1.6v19.21h-1.6zM613.0 1771.7h1.6v19.21h-1.6zM761.4 1771.7h3.1v19.21h-3.1zM801.8 1771.7h1.6v19.21h-1.6zM580.2 1790.9h4.7v19.21h-4.7zM588.0 1790.9h3.1v19.21h-3.1zM569.3 1810.1h1.6v19.21h-1.6zM573.9 1810.1h1.6v19.21h-1.6zM602.0 1810.1h1.6v19.21h-1.6zM96.7 1829.3h1.5v19.21h-1.5zM167.6 1848.5h1.5v19.21h-1.5zM840.8 1848.5h1.5v19.21h-1.5zM559.9 1867.7h1.6v19.21h-1.6zM519.8 1886.9h1.6v19.21h-1.6zM543.2 1886.9h1.6v19.21h-1.6zM573.9 1886.9h3.1v19.21h-3.1zM578.6 1886.9h1.6v19.21h-1.6zM233.9 1906.1h3.1v19.21h-3.1zM521.4 1906.1h1.6v19.21h-1.6zM652.3 1963.7h1.5v19.21h-1.5zM602.0 1982.9h1.6v19.21h-1.6zM644.6 1982.9h1.5v19.21h-1.5zM794.0 1982.9h1.6v19.21h-1.6zM798.7 2002.1h1.6v19.21h-1.6zM397.5 2021.3h1.5v19.21h-1.5zM643.1 2021.3h1.5v19.21h-1.5zM836.2 2040.5h1.5v19.21h-1.5zM840.8 2040.5h1.5v19.21h-1.5zM864.0 2040.5h1.5v19.21h-1.5zM173.7 2079.0h1.5v19.21h-1.5zM326.3 2098.2h1.5v19.21h-1.5zM537.0 2117.4h1.6v19.21h-1.6zM627.6 2117.4h1.5v19.21h-1.5zM912.4 2117.4h1.5v19.21h-1.5zM581.7 2136.6h1.6v19.21h-1.6zM630.7 2136.6h3.1v19.21h-3.1zM640.0 2136.6h1.5v19.21h-1.5zM672.4 2155.8h1.5v19.21h-1.5zM537.0 2194.2h1.6v19.21h-1.6zM303.2 2213.4h3.1v19.21h-3.1zM469.7 2213.4h3.1v19.21h-3.1zM312.4 2232.6h1.5v19.21h-1.5zM477.5 2232.6h3.1v19.21h-3.1zM917.0 2232.6h1.5v19.21h-1.5zM936.9 2232.6h3.1v19.21h-3.1z"/><path fill="#37659D" d="M13.1 1137.9h3.1v19.21h-3.1zM187.7 1137.9h1.5v19.21h-1.5zM25.6 1157.1h1.6v19.21h-1.6zM38.0 1157.1h1.6v19.21h-1.6zM49.0 1157.1h1.6v19.21h-1.6zM33.4 1176.3h1.6v19.21h-1.6zM44.3 1176.3h3.1v19.21h-3.1zM55.2 1176.3h1.6v19.21h-1.6zM69.2 1176.3h1.6v19.21h-1.6zM252.3 1176.3h3.1v19.21h-3.1zM270.7 1176.3h1.5v19.21h-1.5zM320.2 1176.3h1.5v19.21h-1.5zM452.6 1176.3h1.6v19.21h-1.6zM490.1 1176.3h1.6v19.21h-1.6zM538.5 1176.3h1.6v19.21h-1.6zM578.6 1176.3h1.6v19.21h-1.6zM775.4 1176.3h1.6v19.21h-1.6zM780.1 1176.3h1.6v19.21h-1.6zM828.4 1176.3h1.5v19.21h-1.5zM22.5 1195.5h3.1v19.21h-3.1zM50.5 1195.5h1.6v19.21h-1.6zM132.2 1195.5h3.1v19.21h-3.1zM164.5 1195.5h1.5v19.21h-1.5zM289.2 1195.5h1.5v19.21h-1.5zM300.1 1195.5h1.5v19.21h-1.5zM423.1 1195.5h1.6v19.21h-1.6zM90.5 1214.7h1.5v19.21h-1.5zM107.5 1214.7h3.1v19.21h-3.1zM130.7 1214.7h1.5v19.21h-1.5zM331.0 1214.7h1.5v19.21h-1.5zM795.6 1214.7h1.6v19.21h-1.6zM84.3 1233.9h1.5v19.21h-1.5zM99.8 1233.9h1.5v19.21h-1.5zM244.6 1233.9h1.5v19.21h-1.5zM98.2 1253.1h3.1v19.21h-3.1zM102.8 1253.1h1.5v19.21h-1.5zM107.5 1253.1h1.5v19.21h-1.5zM113.7 1253.1h4.6v19.21h-4.6zM122.9 1253.1h1.5v19.21h-1.5zM126.0 1253.1h3.1v19.21h-3.1zM133.8 1253.1h1.5v19.21h-1.5zM232.3 1253.1h1.5v19.21h-1.5zM903.2 1253.1h1.5v19.21h-1.5zM924.7 1253.1h1.5v19.21h-1.5zM936.9 1253.1h1.5v19.21h-1.5zM90.5 1272.3h1.5v19.21h-1.5zM110.6 1272.3h3.1v19.21h-3.1zM124.5 1272.3h1.5v19.21h-1.5zM140.0 1272.3h1.5v19.21h-1.5zM149.0 1291.5h3.1v19.21h-3.1zM155.2 1291.5h1.5v19.21h-1.5zM161.4 1291.5h1.5v19.21h-1.5zM193.8 1291.5h1.5v19.21h-1.5zM196.9 1291.5h1.5v19.21h-1.5zM201.6 1291.5h3.1v19.21h-3.1zM179.9 1310.7h3.1v19.21h-3.1zM235.4 1310.7h1.5v19.21h-1.5zM149.0 1330.0h1.5v19.21h-1.5zM162.9 1330.0h3.1v19.21h-3.1zM221.6 1330.0h1.5v19.21h-1.5zM153.6 1349.2h1.5v19.21h-1.5zM195.4 1349.2h3.1v19.21h-3.1zM150.5 1368.4h4.6v19.21h-4.6zM175.3 1368.4h3.1v19.21h-3.1zM195.4 1368.4h1.5v19.21h-1.5zM236.9 1368.4h1.5v19.21h-1.5zM318.6 1368.4h1.5v19.21h-1.5zM284.6 1387.6h1.5v19.21h-1.5zM17.8 1406.8h1.6v19.21h-1.6zM244.6 1406.8h1.5v19.21h-1.5zM259.9 1406.8h1.5v19.21h-1.5zM190.7 1426.0h1.5v19.21h-1.5zM298.5 1426.0h1.5v19.21h-1.5zM309.3 1426.0h1.5v19.21h-1.5zM315.5 1426.0h6.2v19.21h-6.2zM332.5 1426.0h4.6v19.21h-4.6zM306.2 1445.2h1.5v19.21h-1.5zM681.7 1445.2h1.5v19.21h-1.5zM258.4 1464.4h1.5v19.21h-1.5zM309.3 1464.4h3.1v19.21h-3.1zM337.2 1464.4h1.5v19.21h-1.5zM289.2 1483.6h1.5v19.21h-1.5zM292.3 1483.6h1.5v19.21h-1.5zM295.4 1483.6h1.5v19.21h-1.5zM303.2 1483.6h1.5v19.21h-1.5zM329.4 1483.6h1.5v19.21h-1.5zM337.2 1483.6h1.5v19.21h-1.5zM341.8 1483.6h1.5v19.21h-1.5zM363.5 1560.4h1.5v19.21h-1.5zM386.7 1560.4h1.5v19.21h-1.5zM423.1 1579.6h3.1v19.21h-3.1zM468.2 1579.6h1.6v19.21h-1.6zM477.5 1579.6h1.6v19.21h-1.6zM530.7 1579.6h4.7v19.21h-4.7zM465.1 1598.8h1.6v19.21h-1.6zM469.7 1598.8h1.6v19.21h-1.6zM443.3 1637.2h1.6v19.21h-1.6zM475.9 1637.2h3.1v19.21h-3.1zM465.1 1656.4h4.7v19.21h-4.7zM487.0 1656.4h3.1v19.21h-3.1zM505.7 1656.4h1.6v19.21h-1.6zM515.1 1656.4h1.6v19.21h-1.6zM529.2 1656.4h1.6v19.21h-1.6zM537.0 1656.4h4.7v19.21h-4.7zM524.5 1675.6h1.6v19.21h-1.6zM529.2 1675.6h1.6v19.21h-1.6zM537.0 1675.6h1.6v19.21h-1.6zM491.7 1694.9h3.1v19.21h-3.1zM507.3 1694.9h1.6v19.21h-1.6zM521.4 1694.9h1.6v19.21h-1.6zM527.6 1694.9h1.6v19.21h-1.6zM532.3 1694.9h1.6v19.21h-1.6zM537.0 1694.9h1.6v19.21h-1.6zM501.1 1714.1h1.6v19.21h-1.6zM529.2 1714.1h4.7v19.21h-4.7zM107.5 1733.3h1.5v19.21h-1.5zM556.8 1733.3h1.6v19.21h-1.6zM608.3 1733.3h1.6v19.21h-1.6zM638.4 1733.3h1.5v19.21h-1.5zM647.7 1733.3h1.5v19.21h-1.5zM680.1 1733.3h1.5v19.21h-1.5zM781.6 1733.3h1.6v19.21h-1.6zM915.5 1733.3h1.5v19.21h-1.5zM918.6 1733.3h1.5v19.21h-1.5zM921.6 1733.3h3.1v19.21h-3.1zM926.2 1733.3h1.5v19.21h-1.5zM938.5 1733.3h1.5v19.21h-1.5zM944.6 1733.3h1.5v19.21h-1.5zM561.4 1752.5h3.1v19.21h-3.1zM600.5 1752.5h1.6v19.21h-1.6zM667.8 1752.5h1.5v19.21h-1.5zM709.3 1752.5h1.5v19.21h-1.5zM747.9 1752.5h1.5v19.21h-1.5zM761.4 1752.5h1.6v19.21h-1.6zM840.8 1752.5h1.5v19.21h-1.5zM845.4 1752.5h1.5v19.21h-1.5zM851.6 1752.5h1.5v19.21h-1.5zM907.8 1752.5h1.5v19.21h-1.5zM563.0 1771.7h3.1v19.21h-3.1zM589.6 1771.7h1.6v19.21h-1.6zM597.4 1771.7h3.1v19.21h-3.1zM609.9 1771.7h1.6v19.21h-1.6zM646.2 1771.7h3.1v19.21h-3.1zM661.6 1771.7h1.5v19.21h-1.5zM704.7 1771.7h3.1v19.21h-3.1zM735.6 1771.7h1.5v19.21h-1.5zM740.2 1771.7h3.1v19.21h-3.1zM927.7 1771.7h1.5v19.21h-1.5zM578.6 1790.9h1.6v19.21h-1.6zM592.7 1790.9h1.6v19.21h-1.6zM605.2 1790.9h1.6v19.21h-1.6zM555.2 1810.1h1.6v19.21h-1.6zM561.4 1810.1h1.6v19.21h-1.6zM589.6 1810.1h1.6v19.21h-1.6zM608.3 1810.1h3.1v19.21h-3.1zM895.6 1810.1h1.5v19.21h-1.5zM583.3 1829.3h3.1v19.21h-3.1zM681.7 1829.3h1.5v19.21h-1.5zM729.4 1829.3h1.5v19.21h-1.5zM566.1 1848.5h1.6v19.21h-1.6zM572.4 1848.5h1.6v19.21h-1.6zM660.0 1848.5h1.5v19.21h-1.5zM842.3 1848.5h1.5v19.21h-1.5zM558.3 1867.7h1.6v19.21h-1.6zM840.8 1867.7h1.5v19.21h-1.5zM535.4 1886.9h1.6v19.21h-1.6zM664.7 1886.9h1.5v19.21h-1.5zM681.7 1886.9h1.5v19.21h-1.5zM630.7 1906.1h3.1v19.21h-3.1zM646.2 1906.1h1.5v19.21h-1.5zM673.9 1906.1h3.1v19.21h-3.1zM441.8 1944.5h1.6v19.21h-1.6zM667.8 1944.5h3.1v19.21h-3.1zM672.4 1944.5h3.1v19.21h-3.1zM681.7 1944.5h1.5v19.21h-1.5zM184.6 1963.7h1.5v19.21h-1.5zM403.7 1963.7h1.5v19.21h-1.5zM504.2 1963.7h1.6v19.21h-1.6zM707.8 1963.7h1.5v19.21h-1.5zM710.9 1963.7h1.5v19.21h-1.5zM721.7 1963.7h1.5v19.21h-1.5zM763.0 1963.7h4.7v19.21h-4.7zM772.3 1963.7h1.6v19.21h-1.6zM787.8 1963.7h1.6v19.21h-1.6zM502.6 1982.9h1.6v19.21h-1.6zM632.3 1982.9h1.5v19.21h-1.5zM650.8 1982.9h1.5v19.21h-1.5zM681.7 1982.9h1.5v19.21h-1.5zM578.6 2002.1h1.6v19.21h-1.6zM584.9 2002.1h4.7v19.21h-4.7zM606.7 2002.1h1.6v19.21h-1.6zM627.6 2002.1h1.5v19.21h-1.5zM653.9 2002.1h1.5v19.21h-1.5zM505.7 2021.3h1.6v19.21h-1.6zM510.4 2059.7h1.6v19.21h-1.6zM775.4 2059.7h3.1v19.21h-3.1zM787.8 2059.7h1.6v19.21h-1.6zM926.2 2059.7h3.1v19.21h-3.1zM658.5 2079.0h1.5v19.21h-1.5zM723.2 2079.0h3.1v19.21h-3.1zM780.1 2079.0h1.6v19.21h-1.6zM787.8 2079.0h1.6v19.21h-1.6zM790.9 2079.0h1.6v19.21h-1.6zM836.2 2098.2h1.5v19.21h-1.5zM874.8 2098.2h1.5v19.21h-1.5zM879.4 2098.2h3.1v19.21h-3.1zM830.0 2117.4h1.5v19.21h-1.5zM892.5 2117.4h1.5v19.21h-1.5zM924.7 2117.4h1.5v19.21h-1.5zM695.4 2136.6h1.5v19.21h-1.5zM830.0 2136.6h1.5v19.21h-1.5zM860.9 2136.6h1.5v19.21h-1.5zM452.6 2175.0h3.1v19.21h-3.1zM424.7 2194.2h3.1v19.21h-3.1zM444.9 2194.2h1.6v19.21h-1.6zM917.0 2194.2h3.1v19.21h-3.1zM382.1 2213.4h1.5v19.21h-1.5zM912.4 2213.4h1.5v19.21h-1.5zM903.2 2232.6h1.5v19.21h-1.5zM923.1 2232.6h1.5v19.21h-1.5zM933.9 2232.6h1.5v19.21h-1.5z"/><path fill="#357AA2" d="M17.8 1137.9h3.1v19.21h-3.1zM25.6 1137.9h1.6v19.21h-1.6zM33.4 1137.9h1.6v19.21h-1.6zM55.2 1137.9h1.6v19.21h-1.6zM66.1 1137.9h3.1v19.21h-3.1zM72.3 1137.9h1.6v19.21h-1.6zM22.5 1157.1h3.1v19.21h-3.1zM33.4 1157.1h1.6v19.21h-1.6zM42.7 1157.1h1.6v19.21h-1.6zM30.2 1176.3h3.1v19.21h-3.1zM38.0 1176.3h1.6v19.21h-1.6zM49.0 1176.3h1.6v19.21h-1.6zM72.3 1176.3h1.6v19.21h-1.6zM589.6 1176.3h1.6v19.21h-1.6zM38.0 1195.5h3.1v19.21h-3.1zM47.4 1195.5h1.6v19.21h-1.6zM63.0 1195.5h4.7v19.21h-4.7zM99.8 1214.7h3.1v19.21h-3.1zM112.1 1214.7h3.1v19.21h-3.1zM81.2 1233.9h3.1v19.21h-3.1zM118.3 1233.9h3.1v19.21h-3.1zM126.0 1233.9h1.5v19.21h-1.5zM136.9 1233.9h1.5v19.21h-1.5zM140.0 1233.9h1.5v19.21h-1.5zM92.0 1253.1h1.5v19.21h-1.5zM110.6 1253.1h3.1v19.21h-3.1zM118.3 1253.1h1.5v19.21h-1.5zM914.0 1253.1h3.1v19.21h-3.1zM920.1 1253.1h1.5v19.21h-1.5zM930.8 1253.1h1.5v19.21h-1.5zM940.0 1253.1h1.5v19.21h-1.5zM949.2 1253.1h3.1v19.21h-3.1zM81.2 1272.3h3.1v19.21h-3.1zM96.7 1272.3h1.5v19.21h-1.5zM105.9 1272.3h4.6v19.21h-4.6zM121.4 1272.3h1.5v19.21h-1.5zM159.8 1291.5h1.5v19.21h-1.5zM164.5 1291.5h3.1v19.21h-3.1zM172.2 1310.7h1.5v19.21h-1.5zM170.6 1330.0h1.5v19.21h-1.5zM223.1 1330.0h3.1v19.21h-3.1zM164.5 1349.2h1.5v19.21h-1.5zM176.8 1349.2h1.5v19.21h-1.5zM179.9 1349.2h3.1v19.21h-3.1zM192.3 1349.2h1.5v19.21h-1.5zM201.6 1349.2h1.5v19.21h-1.5zM192.3 1368.4h1.5v19.21h-1.5zM198.5 1368.4h3.1v19.21h-3.1zM203.1 1368.4h3.1v19.21h-3.1zM263.0 1387.6h1.5v19.21h-1.5zM273.7 1387.6h3.1v19.21h-3.1zM240.0 1406.8h1.5v19.21h-1.5zM243.1 1406.8h1.5v19.21h-1.5zM423.1 1406.8h1.6v19.21h-1.6zM193.8 1426.0h3.1v19.21h-3.1zM284.6 1426.0h1.5v19.21h-1.5zM300.1 1426.0h1.5v19.21h-1.5zM306.2 1426.0h1.5v19.21h-1.5zM329.4 1426.0h1.5v19.21h-1.5zM451.1 1426.0h1.6v19.21h-1.6zM20.9 1445.2h1.6v19.21h-1.6zM166.0 1445.2h3.1v19.21h-3.1zM300.1 1445.2h3.1v19.21h-3.1zM314.0 1445.2h1.5v19.21h-1.5zM806.5 1445.2h3.1v19.21h-3.1zM298.5 1464.4h1.5v19.21h-1.5zM301.6 1464.4h3.1v19.21h-3.1zM307.8 1464.4h1.5v19.21h-1.5zM315.5 1464.4h3.1v19.21h-3.1zM340.3 1464.4h1.5v19.21h-1.5zM206.2 1483.6h3.1v19.21h-3.1zM315.5 1483.6h1.5v19.21h-1.5zM477.5 1522.0h3.1v19.21h-3.1zM358.9 1541.2h3.1v19.21h-3.1zM385.2 1560.4h1.5v19.21h-1.5zM468.2 1560.4h3.1v19.21h-3.1zM427.8 1579.6h1.6v19.21h-1.6zM438.6 1579.6h1.6v19.21h-1.6zM454.2 1579.6h1.6v19.21h-1.6zM469.7 1579.6h3.1v19.21h-3.1zM426.2 1598.8h1.6v19.21h-1.6zM432.4 1598.8h1.6v19.21h-1.6zM443.3 1598.8h1.6v19.21h-1.6zM455.7 1598.8h1.6v19.21h-1.6zM434.0 1618.0h1.6v19.21h-1.6zM451.1 1618.0h1.6v19.21h-1.6zM465.1 1618.0h1.6v19.21h-1.6zM479.0 1618.0h1.6v19.21h-1.6zM463.5 1656.4h1.6v19.21h-1.6zM535.4 1656.4h1.6v19.21h-1.6zM507.3 1675.6h1.6v19.21h-1.6zM538.5 1675.6h1.6v19.21h-1.6zM488.6 1694.9h1.6v19.21h-1.6zM512.0 1694.9h3.1v19.21h-3.1zM530.7 1694.9h1.6v19.21h-1.6zM535.4 1714.1h1.6v19.21h-1.6zM472.8 1733.3h4.7v19.21h-4.7zM564.6 1733.3h3.1v19.21h-3.1zM577.1 1733.3h3.1v19.21h-3.1zM586.4 1733.3h3.1v19.21h-3.1zM611.4 1733.3h3.1v19.21h-3.1zM623.0 1733.3h1.5v19.21h-1.5zM627.6 1733.3h3.1v19.21h-3.1zM669.3 1733.3h1.5v19.21h-1.5zM706.2 1733.3h3.1v19.21h-3.1zM714.0 1733.3h3.1v19.21h-3.1zM726.3 1733.3h3.1v19.21h-3.1zM730.9 1733.3h1.5v19.21h-1.5zM761.4 1733.3h3.1v19.21h-3.1zM790.9 1733.3h1.6v19.21h-1.6zM840.8 1733.3h1.5v19.21h-1.5zM845.4 1733.3h1.5v19.21h-1.5zM857.8 1733.3h1.5v19.21h-1.5zM877.9 1733.3h1.5v19.21h-1.5zM566.1 1752.5h1.6v19.21h-1.6zM583.3 1752.5h3.1v19.21h-3.1zM609.9 1752.5h3.1v19.21h-3.1zM623.0 1752.5h1.5v19.21h-1.5zM632.3 1752.5h1.5v19.21h-1.5zM641.5 1752.5h1.5v19.21h-1.5zM655.4 1752.5h1.5v19.21h-1.5zM670.9 1752.5h1.5v19.21h-1.5zM697.0 1752.5h1.5v19.21h-1.5zM723.2 1752.5h3.1v19.21h-3.1zM734.0 1752.5h1.5v19.21h-1.5zM763.0 1752.5h1.6v19.21h-1.6zM797.1 1752.5h1.6v19.21h-1.6zM842.3 1752.5h1.5v19.21h-1.5zM862.4 1752.5h1.5v19.21h-1.5zM894.0 1752.5h1.5v19.21h-1.5zM906.3 1752.5h1.5v19.21h-1.5zM558.3 1771.7h1.6v19.21h-1.6zM573.9 1771.7h1.6v19.21h-1.6zM577.1 1771.7h1.6v19.21h-1.6zM581.7 1771.7h1.6v19.21h-1.6zM630.7 1771.7h1.5v19.21h-1.5zM640.0 1771.7h1.5v19.21h-1.5zM650.8 1771.7h4.6v19.21h-4.6zM664.7 1771.7h1.5v19.21h-1.5zM677.0 1771.7h1.5v19.21h-1.5zM681.7 1771.7h1.5v19.21h-1.5zM697.0 1771.7h3.1v19.21h-3.1zM703.1 1771.7h1.5v19.21h-1.5zM803.4 1771.7h1.6v19.21h-1.6zM834.6 1771.7h1.5v19.21h-1.5zM854.7 1771.7h3.1v19.21h-3.1zM860.9 1771.7h3.1v19.21h-3.1zM868.6 1771.7h1.5v19.21h-1.5zM874.8 1771.7h3.1v19.21h-3.1zM559.9 1790.9h1.6v19.21h-1.6zM556.8 1810.1h1.6v19.21h-1.6zM580.2 1810.1h1.6v19.21h-1.6zM583.3 1810.1h3.1v19.21h-3.1zM95.1 1829.3h1.5v19.21h-1.5zM572.4 1829.3h1.6v19.21h-1.6zM588.0 1829.3h1.6v19.21h-1.6zM605.2 1829.3h4.7v19.21h-4.7zM564.6 1848.5h1.6v19.21h-1.6zM567.7 1848.5h3.1v19.21h-3.1zM573.9 1848.5h4.7v19.21h-4.7zM605.2 1848.5h3.1v19.21h-3.1zM828.4 1848.5h1.5v19.21h-1.5zM41.2 1867.7h3.1v19.21h-3.1zM640.0 1867.7h1.5v19.21h-1.5zM664.7 1867.7h1.5v19.21h-1.5zM600.5 1886.9h1.6v19.21h-1.6zM672.4 1886.9h1.5v19.21h-1.5zM879.4 1906.1h1.5v19.21h-1.5zM623.0 1925.3h1.5v19.21h-1.5zM695.4 1963.7h1.5v19.21h-1.5zM789.4 1963.7h1.6v19.21h-1.6zM640.0 1982.9h1.5v19.21h-1.5zM660.0 1982.9h1.5v19.21h-1.5zM672.4 1982.9h1.5v19.21h-1.5zM703.1 1982.9h1.5v19.21h-1.5zM709.3 1982.9h1.5v19.21h-1.5zM715.5 1982.9h1.5v19.21h-1.5zM735.6 1982.9h1.5v19.21h-1.5zM749.5 1982.9h1.5v19.21h-1.5zM660.0 2002.1h1.5v19.21h-1.5zM669.3 2002.1h3.1v19.21h-3.1zM737.1 2002.1h3.1v19.21h-3.1zM786.3 2021.3h1.6v19.21h-1.6zM809.6 2021.3h1.6v19.21h-1.6zM859.3 2040.5h1.5v19.21h-1.5zM882.5 2040.5h1.5v19.21h-1.5zM767.6 2059.7h1.6v19.21h-1.6zM778.5 2059.7h4.7v19.21h-4.7zM789.4 2059.7h1.6v19.21h-1.6zM766.1 2079.0h3.1v19.21h-3.1zM792.5 2079.0h1.6v19.21h-1.6zM865.5 2098.2h1.5v19.21h-1.5zM828.4 2117.4h1.5v19.21h-1.5zM853.2 2117.4h3.1v19.21h-3.1zM884.1 2117.4h1.5v19.21h-1.5zM894.0 2117.4h1.5v19.21h-1.5zM923.1 2117.4h1.5v19.21h-1.5zM930.8 2117.4h3.1v19.21h-3.1zM935.4 2117.4h1.5v19.21h-1.5zM944.6 2117.4h3.1v19.21h-3.1zM623.0 2136.6h1.5v19.21h-1.5zM839.3 2136.6h1.5v19.21h-1.5zM842.3 2136.6h1.5v19.21h-1.5zM853.2 2136.6h1.5v19.21h-1.5zM862.4 2136.6h3.1v19.21h-3.1zM845.4 2155.8h4.6v19.21h-4.6zM892.5 2175.0h1.5v19.21h-1.5zM460.4 2194.2h3.1v19.21h-3.1zM475.9 2194.2h3.1v19.21h-3.1zM920.1 2194.2h1.5v19.21h-1.5zM932.3 2194.2h1.5v19.21h-1.5zM892.5 2232.6h1.5v19.21h-1.5zM914.0 2232.6h3.1v19.21h-3.1zM924.7 2232.6h1.5v19.21h-1.5z"/><path fill="#358FA7" d="M39.6 1137.9h3.1v19.21h-3.1zM45.8 1137.9h3.1v19.21h-3.1zM59.9 1137.9h1.6v19.21h-1.6zM16.2 1157.1h1.6v19.21h-1.6zM53.6 1157.1h1.6v19.21h-1.6zM25.6 1176.3h1.6v19.21h-1.6zM47.4 1176.3h1.6v19.21h-1.6zM56.8 1176.3h3.1v19.21h-3.1zM17.8 1195.5h3.1v19.21h-3.1zM30.2 1195.5h1.6v19.21h-1.6zM45.8 1195.5h1.6v19.21h-1.6zM55.2 1195.5h1.6v19.21h-1.6zM93.6 1214.7h3.1v19.21h-3.1zM126.0 1214.7h3.1v19.21h-3.1zM85.8 1233.9h1.5v19.21h-1.5zM93.6 1233.9h3.1v19.21h-3.1zM101.3 1233.9h1.5v19.21h-1.5zM122.9 1233.9h1.5v19.21h-1.5zM84.3 1253.1h1.5v19.21h-1.5zM88.9 1253.1h1.5v19.21h-1.5zM95.1 1253.1h1.5v19.21h-1.5zM101.3 1253.1h1.5v19.21h-1.5zM104.4 1253.1h3.1v19.21h-3.1zM132.2 1253.1h1.5v19.21h-1.5zM138.4 1253.1h1.5v19.21h-1.5zM926.2 1253.1h3.1v19.21h-3.1zM99.8 1272.3h4.6v19.21h-4.6zM130.7 1272.3h1.5v19.21h-1.5zM153.6 1291.5h1.5v19.21h-1.5zM156.7 1291.5h1.5v19.21h-1.5zM176.8 1291.5h1.5v19.21h-1.5zM184.6 1291.5h6.2v19.21h-6.2zM204.7 1291.5h1.5v19.21h-1.5zM167.6 1310.7h1.5v19.21h-1.5zM204.7 1310.7h1.5v19.21h-1.5zM203.1 1330.0h1.5v19.21h-1.5zM158.3 1349.2h3.1v19.21h-3.1zM162.9 1349.2h1.5v19.21h-1.5zM206.2 1349.2h1.5v19.21h-1.5zM272.2 1349.2h1.5v19.21h-1.5zM221.6 1406.8h1.5v19.21h-1.5zM253.8 1406.8h1.5v19.21h-1.5zM289.2 1426.0h1.5v19.21h-1.5zM292.3 1426.0h1.5v19.21h-1.5zM295.4 1426.0h3.1v19.21h-3.1zM303.2 1426.0h3.1v19.21h-3.1zM312.4 1426.0h1.5v19.21h-1.5zM324.8 1426.0h1.5v19.21h-1.5zM343.4 1426.0h1.5v19.21h-1.5zM307.8 1445.2h1.5v19.21h-1.5zM310.9 1445.2h3.1v19.21h-3.1zM323.3 1445.2h1.5v19.21h-1.5zM289.2 1464.4h1.5v19.21h-1.5zM293.9 1464.4h1.5v19.21h-1.5zM304.7 1464.4h1.5v19.21h-1.5zM320.2 1464.4h3.1v19.21h-3.1zM324.8 1464.4h4.6v19.21h-4.6zM284.6 1483.6h1.5v19.21h-1.5zM287.7 1483.6h1.5v19.21h-1.5zM314.0 1483.6h1.5v19.21h-1.5zM326.3 1483.6h3.1v19.21h-3.1zM331.0 1483.6h1.5v19.21h-1.5zM358.9 1522.0h3.1v19.21h-3.1zM382.1 1522.0h1.5v19.21h-1.5zM385.2 1522.0h3.1v19.21h-3.1zM389.8 1522.0h1.5v19.21h-1.5zM400.6 1522.0h1.5v19.21h-1.5zM405.3 1522.0h6.2v19.21h-6.2zM365.1 1560.4h1.5v19.21h-1.5zM389.8 1560.4h1.5v19.21h-1.5zM399.1 1560.4h1.5v19.21h-1.5zM429.3 1579.6h4.7v19.21h-4.7zM437.1 1579.6h1.6v19.21h-1.6zM458.8 1579.6h1.6v19.21h-1.6zM437.1 1598.8h3.1v19.21h-3.1zM446.4 1598.8h1.6v19.21h-1.6zM452.6 1598.8h1.6v19.21h-1.6zM466.6 1598.8h1.6v19.21h-1.6zM440.2 1618.0h3.1v19.21h-3.1zM460.4 1618.0h3.1v19.21h-3.1zM468.2 1618.0h1.6v19.21h-1.6zM430.9 1637.2h1.6v19.21h-1.6zM449.5 1637.2h4.7v19.21h-4.7zM502.6 1656.4h1.6v19.21h-1.6zM513.5 1656.4h1.6v19.21h-1.6zM493.2 1675.6h1.6v19.21h-1.6zM512.0 1675.6h1.6v19.21h-1.6zM521.4 1675.6h3.1v19.21h-3.1zM532.3 1675.6h3.1v19.21h-3.1zM501.1 1694.9h1.6v19.21h-1.6zM535.4 1694.9h1.6v19.21h-1.6zM540.1 1694.9h3.1v19.21h-3.1zM491.7 1714.1h1.6v19.21h-1.6zM497.9 1714.1h1.6v19.21h-1.6zM512.0 1714.1h1.6v19.21h-1.6zM533.8 1714.1h1.6v19.21h-1.6zM561.4 1733.3h3.1v19.21h-3.1zM598.9 1733.3h1.6v19.21h-1.6zM602.0 1733.3h1.6v19.21h-1.6zM624.5 1733.3h3.1v19.21h-3.1zM633.8 1733.3h3.1v19.21h-3.1zM664.7 1733.3h3.1v19.21h-3.1zM710.9 1733.3h1.5v19.21h-1.5zM735.6 1733.3h1.5v19.21h-1.5zM738.7 1733.3h1.5v19.21h-1.5zM747.9 1733.3h1.5v19.21h-1.5zM759.9 1733.3h1.6v19.21h-1.6zM772.3 1733.3h1.6v19.21h-1.6zM783.2 1733.3h1.6v19.21h-1.6zM812.7 1733.3h1.6v19.21h-1.6zM837.7 1733.3h1.5v19.21h-1.5zM854.7 1733.3h1.5v19.21h-1.5zM864.0 1733.3h1.5v19.21h-1.5zM909.4 1733.3h1.5v19.21h-1.5zM941.5 1733.3h1.5v19.21h-1.5zM572.4 1752.5h1.6v19.21h-1.6zM577.1 1752.5h1.6v19.21h-1.6zM581.7 1752.5h1.6v19.21h-1.6zM588.0 1752.5h1.6v19.21h-1.6zM595.8 1752.5h3.1v19.21h-3.1zM602.0 1752.5h1.6v19.21h-1.6zM605.2 1752.5h1.6v19.21h-1.6zM613.0 1752.5h3.1v19.21h-3.1zM638.4 1752.5h1.5v19.21h-1.5zM644.6 1752.5h1.5v19.21h-1.5zM664.7 1752.5h3.1v19.21h-3.1zM677.0 1752.5h1.5v19.21h-1.5zM680.1 1752.5h1.5v19.21h-1.5zM701.6 1752.5h3.1v19.21h-3.1zM720.1 1752.5h1.5v19.21h-1.5zM766.1 1752.5h1.6v19.21h-1.6zM772.3 1752.5h3.1v19.21h-3.1zM780.1 1752.5h3.1v19.21h-3.1zM794.0 1752.5h1.6v19.21h-1.6zM803.4 1752.5h3.1v19.21h-3.1zM815.8 1752.5h1.6v19.21h-1.6zM828.4 1752.5h4.6v19.21h-4.6zM857.8 1752.5h1.5v19.21h-1.5zM879.4 1752.5h1.5v19.21h-1.5zM897.1 1752.5h3.1v19.21h-3.1zM910.9 1752.5h1.5v19.21h-1.5zM633.8 1771.7h1.5v19.21h-1.5zM644.6 1771.7h1.5v19.21h-1.5zM806.5 1771.7h3.1v19.21h-3.1zM826.9 1771.7h1.5v19.21h-1.5zM839.3 1771.7h3.1v19.21h-3.1zM848.5 1771.7h3.1v19.21h-3.1zM857.8 1771.7h1.5v19.21h-1.5zM555.2 1790.9h1.6v19.21h-1.6zM561.4 1790.9h3.1v19.21h-3.1zM606.7 1790.9h1.6v19.21h-1.6zM589.6 1829.3h1.6v19.21h-1.6zM594.2 1829.3h3.1v19.21h-3.1zM611.4 1848.5h1.6v19.21h-1.6zM624.5 1867.7h1.5v19.21h-1.5zM640.0 1886.9h1.5v19.21h-1.5zM652.3 1886.9h3.1v19.21h-3.1zM626.1 1906.1h1.5v19.21h-1.5zM743.3 1963.7h1.5v19.21h-1.5zM624.5 2002.1h1.5v19.21h-1.5zM652.3 2002.1h1.5v19.21h-1.5zM666.2 2002.1h1.5v19.21h-1.5zM701.6 2002.1h3.1v19.21h-3.1zM726.3 2002.1h4.6v19.21h-4.6zM741.7 2002.1h3.1v19.21h-3.1zM769.2 2021.3h1.6v19.21h-1.6zM772.3 2021.3h1.6v19.21h-1.6zM792.5 2021.3h1.6v19.21h-1.6zM806.5 2021.3h3.1v19.21h-3.1zM795.6 2040.5h1.6v19.21h-1.6zM806.5 2040.5h3.1v19.21h-3.1zM794.0 2059.7h3.1v19.21h-3.1zM761.4 2079.0h3.1v19.21h-3.1zM781.6 2079.0h4.7v19.21h-4.7zM798.7 2079.0h1.6v19.21h-1.6zM817.3 2079.0h1.6v19.21h-1.6zM834.6 2098.2h1.5v19.21h-1.5zM843.9 2098.2h3.1v19.21h-3.1zM859.3 2098.2h3.1v19.21h-3.1zM864.0 2098.2h1.5v19.21h-1.5zM870.2 2098.2h3.1v19.21h-3.1zM533.8 2117.4h1.6v19.21h-1.6zM870.2 2117.4h1.5v19.21h-1.5zM921.6 2117.4h1.5v19.21h-1.5zM933.9 2117.4h1.5v19.21h-1.5zM865.5 2136.6h1.5v19.21h-1.5zM843.9 2155.8h1.5v19.21h-1.5zM850.1 2155.8h1.5v19.21h-1.5zM859.3 2155.8h3.1v19.21h-3.1zM870.2 2155.8h1.5v19.21h-1.5zM873.2 2155.8h3.1v19.21h-3.1zM877.9 2155.8h1.5v19.21h-1.5zM910.9 2175.0h1.5v19.21h-1.5zM917.0 2175.0h1.5v19.21h-1.5zM923.1 2175.0h3.1v19.21h-3.1zM932.3 2175.0h1.5v19.21h-1.5zM892.5 2194.2h1.5v19.21h-1.5zM907.8 2194.2h3.1v19.21h-3.1zM926.2 2194.2h1.5v19.21h-1.5zM930.8 2194.2h1.5v19.21h-1.5zM933.9 2194.2h1.5v19.21h-1.5zM947.7 2194.2h1.5v19.21h-1.5zM930.8 2213.4h3.1v19.21h-3.1zM936.9 2213.4h3.1v19.21h-3.1zM943.1 2213.4h1.5v19.21h-1.5zM898.6 2232.6h1.5v19.21h-1.5zM920.1 2232.6h3.1v19.21h-3.1zM940.0 2232.6h4.6v19.21h-4.6z"/><path fill="#37A3AB" d="M24.0 1137.9h1.6v19.21h-1.6zM28.7 1137.9h3.1v19.21h-3.1zM34.9 1137.9h4.7v19.21h-4.7zM42.7 1137.9h3.1v19.21h-3.1zM49.0 1137.9h1.6v19.21h-1.6zM39.6 1157.1h1.6v19.21h-1.6zM69.2 1157.1h3.1v19.21h-3.1zM13.1 1176.3h1.6v19.21h-1.6zM19.3 1176.3h1.6v19.21h-1.6zM28.7 1176.3h1.6v19.21h-1.6zM63.0 1176.3h3.1v19.21h-3.1zM70.8 1176.3h1.6v19.21h-1.6zM801.8 1176.3h3.1v19.21h-3.1zM13.1 1195.5h4.7v19.21h-4.7zM20.9 1195.5h1.6v19.21h-1.6zM25.6 1195.5h1.6v19.21h-1.6zM56.8 1195.5h1.6v19.21h-1.6zM61.4 1195.5h1.6v19.21h-1.6zM69.2 1195.5h4.7v19.21h-4.7zM81.2 1214.7h1.5v19.21h-1.5zM84.3 1214.7h1.5v19.21h-1.5zM88.9 1233.9h3.1v19.21h-3.1zM98.2 1233.9h1.5v19.21h-1.5zM130.7 1233.9h1.5v19.21h-1.5zM135.3 1233.9h1.5v19.21h-1.5zM259.9 1233.9h1.5v19.21h-1.5zM320.2 1233.9h1.5v19.21h-1.5zM82.7 1253.1h1.5v19.21h-1.5zM84.3 1272.3h1.5v19.21h-1.5zM93.6 1272.3h1.5v19.21h-1.5zM115.2 1272.3h1.5v19.21h-1.5zM162.9 1291.5h1.5v19.21h-1.5zM170.6 1291.5h1.5v19.21h-1.5zM200.0 1291.5h1.5v19.21h-1.5zM207.8 1291.5h1.5v19.21h-1.5zM253.8 1291.5h1.5v19.21h-1.5zM312.4 1291.5h1.5v19.21h-1.5zM158.3 1310.7h1.5v19.21h-1.5zM189.2 1330.0h3.1v19.21h-3.1zM206.2 1330.0h1.5v19.21h-1.5zM88.9 1349.2h1.5v19.21h-1.5zM258.4 1387.6h3.1v19.21h-3.1zM238.5 1406.8h1.5v19.21h-1.5zM273.7 1406.8h1.5v19.21h-1.5zM287.7 1445.2h3.1v19.21h-3.1zM303.2 1445.2h1.5v19.21h-1.5zM335.6 1445.2h1.5v19.21h-1.5zM286.1 1464.4h3.1v19.21h-3.1zM292.3 1464.4h1.5v19.21h-1.5zM320.2 1483.6h1.5v19.21h-1.5zM354.2 1502.8h1.5v19.21h-1.5zM391.4 1502.8h1.5v19.21h-1.5zM394.4 1502.8h3.1v19.21h-3.1zM352.7 1522.0h1.5v19.21h-1.5zM369.7 1522.0h1.5v19.21h-1.5zM372.8 1522.0h1.5v19.21h-1.5zM379.0 1522.0h3.1v19.21h-3.1zM394.4 1522.0h3.1v19.21h-3.1zM403.7 1522.0h1.5v19.21h-1.5zM411.5 1522.0h1.5v19.21h-1.5zM440.2 1522.0h3.1v19.21h-3.1zM352.7 1541.2h4.6v19.21h-4.6zM363.5 1541.2h1.5v19.21h-1.5zM366.6 1541.2h3.1v19.21h-3.1zM371.3 1541.2h4.6v19.21h-4.6zM382.1 1541.2h1.5v19.21h-1.5zM389.8 1541.2h3.1v19.21h-3.1zM399.1 1541.2h4.6v19.21h-4.6zM409.9 1541.2h1.5v19.21h-1.5zM371.3 1560.4h1.5v19.21h-1.5zM392.9 1560.4h1.5v19.21h-1.5zM451.1 1579.6h3.1v19.21h-3.1zM457.3 1579.6h1.6v19.21h-1.6zM420.0 1598.8h4.7v19.21h-4.7zM449.5 1598.8h3.1v19.21h-3.1zM479.0 1598.8h1.6v19.21h-1.6zM449.5 1618.0h1.6v19.21h-1.6zM457.3 1618.0h1.6v19.21h-1.6zM420.0 1637.2h1.6v19.21h-1.6zM446.4 1637.2h3.1v19.21h-3.1zM494.8 1656.4h1.6v19.21h-1.6zM504.2 1656.4h1.6v19.21h-1.6zM510.4 1656.4h3.1v19.21h-3.1zM524.5 1656.4h1.6v19.21h-1.6zM544.8 1675.6h1.6v19.21h-1.6zM884.1 1675.6h1.5v19.21h-1.5zM505.7 1694.9h1.6v19.21h-1.6zM510.4 1694.9h1.6v19.21h-1.6zM543.2 1694.9h1.6v19.21h-1.6zM505.7 1714.1h1.6v19.21h-1.6zM541.7 1714.1h1.6v19.21h-1.6zM603.6 1733.3h3.1v19.21h-3.1zM658.5 1733.3h1.5v19.21h-1.5zM675.5 1733.3h4.6v19.21h-4.6zM681.7 1733.3h1.5v19.21h-1.5zM690.8 1733.3h3.1v19.21h-3.1zM697.0 1733.3h3.1v19.21h-3.1zM720.1 1733.3h3.1v19.21h-3.1zM766.1 1733.3h3.1v19.21h-3.1zM775.4 1733.3h3.1v19.21h-3.1zM792.5 1733.3h1.6v19.21h-1.6zM804.9 1733.3h3.1v19.21h-3.1zM860.9 1733.3h3.1v19.21h-3.1zM881.0 1733.3h1.5v19.21h-1.5zM884.1 1733.3h1.5v19.21h-1.5zM901.7 1733.3h3.1v19.21h-3.1zM906.3 1733.3h1.5v19.21h-1.5zM946.1 1733.3h1.5v19.21h-1.5zM949.2 1733.3h1.5v19.21h-1.5zM567.7 1752.5h3.1v19.21h-3.1zM603.6 1752.5h1.6v19.21h-1.6zM626.1 1752.5h1.5v19.21h-1.5zM629.2 1752.5h1.5v19.21h-1.5zM635.3 1752.5h1.5v19.21h-1.5zM652.3 1752.5h1.5v19.21h-1.5zM660.0 1752.5h1.5v19.21h-1.5zM663.1 1752.5h1.5v19.21h-1.5zM707.8 1752.5h1.5v19.21h-1.5zM718.6 1752.5h1.5v19.21h-1.5zM729.4 1752.5h1.5v19.21h-1.5zM741.7 1752.5h1.5v19.21h-1.5zM783.2 1752.5h1.6v19.21h-1.6zM786.3 1752.5h1.6v19.21h-1.6zM848.5 1752.5h1.5v19.21h-1.5zM860.9 1752.5h1.5v19.21h-1.5zM874.8 1752.5h3.1v19.21h-3.1zM900.2 1752.5h1.5v19.21h-1.5zM918.6 1752.5h1.5v19.21h-1.5zM921.6 1752.5h1.5v19.21h-1.5zM941.5 1752.5h3.1v19.21h-3.1zM952.3 1752.5h1.5v19.21h-1.5zM567.7 1771.7h3.1v19.21h-3.1zM575.5 1771.7h1.6v19.21h-1.6zM624.5 1771.7h1.5v19.21h-1.5zM627.6 1771.7h3.1v19.21h-3.1zM670.9 1771.7h1.5v19.21h-1.5zM673.9 1771.7h3.1v19.21h-3.1zM709.3 1771.7h1.5v19.21h-1.5zM720.1 1771.7h1.5v19.21h-1.5zM743.3 1771.7h1.5v19.21h-1.5zM746.4 1771.7h1.5v19.21h-1.5zM749.5 1771.7h1.5v19.21h-1.5zM837.7 1771.7h1.5v19.21h-1.5zM864.0 1771.7h3.1v19.21h-3.1zM564.6 1790.9h1.6v19.21h-1.6zM577.1 1790.9h1.6v19.21h-1.6zM597.4 1790.9h3.1v19.21h-3.1zM602.0 1790.9h3.1v19.21h-3.1zM613.0 1790.9h3.1v19.21h-3.1zM564.6 1810.1h1.6v19.21h-1.6zM594.2 1810.1h1.6v19.21h-1.6zM556.8 1829.3h1.6v19.21h-1.6zM569.3 1829.3h1.6v19.21h-1.6zM591.1 1829.3h3.1v19.21h-3.1zM635.3 1867.7h1.5v19.21h-1.5zM644.6 1867.7h3.1v19.21h-3.1zM649.2 1867.7h1.5v19.21h-1.5zM669.3 1867.7h1.5v19.21h-1.5zM678.6 1867.7h1.5v19.21h-1.5zM646.2 1886.9h3.1v19.21h-3.1zM650.8 1886.9h1.5v19.21h-1.5zM657.0 1886.9h1.5v19.21h-1.5zM627.6 1906.1h3.1v19.21h-3.1zM640.0 1906.1h4.6v19.21h-4.6zM658.5 1906.1h1.5v19.21h-1.5zM55.2 1944.5h1.6v19.21h-1.6zM698.5 1963.7h4.6v19.21h-4.6zM727.8 1963.7h1.5v19.21h-1.5zM732.5 1963.7h1.5v19.21h-1.5zM747.9 1963.7h1.5v19.21h-1.5zM693.9 1982.9h3.1v19.21h-3.1zM704.7 1982.9h3.1v19.21h-3.1zM720.1 1982.9h1.5v19.21h-1.5zM730.9 1982.9h1.5v19.21h-1.5zM746.4 1982.9h1.5v19.21h-1.5zM577.1 2002.1h1.6v19.21h-1.6zM712.4 2002.1h1.5v19.21h-1.5zM715.5 2002.1h1.5v19.21h-1.5zM730.9 2002.1h3.1v19.21h-3.1zM744.8 2002.1h3.1v19.21h-3.1zM758.3 2002.1h1.6v19.21h-1.6zM764.5 2021.3h4.7v19.21h-4.7zM784.7 2021.3h1.6v19.21h-1.6zM790.9 2021.3h1.6v19.21h-1.6zM801.8 2021.3h1.6v19.21h-1.6zM758.3 2040.5h1.6v19.21h-1.6zM763.0 2040.5h1.6v19.21h-1.6zM770.7 2040.5h3.1v19.21h-3.1zM778.5 2040.5h3.1v19.21h-3.1zM789.4 2040.5h1.6v19.21h-1.6zM812.7 2040.5h1.6v19.21h-1.6zM815.8 2040.5h1.6v19.21h-1.6zM769.2 2079.0h3.1v19.21h-3.1zM775.4 2079.0h4.7v19.21h-4.7zM801.8 2079.0h1.6v19.21h-1.6zM814.2 2079.0h3.1v19.21h-3.1zM828.4 2098.2h6.2v19.21h-6.2zM847.0 2098.2h4.6v19.21h-4.6zM856.2 2098.2h1.5v19.21h-1.5zM867.1 2098.2h1.5v19.21h-1.5zM836.2 2117.4h1.5v19.21h-1.5zM859.3 2117.4h3.1v19.21h-3.1zM873.2 2117.4h3.1v19.21h-3.1zM421.6 2136.6h1.6v19.21h-1.6zM644.6 2136.6h1.5v19.21h-1.5zM693.9 2136.6h1.5v19.21h-1.5zM850.1 2136.6h1.5v19.21h-1.5zM826.9 2155.8h3.1v19.21h-3.1zM864.0 2155.8h1.5v19.21h-1.5zM882.5 2155.8h3.1v19.21h-3.1zM909.4 2175.0h1.5v19.21h-1.5zM936.9 2175.0h3.1v19.21h-3.1zM944.6 2175.0h1.5v19.21h-1.5zM463.5 2194.2h1.6v19.21h-1.6zM895.6 2194.2h3.1v19.21h-3.1zM923.1 2194.2h1.5v19.21h-1.5zM936.9 2194.2h1.5v19.21h-1.5zM944.6 2194.2h3.1v19.21h-3.1zM950.7 2194.2h1.5v19.21h-1.5zM898.6 2213.4h1.5v19.21h-1.5zM949.2 2213.4h1.5v19.21h-1.5zM20.9 2232.6h3.1v19.21h-3.1zM894.0 2232.6h1.5v19.21h-1.5z"/><path fill="#44B7AC" d="M56.8 1137.9h1.6v19.21h-1.6zM63.0 1137.9h3.1v19.21h-3.1zM20.9 1157.1h1.6v19.21h-1.6zM47.4 1157.1h1.6v19.21h-1.6zM55.2 1157.1h1.6v19.21h-1.6zM16.2 1176.3h3.1v19.21h-3.1zM273.7 1176.3h1.5v19.21h-1.5zM497.9 1176.3h1.6v19.21h-1.6zM586.4 1176.3h1.6v19.21h-1.6zM655.4 1176.3h1.5v19.21h-1.5zM843.9 1176.3h1.5v19.21h-1.5zM44.3 1195.5h1.6v19.21h-1.6zM58.3 1195.5h1.6v19.21h-1.6zM236.9 1195.5h1.5v19.21h-1.5zM102.8 1214.7h3.1v19.21h-3.1zM110.6 1214.7h1.5v19.21h-1.5zM105.9 1233.9h1.5v19.21h-1.5zM115.2 1233.9h1.5v19.21h-1.5zM127.6 1233.9h1.5v19.21h-1.5zM85.8 1272.3h1.5v19.21h-1.5zM122.9 1272.3h1.5v19.21h-1.5zM152.1 1291.5h1.5v19.21h-1.5zM158.3 1291.5h1.5v19.21h-1.5zM167.6 1291.5h3.1v19.21h-3.1zM172.2 1291.5h4.6v19.21h-4.6zM178.4 1291.5h1.5v19.21h-1.5zM183.0 1291.5h1.5v19.21h-1.5zM190.7 1291.5h3.1v19.21h-3.1zM195.4 1291.5h1.5v19.21h-1.5zM161.4 1310.7h1.5v19.21h-1.5zM166.0 1310.7h1.5v19.21h-1.5zM178.4 1310.7h1.5v19.21h-1.5zM155.2 1330.0h1.5v19.21h-1.5zM158.3 1330.0h1.5v19.21h-1.5zM178.4 1330.0h1.5v19.21h-1.5zM264.5 1368.4h1.5v19.21h-1.5zM252.3 1387.6h1.5v19.21h-1.5zM270.7 1406.8h3.1v19.21h-3.1zM463.5 1406.8h1.6v19.21h-1.6zM327.9 1426.0h1.5v19.21h-1.5zM331.0 1426.0h1.5v19.21h-1.5zM952.3 1426.0h1.5v19.21h-1.5zM326.3 1445.2h3.1v19.21h-3.1zM332.5 1445.2h3.1v19.21h-3.1zM295.4 1464.4h1.5v19.21h-1.5zM331.0 1464.4h6.2v19.21h-6.2zM304.7 1483.6h1.5v19.21h-1.5zM340.3 1483.6h1.5v19.21h-1.5zM360.4 1502.8h3.1v19.21h-3.1zM379.0 1502.8h3.1v19.21h-3.1zM385.2 1502.8h1.5v19.21h-1.5zM397.5 1502.8h4.6v19.21h-4.6zM408.4 1502.8h1.5v19.21h-1.5zM366.6 1522.0h3.1v19.21h-3.1zM399.1 1522.0h1.5v19.21h-1.5zM365.1 1541.2h1.5v19.21h-1.5zM377.4 1541.2h4.6v19.21h-4.6zM392.9 1541.2h3.1v19.21h-3.1zM403.7 1541.2h1.5v19.21h-1.5zM358.9 1560.4h1.5v19.21h-1.5zM396.0 1560.4h3.1v19.21h-3.1zM408.4 1560.4h1.5v19.21h-1.5zM441.8 1579.6h1.6v19.21h-1.6zM430.9 1598.8h1.6v19.21h-1.6zM460.4 1598.8h1.6v19.21h-1.6zM472.8 1598.8h3.1v19.21h-3.1zM477.5 1598.8h1.6v19.21h-1.6zM420.0 1618.0h1.6v19.21h-1.6zM430.9 1618.0h1.6v19.21h-1.6zM471.3 1618.0h1.6v19.21h-1.6zM475.9 1618.0h1.6v19.21h-1.6zM426.2 1637.2h1.6v19.21h-1.6zM457.3 1637.2h3.1v19.21h-3.1zM479.0 1637.2h1.6v19.21h-1.6zM522.9 1656.4h1.6v19.21h-1.6zM533.8 1656.4h1.6v19.21h-1.6zM490.1 1675.6h1.6v19.21h-1.6zM508.9 1675.6h1.6v19.21h-1.6zM513.5 1675.6h3.1v19.21h-3.1zM518.2 1675.6h1.6v19.21h-1.6zM541.7 1675.6h1.6v19.21h-1.6zM584.9 1675.6h1.6v19.21h-1.6zM490.1 1694.9h1.6v19.21h-1.6zM494.8 1694.9h3.1v19.21h-3.1zM533.8 1694.9h1.6v19.21h-1.6zM494.8 1714.1h3.1v19.21h-3.1zM513.5 1714.1h1.6v19.21h-1.6zM524.5 1714.1h4.7v19.21h-4.7zM537.0 1714.1h1.6v19.21h-1.6zM569.3 1733.3h1.6v19.21h-1.6zM589.6 1733.3h1.6v19.21h-1.6zM592.7 1733.3h1.6v19.21h-1.6zM640.0 1733.3h3.1v19.21h-3.1zM649.2 1733.3h1.5v19.21h-1.5zM655.4 1733.3h1.5v19.21h-1.5zM660.0 1733.3h3.1v19.21h-3.1zM667.8 1733.3h1.5v19.21h-1.5zM670.9 1733.3h3.1v19.21h-3.1zM700.1 1733.3h1.5v19.21h-1.5zM723.2 1733.3h1.5v19.21h-1.5zM732.5 1733.3h3.1v19.21h-3.1zM795.6 1733.3h7.8v19.21h-7.8zM811.1 1733.3h1.6v19.21h-1.6zM814.2 1733.3h1.6v19.21h-1.6zM826.9 1733.3h1.5v19.21h-1.5zM834.6 1733.3h1.5v19.21h-1.5zM850.1 1733.3h3.1v19.21h-3.1zM865.5 1733.3h4.6v19.21h-4.6zM876.3 1733.3h1.5v19.21h-1.5zM894.0 1733.3h6.1v19.21h-6.1zM558.3 1752.5h3.1v19.21h-3.1zM580.2 1752.5h1.6v19.21h-1.6zM591.1 1752.5h1.6v19.21h-1.6zM594.2 1752.5h1.6v19.21h-1.6zM647.7 1752.5h3.1v19.21h-3.1zM681.7 1752.5h1.5v19.21h-1.5zM710.9 1752.5h1.5v19.21h-1.5zM714.0 1752.5h1.5v19.21h-1.5zM764.5 1752.5h1.6v19.21h-1.6zM790.9 1752.5h1.6v19.21h-1.6zM834.6 1752.5h1.5v19.21h-1.5zM837.7 1752.5h1.5v19.21h-1.5zM868.6 1752.5h1.5v19.21h-1.5zM871.7 1752.5h1.5v19.21h-1.5zM882.5 1752.5h3.1v19.21h-3.1zM555.2 1771.7h1.6v19.21h-1.6zM584.9 1771.7h3.1v19.21h-3.1zM594.2 1771.7h1.6v19.21h-1.6zM600.5 1771.7h1.6v19.21h-1.6zM606.7 1771.7h1.6v19.21h-1.6zM636.9 1771.7h3.1v19.21h-3.1zM667.8 1771.7h1.5v19.21h-1.5zM726.3 1771.7h3.1v19.21h-3.1zM828.4 1771.7h3.1v19.21h-3.1zM851.6 1771.7h1.5v19.21h-1.5zM879.4 1771.7h1.5v19.21h-1.5zM570.8 1790.9h1.6v19.21h-1.6zM558.3 1810.1h1.6v19.21h-1.6zM570.8 1810.1h1.6v19.21h-1.6zM555.2 1829.3h1.6v19.21h-1.6zM187.7 1848.5h1.5v19.21h-1.5zM570.8 1848.5h1.6v19.21h-1.6zM613.0 1848.5h3.1v19.21h-3.1zM626.1 1867.7h1.5v19.21h-1.5zM632.3 1886.9h1.5v19.21h-1.5zM703.1 1963.7h1.5v19.21h-1.5zM741.7 1963.7h1.5v19.21h-1.5zM655.4 1982.9h1.5v19.21h-1.5zM747.9 1982.9h1.5v19.21h-1.5zM667.8 2002.1h1.5v19.21h-1.5zM672.4 2002.1h3.1v19.21h-3.1zM698.5 2002.1h3.1v19.21h-3.1zM714.0 2002.1h1.5v19.21h-1.5zM778.5 2021.3h3.1v19.21h-3.1zM787.8 2021.3h1.6v19.21h-1.6zM795.6 2021.3h3.1v19.21h-3.1zM817.3 2040.5h1.6v19.21h-1.6zM790.9 2059.7h3.1v19.21h-3.1zM797.1 2059.7h1.6v19.21h-1.6zM773.8 2079.0h1.6v19.21h-1.6zM795.6 2079.0h3.1v19.21h-3.1zM804.9 2079.0h3.1v19.21h-3.1zM850.1 2117.4h1.5v19.21h-1.5zM856.2 2117.4h3.1v19.21h-3.1zM918.6 2117.4h1.5v19.21h-1.5zM936.9 2117.4h1.5v19.21h-1.5zM629.2 2136.6h1.5v19.21h-1.5zM826.9 2136.6h3.1v19.21h-3.1zM833.1 2136.6h1.5v19.21h-1.5zM847.0 2136.6h3.1v19.21h-3.1zM879.4 2136.6h3.1v19.21h-3.1zM865.5 2155.8h4.6v19.21h-4.6zM451.1 2175.0h1.6v19.21h-1.6zM895.6 2175.0h7.7v19.21h-7.7zM906.3 2175.0h3.1v19.21h-3.1zM915.5 2175.0h1.5v19.21h-1.5zM941.5 2175.0h1.5v19.21h-1.5zM947.7 2175.0h1.5v19.21h-1.5zM901.7 2194.2h1.5v19.21h-1.5zM269.1 2213.4h1.5v19.21h-1.5zM901.7 2213.4h1.5v19.21h-1.5zM906.3 2213.4h1.5v19.21h-1.5zM918.6 2232.6h1.5v19.21h-1.5zM926.2 2232.6h1.5v19.21h-1.5zM950.7 2232.6h1.5v19.21h-1.5z"/><path fill="#59CBAE" d="M501.1 1137.9h1.6v19.21h-1.6zM45.8 1157.1h1.6v19.21h-1.6zM24.0 1176.3h1.6v19.21h-1.6zM444.9 1176.3h1.6v19.21h-1.6zM857.8 1176.3h1.5v19.21h-1.5zM27.1 1195.5h1.6v19.21h-1.6zM34.9 1195.5h3.1v19.21h-3.1zM41.2 1195.5h3.1v19.21h-3.1zM49.0 1195.5h1.6v19.21h-1.6zM53.6 1195.5h1.6v19.21h-1.6zM59.9 1195.5h1.6v19.21h-1.6zM67.7 1195.5h1.6v19.21h-1.6zM132.2 1214.7h6.2v19.21h-6.2zM104.4 1233.9h1.5v19.21h-1.5zM95.1 1272.3h1.5v19.21h-1.5zM118.3 1272.3h3.1v19.21h-3.1zM127.6 1272.3h1.5v19.21h-1.5zM179.9 1291.5h3.1v19.21h-3.1zM198.5 1291.5h1.5v19.21h-1.5zM206.2 1291.5h1.5v19.21h-1.5zM149.0 1310.7h3.1v19.21h-3.1zM153.6 1310.7h4.6v19.21h-4.6zM164.5 1310.7h1.5v19.21h-1.5zM195.4 1310.7h3.1v19.21h-3.1zM200.0 1310.7h1.5v19.21h-1.5zM181.5 1330.0h1.5v19.21h-1.5zM230.8 1387.6h3.1v19.21h-3.1zM295.4 1387.6h1.5v19.21h-1.5zM424.7 1406.8h3.1v19.21h-3.1zM337.2 1426.0h3.1v19.21h-3.1zM452.6 1426.0h1.6v19.21h-1.6zM329.4 1445.2h1.5v19.21h-1.5zM338.7 1445.2h1.5v19.21h-1.5zM195.4 1464.4h3.1v19.21h-3.1zM312.4 1464.4h3.1v19.21h-3.1zM352.7 1502.8h1.5v19.21h-1.5zM355.8 1502.8h4.6v19.21h-4.6zM363.5 1502.8h4.6v19.21h-4.6zM369.7 1502.8h4.6v19.21h-4.6zM386.7 1502.8h4.6v19.21h-4.6zM392.9 1502.8h1.5v19.21h-1.5zM406.8 1502.8h1.5v19.21h-1.5zM432.4 1502.8h1.6v19.21h-1.6zM355.8 1522.0h3.1v19.21h-3.1zM374.3 1522.0h1.5v19.21h-1.5zM383.6 1522.0h1.5v19.21h-1.5zM357.3 1541.2h1.5v19.21h-1.5zM369.7 1541.2h1.5v19.21h-1.5zM406.8 1541.2h3.1v19.21h-3.1zM354.2 1560.4h3.1v19.21h-3.1zM380.5 1560.4h1.5v19.21h-1.5zM403.7 1560.4h1.5v19.21h-1.5zM426.2 1579.6h1.6v19.21h-1.6zM465.1 1579.6h3.1v19.21h-3.1zM440.2 1598.8h1.6v19.21h-1.6zM424.7 1618.0h1.6v19.21h-1.6zM423.1 1637.2h1.6v19.21h-1.6zM437.1 1637.2h1.6v19.21h-1.6zM454.2 1637.2h1.6v19.21h-1.6zM465.1 1637.2h1.6v19.21h-1.6zM468.2 1637.2h3.1v19.21h-3.1zM472.8 1637.2h1.6v19.21h-1.6zM497.9 1656.4h1.6v19.21h-1.6zM541.7 1656.4h3.1v19.21h-3.1zM496.4 1675.6h1.6v19.21h-1.6zM567.7 1733.3h1.6v19.21h-1.6zM572.4 1733.3h1.6v19.21h-1.6zM580.2 1733.3h1.6v19.21h-1.6zM600.5 1733.3h1.6v19.21h-1.6zM630.7 1733.3h1.5v19.21h-1.5zM701.6 1733.3h1.5v19.21h-1.5zM717.0 1733.3h1.5v19.21h-1.5zM740.2 1733.3h1.5v19.21h-1.5zM770.7 1733.3h1.6v19.21h-1.6zM780.1 1733.3h1.6v19.21h-1.6zM789.4 1733.3h1.6v19.21h-1.6zM809.6 1733.3h1.6v19.21h-1.6zM817.3 1733.3h1.6v19.21h-1.6zM842.3 1733.3h3.1v19.21h-3.1zM847.0 1733.3h1.5v19.21h-1.5zM871.7 1733.3h3.1v19.21h-3.1zM943.1 1733.3h1.5v19.21h-1.5zM555.2 1752.5h3.1v19.21h-3.1zM564.6 1752.5h1.6v19.21h-1.6zM606.7 1752.5h1.6v19.21h-1.6zM633.8 1752.5h1.5v19.21h-1.5zM657.0 1752.5h1.5v19.21h-1.5zM673.9 1752.5h1.5v19.21h-1.5zM690.8 1752.5h1.5v19.21h-1.5zM737.1 1752.5h3.1v19.21h-3.1zM744.8 1752.5h1.5v19.21h-1.5zM578.6 1771.7h1.6v19.21h-1.6zM641.5 1771.7h3.1v19.21h-3.1zM655.4 1771.7h1.5v19.21h-1.5zM692.3 1771.7h3.1v19.21h-3.1zM833.1 1771.7h1.5v19.21h-1.5zM847.0 1771.7h1.5v19.21h-1.5zM871.7 1771.7h1.5v19.21h-1.5zM584.9 1790.9h1.6v19.21h-1.6zM577.1 1810.1h3.1v19.21h-3.1zM611.4 1810.1h1.6v19.21h-1.6zM558.3 1829.3h1.6v19.21h-1.6zM586.4 1829.3h1.6v19.21h-1.6zM561.4 1848.5h3.1v19.21h-3.1zM623.0 1867.7h1.5v19.21h-1.5zM629.2 1867.7h1.5v19.21h-1.5zM641.5 1867.7h1.5v19.21h-1.5zM661.6 1867.7h1.5v19.21h-1.5zM675.5 1867.7h3.1v19.21h-3.1zM577.1 1886.9h1.6v19.21h-1.6zM635.3 1886.9h1.5v19.21h-1.5zM661.6 1886.9h1.5v19.21h-1.5zM678.6 1886.9h1.5v19.21h-1.5zM636.9 1906.1h1.5v19.21h-1.5zM653.9 1906.1h1.5v19.21h-1.5zM657.0 1925.3h1.5v19.21h-1.5zM663.1 1925.3h1.5v19.21h-1.5zM673.9 1925.3h1.5v19.21h-1.5zM680.1 1944.5h1.5v19.21h-1.5zM692.3 1963.7h3.1v19.21h-3.1zM715.5 1963.7h3.1v19.21h-3.1zM724.8 1963.7h3.1v19.21h-3.1zM734.0 1963.7h3.1v19.21h-3.1zM700.1 1982.9h1.5v19.21h-1.5zM723.2 1982.9h3.1v19.21h-3.1zM737.1 1982.9h3.1v19.21h-3.1zM632.3 2002.1h1.5v19.21h-1.5zM636.9 2002.1h3.1v19.21h-3.1zM661.6 2002.1h1.5v19.21h-1.5zM675.5 2002.1h3.1v19.21h-3.1zM692.3 2002.1h3.1v19.21h-3.1zM706.2 2002.1h3.1v19.21h-3.1zM717.0 2002.1h4.6v19.21h-4.6zM787.8 2002.1h1.6v19.21h-1.6zM167.6 2021.3h1.5v19.21h-1.5zM798.7 2021.3h1.6v19.21h-1.6zM815.8 2021.3h3.1v19.21h-3.1zM761.4 2040.5h1.6v19.21h-1.6zM773.8 2040.5h3.1v19.21h-3.1zM804.9 2040.5h1.6v19.21h-1.6zM814.2 2040.5h1.6v19.21h-1.6zM109.0 2059.7h1.5v19.21h-1.5zM763.0 2059.7h3.1v19.21h-3.1zM769.2 2059.7h1.6v19.21h-1.6zM772.3 2059.7h1.6v19.21h-1.6zM759.9 2079.0h1.6v19.21h-1.6zM840.8 2098.2h3.1v19.21h-3.1zM853.2 2098.2h1.5v19.21h-1.5zM876.3 2098.2h1.5v19.21h-1.5zM55.2 2117.4h1.6v19.21h-1.6zM831.5 2117.4h1.5v19.21h-1.5zM837.7 2117.4h3.1v19.21h-3.1zM843.9 2117.4h3.1v19.21h-3.1zM848.5 2117.4h1.5v19.21h-1.5zM865.5 2117.4h3.1v19.21h-3.1zM877.9 2117.4h6.2v19.21h-6.2zM611.4 2136.6h1.6v19.21h-1.6zM646.2 2136.6h1.5v19.21h-1.5zM851.6 2136.6h1.5v19.21h-1.5zM857.8 2136.6h1.5v19.21h-1.5zM870.2 2136.6h1.5v19.21h-1.5zM874.8 2136.6h1.5v19.21h-1.5zM856.2 2155.8h3.1v19.21h-3.1zM903.2 2175.0h1.5v19.21h-1.5zM920.1 2175.0h1.5v19.21h-1.5zM904.8 2194.2h1.5v19.21h-1.5zM914.0 2194.2h3.1v19.21h-3.1zM927.7 2194.2h1.5v19.21h-1.5zM935.4 2194.2h1.5v19.21h-1.5zM909.4 2213.4h1.5v19.21h-1.5zM917.0 2213.4h3.1v19.21h-3.1zM895.6 2232.6h1.5v19.21h-1.5zM906.3 2232.6h4.6v19.21h-4.6zM929.3 2232.6h3.1v19.21h-3.1z"/><path fill="#8AD9B6" d="M52.1 1157.1h1.6v19.21h-1.6zM58.3 1157.1h1.6v19.21h-1.6zM243.1 1157.1h1.5v19.21h-1.5zM28.7 1195.5h1.6v19.21h-1.6zM31.8 1195.5h3.1v19.21h-3.1zM52.1 1195.5h1.6v19.21h-1.6zM85.8 1214.7h1.5v19.21h-1.5zM98.2 1214.7h1.5v19.21h-1.5zM115.2 1214.7h1.5v19.21h-1.5zM87.4 1233.9h1.5v19.21h-1.5zM96.7 1233.9h1.5v19.21h-1.5zM190.7 1310.7h1.5v19.21h-1.5zM206.2 1310.7h1.5v19.21h-1.5zM152.1 1330.0h1.5v19.21h-1.5zM169.1 1330.0h1.5v19.21h-1.5zM204.7 1330.0h1.5v19.21h-1.5zM227.7 1387.6h3.1v19.21h-3.1zM34.9 1406.8h3.1v19.21h-3.1zM297.0 1464.4h1.5v19.21h-1.5zM341.8 1464.4h1.5v19.21h-1.5zM377.4 1502.8h1.5v19.21h-1.5zM383.6 1502.8h1.5v19.21h-1.5zM402.2 1502.8h4.6v19.21h-4.6zM409.9 1502.8h3.1v19.21h-3.1zM371.3 1522.0h1.5v19.21h-1.5zM375.9 1522.0h3.1v19.21h-3.1zM391.4 1522.0h3.1v19.21h-3.1zM402.2 1522.0h1.5v19.21h-1.5zM362.0 1541.2h1.5v19.21h-1.5zM375.9 1541.2h1.5v19.21h-1.5zM397.5 1541.2h1.5v19.21h-1.5zM405.3 1541.2h1.5v19.21h-1.5zM352.7 1560.4h1.5v19.21h-1.5zM362.0 1560.4h1.5v19.21h-1.5zM377.4 1560.4h1.5v19.21h-1.5zM388.3 1560.4h1.5v19.21h-1.5zM405.3 1560.4h1.5v19.21h-1.5zM420.0 1579.6h1.6v19.21h-1.6zM448.0 1579.6h3.1v19.21h-3.1zM427.8 1618.0h3.1v19.21h-3.1zM462.0 1637.2h3.1v19.21h-3.1zM471.3 1656.4h1.6v19.21h-1.6zM155.2 1675.6h1.5v19.21h-1.5zM573.9 1733.3h1.6v19.21h-1.6zM583.3 1733.3h1.6v19.21h-1.6zM594.2 1733.3h3.1v19.21h-3.1zM614.5 1733.3h1.6v19.21h-1.6zM643.1 1733.3h3.1v19.21h-3.1zM693.9 1733.3h1.5v19.21h-1.5zM703.1 1733.3h1.5v19.21h-1.5zM743.3 1733.3h1.5v19.21h-1.5zM786.3 1733.3h1.6v19.21h-1.6zM831.5 1733.3h1.5v19.21h-1.5zM650.8 1752.5h1.5v19.21h-1.5zM669.3 1752.5h1.5v19.21h-1.5zM693.9 1752.5h3.1v19.21h-3.1zM715.5 1752.5h1.5v19.21h-1.5zM732.5 1752.5h1.5v19.21h-1.5zM767.6 1752.5h3.1v19.21h-3.1zM806.5 1752.5h1.6v19.21h-1.6zM809.6 1752.5h6.2v19.21h-6.2zM853.2 1752.5h3.1v19.21h-3.1zM865.5 1752.5h1.5v19.21h-1.5zM635.3 1771.7h1.5v19.21h-1.5zM658.5 1771.7h1.5v19.21h-1.5zM663.1 1771.7h1.5v19.21h-1.5zM680.1 1771.7h1.5v19.21h-1.5zM717.0 1771.7h1.5v19.21h-1.5zM721.7 1771.7h1.5v19.21h-1.5zM882.5 1771.7h1.5v19.21h-1.5zM558.3 1790.9h1.6v19.21h-1.6zM567.7 1790.9h3.1v19.21h-3.1zM572.4 1790.9h1.6v19.21h-1.6zM595.8 1810.1h1.6v19.21h-1.6zM564.6 1829.3h1.6v19.21h-1.6zM712.4 1829.3h1.5v19.21h-1.5zM647.7 1867.7h1.5v19.21h-1.5zM657.0 1867.7h1.5v19.21h-1.5zM630.7 1886.9h1.5v19.21h-1.5zM666.2 1886.9h1.5v19.21h-1.5zM740.2 1963.7h1.5v19.21h-1.5zM581.7 1982.9h3.1v19.21h-3.1zM623.0 1982.9h1.5v19.21h-1.5zM740.2 1982.9h1.5v19.21h-1.5zM812.7 1982.9h1.6v19.21h-1.6zM640.0 2002.1h3.1v19.21h-3.1zM644.6 2002.1h1.5v19.21h-1.5zM773.8 2021.3h1.6v19.21h-1.6zM812.7 2021.3h1.6v19.21h-1.6zM797.1 2040.5h3.1v19.21h-3.1zM860.9 2040.5h1.5v19.21h-1.5zM766.1 2059.7h1.6v19.21h-1.6zM784.7 2059.7h1.6v19.21h-1.6zM798.7 2059.7h1.6v19.21h-1.6zM801.8 2059.7h1.6v19.21h-1.6zM808.0 2059.7h1.6v19.21h-1.6zM812.7 2059.7h1.6v19.21h-1.6zM758.3 2079.0h1.6v19.21h-1.6zM764.5 2079.0h1.6v19.21h-1.6zM811.1 2079.0h1.6v19.21h-1.6zM873.2 2098.2h1.5v19.21h-1.5zM864.0 2117.4h1.5v19.21h-1.5zM868.6 2117.4h1.5v19.21h-1.5zM783.2 2136.6h1.6v19.21h-1.6zM840.8 2136.6h1.5v19.21h-1.5zM876.3 2136.6h1.5v19.21h-1.5zM831.5 2155.8h1.5v19.21h-1.5zM853.2 2155.8h3.1v19.21h-3.1zM876.3 2155.8h1.5v19.21h-1.5zM938.5 2194.2h1.5v19.21h-1.5zM301.6 2213.4h1.5v19.21h-1.5zM904.8 2213.4h1.5v19.21h-1.5zM944.6 2213.4h3.1v19.21h-3.1zM910.9 2232.6h1.5v19.21h-1.5zM947.7 2232.6h3.1v19.21h-3.1z"/><path fill="#B6E7C9" d="M17.8 1157.1h3.1v19.21h-3.1zM30.2 1157.1h3.1v19.21h-3.1zM61.4 1157.1h1.6v19.21h-1.6zM732.5 1176.3h1.5v19.21h-1.5zM119.9 1214.7h1.5v19.21h-1.5zM112.1 1233.9h3.1v19.21h-3.1zM193.8 1310.7h1.5v19.21h-1.5zM186.1 1330.0h1.5v19.21h-1.5zM193.8 1330.0h3.1v19.21h-3.1zM44.3 1406.8h1.6v19.21h-1.6zM153.6 1406.8h1.5v19.21h-1.5zM161.4 1464.4h1.5v19.21h-1.5zM423.1 1483.6h3.1v19.21h-3.1zM368.2 1502.8h1.5v19.21h-1.5zM375.9 1502.8h1.5v19.21h-1.5zM354.2 1522.0h1.5v19.21h-1.5zM365.1 1522.0h1.5v19.21h-1.5zM388.3 1522.0h1.5v19.21h-1.5zM397.5 1522.0h1.5v19.21h-1.5zM386.7 1541.2h3.1v19.21h-3.1zM396.0 1541.2h1.5v19.21h-1.5zM411.5 1541.2h1.5v19.21h-1.5zM374.3 1560.4h1.5v19.21h-1.5zM382.1 1560.4h3.1v19.21h-3.1zM409.9 1560.4h1.5v19.21h-1.5zM475.9 1675.6h1.6v19.21h-1.6zM650.8 1733.3h3.1v19.21h-3.1zM630.7 1752.5h1.5v19.21h-1.5zM704.7 1752.5h1.5v19.21h-1.5zM727.8 1752.5h1.5v19.21h-1.5zM563.0 1810.1h1.6v19.21h-1.6zM567.7 1810.1h1.6v19.21h-1.6zM611.4 1829.3h1.6v19.21h-1.6zM614.5 1829.3h1.6v19.21h-1.6zM638.4 1867.7h1.5v19.21h-1.5zM650.8 1867.7h1.5v19.21h-1.5zM626.1 1886.9h3.1v19.21h-3.1zM641.5 1886.9h1.5v19.21h-1.5zM644.6 1886.9h1.5v19.21h-1.5zM669.3 1886.9h1.5v19.21h-1.5zM704.7 1963.7h1.5v19.21h-1.5zM737.1 1963.7h1.5v19.21h-1.5zM741.7 1982.9h3.1v19.21h-3.1zM658.5 2002.1h1.5v19.21h-1.5zM681.7 2002.1h1.5v19.21h-1.5zM697.0 2002.1h1.5v19.21h-1.5zM723.2 2002.1h3.1v19.21h-3.1zM749.5 2002.1h1.5v19.21h-1.5zM758.3 2021.3h3.1v19.21h-3.1zM781.6 2021.3h1.6v19.21h-1.6zM803.4 2021.3h3.1v19.21h-3.1zM784.7 2040.5h3.1v19.21h-3.1zM803.4 2040.5h1.6v19.21h-1.6zM759.9 2059.7h1.6v19.21h-1.6zM803.4 2059.7h1.6v19.21h-1.6zM803.4 2079.0h1.6v19.21h-1.6zM535.4 2117.4h1.6v19.21h-1.6zM600.5 2136.6h1.6v19.21h-1.6zM834.6 2136.6h3.1v19.21h-3.1zM884.1 2136.6h1.5v19.21h-1.5zM929.3 2175.0h3.1v19.21h-3.1zM950.7 2175.0h3.1v19.21h-3.1zM910.9 2194.2h3.1v19.21h-3.1zM941.5 2194.2h1.5v19.21h-1.5zM892.5 2213.4h1.5v19.21h-1.5zM516.7 2232.6h1.6v19.21h-1.6z"/><path fill="#DEF5E5" d="M63.0 1157.1h3.1v19.21h-3.1zM88.9 1214.7h1.5v19.21h-1.5zM109.0 1233.9h1.5v19.21h-1.5zM132.2 1233.9h3.1v19.21h-3.1zM166.0 1330.0h3.1v19.21h-3.1zM172.2 1330.0h1.5v19.21h-1.5zM196.9 1330.0h1.5v19.21h-1.5zM200.0 1330.0h3.1v19.21h-3.1zM374.3 1502.8h1.5v19.21h-1.5zM382.1 1502.8h1.5v19.21h-1.5zM362.0 1522.0h3.1v19.21h-3.1zM383.6 1541.2h3.1v19.21h-3.1zM366.6 1560.4h3.1v19.21h-3.1zM570.8 1829.3h1.6v19.21h-1.6zM623.0 1886.9h3.1v19.21h-3.1zM707.8 1982.9h1.5v19.21h-1.5zM727.8 1982.9h1.5v19.21h-1.5zM680.1 2002.1h1.5v19.21h-1.5zM776.9 2021.3h1.6v19.21h-1.6zM792.5 2040.5h1.6v19.21h-1.6zM809.6 2040.5h1.6v19.21h-1.6zM806.5 2059.7h1.6v19.21h-1.6zM809.6 2079.0h1.6v19.21h-1.6zM914.0 2175.0h1.5v19.21h-1.5zM923.1 2213.4h1.5v19.21h-1.5z"/>
<path fill="#2D1F3C" d="M1686.3 1137.9h1.7v21.84h-1.7zM2031.9 1137.9h1.7v21.84h-1.7zM1968.5 1181.6h1.7v21.84h-1.7zM1721.9 1247.1h1.7v21.84h-1.7zM2006.2 1290.8h1.7v21.84h-1.7zM1098.6 1378.2h1.7v21.84h-1.7zM1711.4 1421.8h1.7v21.84h-1.7zM1235.1 1487.4h1.7v21.84h-1.7zM1386.6 1487.4h1.7v21.84h-1.7zM1186.2 1509.2h1.7v21.84h-1.7zM1240.1 1552.9h1.7v21.84h-1.7zM1319.7 1552.9h3.4v21.84h-3.4zM1634.1 1618.4h3.4v21.84h-3.4zM1164.2 1640.2h1.7v21.84h-1.7zM1600.9 1640.2h1.7v21.84h-1.7zM1630.7 1749.5h3.4v21.84h-3.4zM1982.2 1749.5h1.7v21.84h-1.7zM1755.4 1771.3h1.7v21.84h-1.7zM1464.9 1815.0h1.7v21.84h-1.7zM1362.7 1902.3h1.7v21.84h-1.7zM1883.4 1902.3h1.7v21.84h-1.7zM1181.2 1967.9h1.7v21.84h-1.7zM1417.3 2011.5h1.7v21.84h-1.7zM2031.9 2077.1h1.7v21.84h-1.7zM1650.9 2142.6h1.7v21.84h-1.7z"/><path fill="#3A2D5B" d="M1535.8 1137.9h1.7v21.84h-1.7zM1681.2 1137.9h1.7v21.84h-1.7zM1987.4 1137.9h1.7v21.84h-1.7zM1780.6 1159.7h1.7v21.84h-1.7zM2007.9 1181.6h1.7v21.84h-1.7zM2035.3 1181.6h1.7v21.84h-1.7zM1301.2 1225.3h1.7v21.84h-1.7zM1403.6 1247.1h3.4v21.84h-3.4zM1203.1 1268.9h1.7v21.84h-1.7zM1287.7 1268.9h1.7v21.84h-1.7zM2026.8 1268.9h3.4v21.84h-3.4zM1975.4 1290.8h1.7v21.84h-1.7zM2033.6 1312.6h1.7v21.84h-1.7zM1105.3 1334.5h1.7v21.84h-1.7zM1407.0 1334.5h1.7v21.84h-1.7zM1556.3 1356.3h1.7v21.84h-1.7zM1096.9 1378.2h1.7v21.84h-1.7zM1123.8 1378.2h3.4v21.84h-3.4zM1928.1 1400.0h1.7v21.84h-1.7zM1907.5 1421.8h1.7v21.84h-1.7zM1941.8 1421.8h1.7v21.84h-1.7zM1112.0 1487.4h3.4v21.84h-3.4zM1120.4 1487.4h5.0v21.84h-5.0zM1209.8 1487.4h5.0v21.84h-5.0zM1355.9 1487.4h3.4v21.84h-3.4zM1736.9 1487.4h1.7v21.84h-1.7zM1971.9 1487.4h3.4v21.84h-3.4zM2006.2 1487.4h1.7v21.84h-1.7zM1147.4 1509.2h1.7v21.84h-1.7zM1282.6 1509.2h1.7v21.84h-1.7zM1324.7 1509.2h1.7v21.84h-1.7zM1339.9 1509.2h1.7v21.84h-1.7zM1128.9 1552.9h3.4v21.84h-3.4zM1230.0 1552.9h3.4v21.84h-3.4zM1637.5 1552.9h1.7v21.84h-1.7zM1162.5 1640.2h1.7v21.84h-1.7zM1528.9 1640.2h1.7v21.84h-1.7zM1602.6 1640.2h1.7v21.84h-1.7zM1713.2 1640.2h6.9v21.84h-6.9zM1736.9 1640.2h1.7v21.84h-1.7zM1556.3 1662.1h1.7v21.84h-1.7zM1578.6 1662.1h1.7v21.84h-1.7zM1702.8 1662.1h3.5v21.84h-3.5zM1999.3 1662.1h1.7v21.84h-1.7zM1758.7 1683.9h1.7v21.84h-1.7zM2021.6 1727.6h1.7v21.84h-1.7zM1622.3 1749.5h1.7v21.84h-1.7zM1627.4 1749.5h3.4v21.84h-3.4zM1880.0 1749.5h3.4v21.84h-3.4zM1782.2 1771.3h3.4v21.84h-3.4zM1500.8 1793.1h1.7v21.84h-1.7zM1507.6 1793.1h1.7v21.84h-1.7zM1511.0 1793.1h3.4v21.84h-3.4zM1559.7 1858.7h1.7v21.84h-1.7zM1576.9 1858.7h1.7v21.84h-1.7zM1599.1 1858.7h1.7v21.84h-1.7zM2038.7 1880.5h1.7v21.84h-1.7zM1364.4 1902.3h3.4v21.84h-3.4zM1551.2 1902.3h3.4v21.84h-3.4zM1814.0 1902.3h1.7v21.84h-1.7zM1929.8 1924.2h1.7v21.84h-1.7zM1583.7 1946.0h3.4v21.84h-3.4zM1425.8 1967.9h5.1v21.84h-5.1zM1221.6 2011.5h1.7v21.84h-1.7zM1475.1 2011.5h1.7v21.84h-1.7zM1301.2 2033.4h3.4v21.84h-3.4zM1595.7 2033.4h1.7v21.84h-1.7zM1702.8 2033.4h1.7v21.84h-1.7zM1706.2 2033.4h3.5v21.84h-3.5zM1711.4 2033.4h1.7v21.84h-1.7zM1973.7 2033.4h1.7v21.84h-1.7zM2021.6 2033.4h1.7v21.84h-1.7zM1793.4 2077.1h1.7v21.84h-1.7zM1808.8 2077.1h1.7v21.84h-1.7zM1997.6 2077.1h1.7v21.84h-1.7zM2042.2 2077.1h1.7v21.84h-1.7zM1241.8 2098.9h1.7v21.84h-1.7zM1635.8 2098.9h1.7v21.84h-1.7zM1671.1 2098.9h1.7v21.84h-1.7zM1848.2 2098.9h3.4v21.84h-3.4zM1858.5 2098.9h1.7v21.84h-1.7zM1657.7 2120.8h1.7v21.84h-1.7zM1413.9 2142.6h1.7v21.84h-1.7zM1578.6 2142.6h3.4v21.84h-3.4zM1635.8 2142.6h1.7v21.84h-1.7zM1702.8 2142.6h1.7v21.84h-1.7zM1798.5 2142.6h3.4v21.84h-3.4zM1829.4 2142.6h3.4v21.84h-3.4zM1861.9 2142.6h5.1v21.84h-5.1zM1552.9 2186.3h1.7v21.84h-1.7zM1709.7 2186.3h1.7v21.84h-1.7zM1742.0 2186.3h1.7v21.84h-1.7z"/><path fill="#3E3E79" d="M1568.3 1137.9h1.7v21.84h-1.7zM1676.2 1137.9h3.4v21.84h-3.4zM1688.0 1137.9h1.7v21.84h-1.7zM1713.2 1137.9h1.7v21.84h-1.7zM1773.8 1159.7h1.7v21.84h-1.7zM1578.6 1181.6h1.7v21.84h-1.7zM2031.9 1181.6h3.4v21.84h-3.4zM2037.0 1181.6h1.7v21.84h-1.7zM1296.1 1225.3h1.7v21.84h-1.7zM1393.4 1225.3h1.7v21.84h-1.7zM1978.8 1225.3h3.4v21.84h-3.4zM1992.5 1225.3h1.7v21.84h-1.7zM2035.3 1225.3h3.4v21.84h-3.4zM1118.8 1247.1h1.7v21.84h-1.7zM1400.2 1247.1h3.4v21.84h-3.4zM1286.0 1268.9h1.7v21.84h-1.7zM1270.9 1290.8h3.4v21.84h-3.4zM1369.5 1290.8h5.1v21.84h-5.1zM1980.5 1290.8h1.7v21.84h-1.7zM2002.8 1290.8h3.4v21.84h-3.4zM2007.9 1290.8h1.7v21.84h-1.7zM1238.4 1334.5h1.7v21.84h-1.7zM1329.8 1334.5h1.7v21.84h-1.7zM1405.3 1334.5h1.7v21.84h-1.7zM1165.9 1356.3h1.7v21.84h-1.7zM1554.6 1356.3h1.7v21.84h-1.7zM1558.0 1356.3h1.7v21.84h-1.7zM1575.2 1356.3h1.7v21.84h-1.7zM1095.2 1378.2h1.7v21.84h-1.7zM1127.2 1378.2h1.7v21.84h-1.7zM1137.3 1400.0h1.7v21.84h-1.7zM1770.5 1400.0h1.7v21.84h-1.7zM1926.4 1400.0h1.7v21.84h-1.7zM1929.8 1400.0h3.4v21.84h-3.4zM2030.2 1465.5h1.7v21.84h-1.7zM1233.4 1487.4h1.7v21.84h-1.7zM1359.3 1487.4h1.7v21.84h-1.7zM1101.9 1509.2h1.7v21.84h-1.7zM1187.9 1509.2h1.7v21.84h-1.7zM1289.4 1509.2h1.7v21.84h-1.7zM1333.1 1509.2h1.7v21.84h-1.7zM1815.7 1531.0h1.7v21.84h-1.7zM1834.5 1531.0h1.7v21.84h-1.7zM1189.6 1552.9h5.0v21.84h-5.0zM1241.8 1552.9h1.7v21.84h-1.7zM1255.3 1552.9h1.7v21.84h-1.7zM1258.6 1552.9h1.7v21.84h-1.7zM1482.0 1574.7h1.7v21.84h-1.7zM1576.9 1574.7h1.7v21.84h-1.7zM1880.0 1596.6h1.7v21.84h-1.7zM1883.4 1596.6h1.7v21.84h-1.7zM1476.8 1618.4h1.7v21.84h-1.7zM1487.1 1618.4h5.1v21.84h-5.1zM1639.1 1618.4h1.7v21.84h-1.7zM1652.6 1618.4h3.4v21.84h-3.4zM1659.3 1618.4h1.7v21.84h-1.7zM1702.8 1618.4h1.7v21.84h-1.7zM1165.9 1640.2h3.4v21.84h-3.4zM1702.8 1640.2h1.7v21.84h-1.7zM1706.2 1640.2h1.7v21.84h-1.7zM1738.6 1640.2h1.7v21.84h-1.7zM1888.6 1640.2h1.7v21.84h-1.7zM1459.7 1662.1h3.4v21.84h-3.4zM1699.3 1662.1h3.5v21.84h-3.5zM1480.2 1683.9h1.7v21.84h-1.7zM1209.8 1749.5h1.7v21.84h-1.7zM1620.6 1749.5h1.7v21.84h-1.7zM1966.8 1749.5h1.7v21.84h-1.7zM1904.0 1771.3h3.4v21.84h-3.4zM1476.8 1793.1h1.7v21.84h-1.7zM1502.5 1793.1h5.1v21.84h-5.1zM1466.6 1815.0h1.7v21.84h-1.7zM1478.5 1815.0h5.1v21.84h-5.1zM1493.9 1815.0h1.7v21.84h-1.7zM1568.3 1815.0h1.7v21.84h-1.7zM1561.5 1858.7h1.7v21.84h-1.7zM1952.1 1858.7h1.7v21.84h-1.7zM1822.5 1880.5h1.7v21.84h-1.7zM2031.9 1880.5h1.7v21.84h-1.7zM1554.6 1902.3h1.7v21.84h-1.7zM1587.2 1902.3h1.7v21.84h-1.7zM1654.3 1902.3h1.7v21.84h-1.7zM1827.7 1902.3h3.4v21.84h-3.4zM1544.3 1924.2h1.7v21.84h-1.7zM1738.6 1946.0h1.7v21.84h-1.7zM2035.3 1946.0h1.7v21.84h-1.7zM1424.1 1967.9h1.7v21.84h-1.7zM1299.5 2033.4h1.7v21.84h-1.7zM1701.0 2033.4h1.7v21.84h-1.7zM1713.2 2033.4h3.5v21.84h-3.5zM1825.9 2033.4h3.4v21.84h-3.4zM1539.2 2077.1h1.7v21.84h-1.7zM1635.8 2077.1h3.4v21.84h-3.4zM1620.6 2120.8h1.7v21.84h-1.7zM1834.5 2120.8h1.7v21.84h-1.7zM1837.9 2120.8h3.4v21.84h-3.4zM1542.6 2142.6h1.7v21.84h-1.7zM1551.2 2142.6h1.7v21.84h-1.7zM1582.0 2142.6h1.7v21.84h-1.7zM1630.7 2142.6h5.0v21.84h-5.0zM1701.0 2142.6h1.7v21.84h-1.7zM1803.7 2142.6h1.7v21.84h-1.7zM1848.2 2142.6h1.7v21.84h-1.7zM1867.1 2142.6h1.7v21.84h-1.7zM1532.3 2208.1h1.7v21.84h-1.7zM1992.5 2230.0h3.4v21.84h-3.4z"/><path fill="#3E5092" d="M1679.5 1137.9h1.7v21.84h-1.7zM1689.6 1137.9h3.4v21.84h-3.4zM1709.7 1137.9h3.5v21.84h-3.5zM1989.1 1137.9h1.7v21.84h-1.7zM1999.3 1159.7h1.7v21.84h-1.7zM1155.8 1203.4h1.7v21.84h-1.7zM1189.6 1203.4h1.7v21.84h-1.7zM1329.8 1203.4h1.7v21.84h-1.7zM1157.5 1225.3h1.7v21.84h-1.7zM1170.9 1225.3h1.7v21.84h-1.7zM1203.1 1225.3h1.7v21.84h-1.7zM1253.6 1225.3h1.7v21.84h-1.7zM1133.9 1268.9h3.4v21.84h-3.4zM1117.1 1290.8h1.7v21.84h-1.7zM1366.1 1290.8h1.7v21.84h-1.7zM1977.1 1290.8h3.4v21.84h-3.4zM1253.6 1312.6h1.7v21.84h-1.7zM1980.5 1312.6h3.4v21.84h-3.4zM2011.3 1312.6h1.7v21.84h-1.7zM1199.7 1334.5h1.7v21.84h-1.7zM1218.2 1334.5h1.7v21.84h-1.7zM1243.5 1334.5h3.4v21.84h-3.4zM1304.5 1334.5h1.7v21.84h-1.7zM1184.6 1356.3h1.7v21.84h-1.7zM1573.5 1356.3h1.7v21.84h-1.7zM1711.4 1356.3h3.5v21.84h-3.5zM1269.2 1378.2h1.7v21.84h-1.7zM1145.7 1400.0h1.7v21.84h-1.7zM1230.0 1400.0h3.4v21.84h-3.4zM1384.9 1400.0h3.4v21.84h-3.4zM1144.0 1421.8h1.7v21.84h-1.7zM1338.2 1421.8h1.7v21.84h-1.7zM1905.8 1421.8h1.7v21.84h-1.7zM1917.8 1421.8h1.7v21.84h-1.7zM1943.5 1421.8h1.7v21.84h-1.7zM1307.9 1443.7h1.7v21.84h-1.7zM1344.9 1443.7h1.7v21.84h-1.7zM2028.5 1465.5h1.7v21.84h-1.7zM1115.4 1487.4h1.7v21.84h-1.7zM1184.6 1487.4h3.4v21.84h-3.4zM1226.6 1487.4h1.7v21.84h-1.7zM1241.8 1487.4h1.7v21.84h-1.7zM1251.9 1487.4h1.7v21.84h-1.7zM1403.6 1487.4h3.4v21.84h-3.4zM1410.4 1487.4h1.7v21.84h-1.7zM1425.8 1487.4h1.7v21.84h-1.7zM1747.0 1487.4h1.7v21.84h-1.7zM1100.2 1509.2h1.7v21.84h-1.7zM1284.3 1509.2h1.7v21.84h-1.7zM1355.9 1531.0h1.7v21.84h-1.7zM1398.5 1531.0h3.4v21.84h-3.4zM1413.9 1531.0h3.4v21.84h-3.4zM1831.1 1531.0h3.4v21.84h-3.4zM1125.5 1552.9h3.4v21.84h-3.4zM1184.6 1552.9h1.7v21.84h-1.7zM1211.5 1552.9h1.7v21.84h-1.7zM1483.7 1574.7h1.7v21.84h-1.7zM1618.9 1574.7h1.7v21.84h-1.7zM1440.9 1596.6h1.7v21.84h-1.7zM1447.7 1596.6h1.7v21.84h-1.7zM1475.1 1596.6h1.7v21.84h-1.7zM1514.5 1596.6h3.4v21.84h-3.4zM1624.0 1596.6h1.7v21.84h-1.7zM1674.5 1596.6h1.7v21.84h-1.7zM1881.7 1596.6h1.7v21.84h-1.7zM1167.6 1618.4h1.7v21.84h-1.7zM1442.6 1618.4h3.4v21.84h-3.4zM1482.0 1618.4h1.7v21.84h-1.7zM1499.1 1618.4h1.7v21.84h-1.7zM1512.8 1618.4h1.7v21.84h-1.7zM1580.3 1640.2h1.7v21.84h-1.7zM1681.2 1640.2h1.7v21.84h-1.7zM1704.5 1640.2h1.7v21.84h-1.7zM1708.0 1640.2h1.7v21.84h-1.7zM1456.3 1662.1h3.4v21.84h-3.4zM1485.4 1662.1h1.7v21.84h-1.7zM1706.2 1662.1h1.7v21.84h-1.7zM1449.5 1683.9h1.7v21.84h-1.7zM1461.4 1683.9h1.7v21.84h-1.7zM1488.8 1683.9h1.7v21.84h-1.7zM1499.1 1683.9h1.7v21.84h-1.7zM1505.9 1683.9h3.4v21.84h-3.4zM1604.3 1683.9h1.7v21.84h-1.7zM1731.9 1683.9h3.4v21.84h-3.4zM1551.2 1727.6h1.7v21.84h-1.7zM1661.0 1749.5h1.7v21.84h-1.7zM1767.1 1749.5h3.4v21.84h-3.4zM1772.2 1749.5h1.7v21.84h-1.7zM1671.1 1771.3h1.7v21.84h-1.7zM1684.6 1771.3h1.7v21.84h-1.7zM1463.1 1815.0h1.7v21.84h-1.7zM1682.9 1836.8h1.7v21.84h-1.7zM1688.0 1836.8h1.7v21.84h-1.7zM2037.0 1880.5h1.7v21.84h-1.7zM2040.5 1880.5h1.7v21.84h-1.7zM1461.4 1902.3h1.7v21.84h-1.7zM1625.7 1902.3h1.7v21.84h-1.7zM1701.0 1902.3h1.7v21.84h-1.7zM1718.4 1902.3h1.7v21.84h-1.7zM1721.9 1902.3h1.7v21.84h-1.7zM1546.0 1924.2h1.7v21.84h-1.7zM1808.8 1924.2h1.7v21.84h-1.7zM1742.0 1946.0h3.4v21.84h-3.4zM1755.4 1946.0h3.4v21.84h-3.4zM2033.6 1946.0h1.7v21.84h-1.7zM1165.9 1967.9h1.7v21.84h-1.7zM1422.4 1967.9h1.7v21.84h-1.7zM1731.9 1967.9h1.7v21.84h-1.7zM1750.3 1967.9h1.7v21.84h-1.7zM1763.8 1967.9h1.7v21.84h-1.7zM1701.0 1989.7h1.7v21.84h-1.7zM1822.5 1989.7h1.7v21.84h-1.7zM1827.7 1989.7h3.4v21.84h-3.4zM1836.2 1989.7h1.7v21.84h-1.7zM1843.1 1989.7h1.7v21.84h-1.7zM1860.2 1989.7h1.7v21.84h-1.7zM2038.7 1989.7h1.7v21.84h-1.7zM1186.2 2011.5h3.4v21.84h-3.4zM1814.0 2011.5h1.7v21.84h-1.7zM1832.8 2011.5h1.7v21.84h-1.7zM1836.2 2011.5h1.7v21.84h-1.7zM1817.4 2033.4h1.7v21.84h-1.7zM1867.1 2033.4h1.7v21.84h-1.7zM1803.7 2077.1h1.7v21.84h-1.7zM2025.0 2077.1h3.4v21.84h-3.4zM2038.7 2077.1h1.7v21.84h-1.7zM1637.5 2098.9h1.7v21.84h-1.7zM1672.8 2098.9h1.7v21.84h-1.7zM1856.8 2098.9h1.7v21.84h-1.7zM1867.1 2098.9h1.7v21.84h-1.7zM1971.9 2098.9h1.7v21.84h-1.7zM2007.9 2098.9h3.4v21.84h-3.4zM1671.1 2120.8h1.7v21.84h-1.7zM1855.1 2120.8h3.4v21.84h-3.4zM1407.0 2142.6h1.7v21.84h-1.7zM1415.6 2142.6h3.4v21.84h-3.4zM1454.6 2142.6h1.7v21.84h-1.7zM1802.0 2142.6h1.7v21.84h-1.7zM1805.4 2142.6h3.4v21.84h-3.4zM1905.8 2142.6h3.4v21.84h-3.4zM1917.8 2142.6h1.7v21.84h-1.7zM1928.1 2142.6h1.7v21.84h-1.7zM1938.4 2142.6h3.4v21.84h-3.4zM1943.5 2142.6h1.7v21.84h-1.7zM1733.6 2186.3h1.7v21.84h-1.7zM1534.1 2208.1h1.7v21.84h-1.7zM2019.9 2230.0h1.7v21.84h-1.7z"/><path fill="#37659D" d="M1103.6 1137.9h1.7v21.84h-1.7zM1113.7 1137.9h1.7v21.84h-1.7zM1149.1 1137.9h3.4v21.84h-3.4zM1230.0 1137.9h1.7v21.84h-1.7zM1248.5 1137.9h3.4v21.84h-3.4zM1344.9 1137.9h1.7v21.84h-1.7zM1369.5 1137.9h3.4v21.84h-3.4zM1376.4 1137.9h1.7v21.84h-1.7zM1398.5 1137.9h1.7v21.84h-1.7zM1401.9 1137.9h1.7v21.84h-1.7zM1410.4 1137.9h1.7v21.84h-1.7zM2043.9 1137.9h1.7v21.84h-1.7zM1152.4 1159.7h1.7v21.84h-1.7zM1235.1 1159.7h1.7v21.84h-1.7zM1241.8 1159.7h3.4v21.84h-3.4zM1256.9 1159.7h1.7v21.84h-1.7zM1275.9 1159.7h1.7v21.84h-1.7zM1302.8 1159.7h1.7v21.84h-1.7zM1333.1 1159.7h3.4v21.84h-3.4zM1355.9 1159.7h3.4v21.84h-3.4zM1362.7 1159.7h1.7v21.84h-1.7zM1390.0 1159.7h3.4v21.84h-3.4zM1405.3 1159.7h1.7v21.84h-1.7zM1429.2 1159.7h1.7v21.84h-1.7zM1383.2 1181.6h1.7v21.84h-1.7zM1386.6 1181.6h1.7v21.84h-1.7zM1395.1 1181.6h1.7v21.84h-1.7zM1419.0 1181.6h5.1v21.84h-5.1zM1540.9 1181.6h1.7v21.84h-1.7zM1117.1 1203.4h3.4v21.84h-3.4zM1145.7 1203.4h1.7v21.84h-1.7zM1150.7 1203.4h1.7v21.84h-1.7zM1206.4 1203.4h1.7v21.84h-1.7zM1267.5 1203.4h1.7v21.84h-1.7zM1328.1 1203.4h1.7v21.84h-1.7zM1401.9 1203.4h1.7v21.84h-1.7zM1424.1 1203.4h1.7v21.84h-1.7zM1429.2 1203.4h1.7v21.84h-1.7zM1112.0 1225.3h3.4v21.84h-3.4zM1137.3 1225.3h1.7v21.84h-1.7zM1160.8 1225.3h5.0v21.84h-5.0zM1256.9 1225.3h1.7v21.84h-1.7zM1396.8 1225.3h1.7v21.84h-1.7zM1417.3 1225.3h1.7v21.84h-1.7zM1977.1 1225.3h1.7v21.84h-1.7zM1366.1 1247.1h1.7v21.84h-1.7zM1407.0 1247.1h1.7v21.84h-1.7zM1117.1 1268.9h1.7v21.84h-1.7zM1120.4 1268.9h1.7v21.84h-1.7zM1132.2 1268.9h1.7v21.84h-1.7zM1381.5 1268.9h1.7v21.84h-1.7zM1123.8 1290.8h1.7v21.84h-1.7zM1149.1 1290.8h1.7v21.84h-1.7zM1367.8 1290.8h1.7v21.84h-1.7zM1255.3 1312.6h1.7v21.84h-1.7zM1221.6 1334.5h3.4v21.84h-3.4zM1241.8 1334.5h1.7v21.84h-1.7zM1383.2 1356.3h1.7v21.84h-1.7zM1270.9 1378.2h3.4v21.84h-3.4zM1955.6 1378.2h1.7v21.84h-1.7zM1108.7 1400.0h1.7v21.84h-1.7zM1123.8 1400.0h5.0v21.84h-5.0zM1225.0 1400.0h5.0v21.84h-5.0zM1400.2 1400.0h1.7v21.84h-1.7zM1275.9 1421.8h3.4v21.84h-3.4zM1919.5 1421.8h1.7v21.84h-1.7zM1154.1 1443.7h1.7v21.84h-1.7zM1286.0 1443.7h1.7v21.84h-1.7zM1323.0 1443.7h1.7v21.84h-1.7zM1272.5 1465.5h1.7v21.84h-1.7zM1334.8 1465.5h1.7v21.84h-1.7zM1343.2 1465.5h1.7v21.84h-1.7zM1117.1 1487.4h1.7v21.84h-1.7zM1216.5 1487.4h1.7v21.84h-1.7zM1294.4 1487.4h1.7v21.84h-1.7zM1302.8 1487.4h3.4v21.84h-3.4zM1430.9 1487.4h1.7v21.84h-1.7zM1145.7 1509.2h1.7v21.84h-1.7zM1152.4 1509.2h1.7v21.84h-1.7zM1323.0 1509.2h1.7v21.84h-1.7zM1361.0 1509.2h1.7v21.84h-1.7zM1376.4 1509.2h1.7v21.84h-1.7zM1366.1 1531.0h1.7v21.84h-1.7zM1371.2 1531.0h1.7v21.84h-1.7zM1374.7 1531.0h1.7v21.84h-1.7zM1384.9 1531.0h3.4v21.84h-3.4zM1401.9 1531.0h1.7v21.84h-1.7zM1412.1 1531.0h1.7v21.84h-1.7zM1419.0 1531.0h1.7v21.84h-1.7zM1424.1 1531.0h1.7v21.84h-1.7zM1427.5 1531.0h1.7v21.84h-1.7zM1122.1 1552.9h1.7v21.84h-1.7zM1250.2 1552.9h3.4v21.84h-3.4zM1617.3 1552.9h1.7v21.84h-1.7zM1686.3 1552.9h1.7v21.84h-1.7zM1357.6 1574.7h1.7v21.84h-1.7zM1381.5 1574.7h1.7v21.84h-1.7zM1381.5 1596.6h1.7v21.84h-1.7zM1468.3 1596.6h1.7v21.84h-1.7zM1493.9 1596.6h3.4v21.84h-3.4zM1499.1 1596.6h1.7v21.84h-1.7zM1505.9 1596.6h1.7v21.84h-1.7zM1512.8 1596.6h1.7v21.84h-1.7zM1629.0 1596.6h3.4v21.84h-3.4zM1676.2 1596.6h1.7v21.84h-1.7zM1890.3 1596.6h1.7v21.84h-1.7zM1473.4 1618.4h1.7v21.84h-1.7zM1493.9 1618.4h1.7v21.84h-1.7zM1505.9 1618.4h1.7v21.84h-1.7zM1511.0 1618.4h1.7v21.84h-1.7zM1669.4 1618.4h1.7v21.84h-1.7zM1582.0 1640.2h1.7v21.84h-1.7zM1634.1 1640.2h1.7v21.84h-1.7zM1649.2 1640.2h1.7v21.84h-1.7zM1686.3 1640.2h1.7v21.84h-1.7zM1512.8 1662.1h1.7v21.84h-1.7zM1440.9 1683.9h1.7v21.84h-1.7zM1471.7 1683.9h3.4v21.84h-3.4zM1483.7 1683.9h1.7v21.84h-1.7zM1570.0 1705.8h1.7v21.84h-1.7zM1552.9 1727.6h1.7v21.84h-1.7zM1570.0 1727.6h1.7v21.84h-1.7zM1578.6 1727.6h1.7v21.84h-1.7zM1624.0 1749.5h1.7v21.84h-1.7zM1731.9 1749.5h1.7v21.84h-1.7zM1883.4 1749.5h1.7v21.84h-1.7zM1613.9 1771.3h5.0v21.84h-5.0zM1649.2 1771.3h1.7v21.84h-1.7zM1674.5 1771.3h1.7v21.84h-1.7zM1509.3 1793.1h1.7v21.84h-1.7zM1624.0 1793.1h1.7v21.84h-1.7zM1664.4 1793.1h1.7v21.84h-1.7zM1159.2 1815.0h1.7v21.84h-1.7zM1617.3 1815.0h6.7v21.84h-6.7zM1664.4 1815.0h1.7v21.84h-1.7zM1622.3 1836.8h1.7v21.84h-1.7zM1627.4 1836.8h1.7v21.84h-1.7zM1635.8 1836.8h1.7v21.84h-1.7zM1649.2 1836.8h1.7v21.84h-1.7zM1657.7 1836.8h1.7v21.84h-1.7zM1661.0 1836.8h1.7v21.84h-1.7zM1558.0 1858.7h1.7v21.84h-1.7zM2035.3 1880.5h1.7v21.84h-1.7zM1585.4 1902.3h1.7v21.84h-1.7zM1706.2 1902.3h1.7v21.84h-1.7zM1831.1 1902.3h1.7v21.84h-1.7zM1748.7 1924.2h1.7v21.84h-1.7zM1832.8 1924.2h1.7v21.84h-1.7zM1740.3 1946.0h1.7v21.84h-1.7zM1817.4 1989.7h1.7v21.84h-1.7zM1191.3 2011.5h1.7v21.84h-1.7zM1812.2 2011.5h1.7v21.84h-1.7zM1815.7 2011.5h3.4v21.84h-3.4zM1870.5 2011.5h1.7v21.84h-1.7zM1594.0 2033.4h1.7v21.84h-1.7zM1822.5 2033.4h1.7v21.84h-1.7zM1853.4 2033.4h1.7v21.84h-1.7zM1582.0 2077.1h1.7v21.84h-1.7zM1883.4 2077.1h3.4v21.84h-3.4zM1948.7 2077.1h1.7v21.84h-1.7zM1952.1 2077.1h1.7v21.84h-1.7zM2028.5 2077.1h3.4v21.84h-3.4zM1902.3 2098.9h1.7v21.84h-1.7zM1997.6 2098.9h1.7v21.84h-1.7zM1822.5 2120.8h1.7v21.84h-1.7zM1853.4 2120.8h1.7v21.84h-1.7zM1892.0 2120.8h3.4v21.84h-3.4zM1652.6 2142.6h3.4v21.84h-3.4zM1667.8 2142.6h1.7v21.84h-1.7zM1817.4 2142.6h1.7v21.84h-1.7zM1881.7 2142.6h1.7v21.84h-1.7zM1929.8 2142.6h1.7v21.84h-1.7zM1947.0 2142.6h1.7v21.84h-1.7zM1957.3 2142.6h1.7v21.84h-1.7zM1735.2 2186.3h1.7v21.84h-1.7zM1968.5 2186.3h1.7v21.84h-1.7zM2033.6 2186.3h1.7v21.84h-1.7zM1970.2 2208.1h1.7v21.84h-1.7zM2007.9 2208.1h3.4v21.84h-3.4zM2042.2 2208.1h3.4v21.84h-3.4zM1977.1 2230.0h1.7v21.84h-1.7zM1995.9 2230.0h3.4v21.84h-3.4zM2002.8 2230.0h1.7v21.84h-1.7zM2006.2 2230.0h3.4v21.84h-3.4z"/><path fill="#357AA2" d="M1122.1 1137.9h1.7v21.84h-1.7zM1132.2 1137.9h1.7v21.84h-1.7zM1155.8 1137.9h1.7v21.84h-1.7zM1164.2 1137.9h1.7v21.84h-1.7zM1167.6 1137.9h1.7v21.84h-1.7zM1170.9 1137.9h1.7v21.84h-1.7zM1196.3 1137.9h3.4v21.84h-3.4zM1253.6 1137.9h1.7v21.84h-1.7zM1270.9 1137.9h1.7v21.84h-1.7zM1279.3 1137.9h1.7v21.84h-1.7zM1324.7 1137.9h3.4v21.84h-3.4zM1334.8 1137.9h3.4v21.84h-3.4zM1367.8 1137.9h1.7v21.84h-1.7zM1388.3 1137.9h1.7v21.84h-1.7zM1430.9 1137.9h1.7v21.84h-1.7zM1108.7 1159.7h1.7v21.84h-1.7zM1112.0 1159.7h1.7v21.84h-1.7zM1169.3 1159.7h1.7v21.84h-1.7zM1172.6 1159.7h1.7v21.84h-1.7zM1181.2 1159.7h3.4v21.84h-3.4zM1240.1 1159.7h1.7v21.84h-1.7zM1245.2 1159.7h1.7v21.84h-1.7zM1316.3 1159.7h1.7v21.84h-1.7zM1366.1 1159.7h3.4v21.84h-3.4zM1378.1 1159.7h1.7v21.84h-1.7zM1400.2 1159.7h3.4v21.84h-3.4zM1133.9 1181.6h1.7v21.84h-1.7zM1228.3 1181.6h1.7v21.84h-1.7zM1316.3 1181.6h3.4v21.84h-3.4zM1357.6 1181.6h1.7v21.84h-1.7zM1367.8 1181.6h1.7v21.84h-1.7zM1133.9 1203.4h1.7v21.84h-1.7zM1144.0 1203.4h1.7v21.84h-1.7zM1164.2 1203.4h1.7v21.84h-1.7zM1219.9 1203.4h1.7v21.84h-1.7zM1256.9 1203.4h1.7v21.84h-1.7zM1361.0 1203.4h1.7v21.84h-1.7zM1374.7 1203.4h1.7v21.84h-1.7zM1388.3 1203.4h3.4v21.84h-3.4zM1395.1 1203.4h1.7v21.84h-1.7zM1132.2 1225.3h3.4v21.84h-3.4zM1204.8 1225.3h1.7v21.84h-1.7zM1267.5 1225.3h1.7v21.84h-1.7zM1165.9 1247.1h5.0v21.84h-5.0zM1408.7 1247.1h1.7v21.84h-1.7zM1128.9 1268.9h3.4v21.84h-3.4zM1139.0 1268.9h3.4v21.84h-3.4zM1379.8 1268.9h1.7v21.84h-1.7zM1971.9 1268.9h3.4v21.84h-3.4zM1169.3 1290.8h1.7v21.84h-1.7zM1275.9 1290.8h1.7v21.84h-1.7zM1253.6 1334.5h1.7v21.84h-1.7zM1214.9 1356.3h1.7v21.84h-1.7zM1289.4 1378.2h3.4v21.84h-3.4zM1201.4 1400.0h3.4v21.84h-3.4zM1211.5 1400.0h1.7v21.84h-1.7zM1362.7 1400.0h1.7v21.84h-1.7zM1398.5 1400.0h1.7v21.84h-1.7zM1324.7 1421.8h1.7v21.84h-1.7zM1155.8 1443.7h3.4v21.84h-3.4zM1275.9 1443.7h1.7v21.84h-1.7zM1282.6 1443.7h1.7v21.84h-1.7zM1299.5 1443.7h1.7v21.84h-1.7zM1309.6 1443.7h1.7v21.84h-1.7zM1196.3 1487.4h1.7v21.84h-1.7zM1199.7 1487.4h1.7v21.84h-1.7zM1248.5 1487.4h1.7v21.84h-1.7zM1334.8 1487.4h1.7v21.84h-1.7zM1112.0 1509.2h1.7v21.84h-1.7zM1277.6 1509.2h1.7v21.84h-1.7zM1319.7 1509.2h1.7v21.84h-1.7zM1367.8 1509.2h1.7v21.84h-1.7zM1391.7 1509.2h1.7v21.84h-1.7zM1417.3 1509.2h1.7v21.84h-1.7zM1420.7 1509.2h1.7v21.84h-1.7zM1369.5 1531.0h1.7v21.84h-1.7zM1391.7 1531.0h1.7v21.84h-1.7zM1359.3 1552.9h3.4v21.84h-3.4zM1386.6 1574.7h1.7v21.84h-1.7zM1390.0 1574.7h1.7v21.84h-1.7zM1401.9 1574.7h1.7v21.84h-1.7zM1408.7 1574.7h1.7v21.84h-1.7zM1420.7 1574.7h5.1v21.84h-5.1zM1429.2 1574.7h1.7v21.84h-1.7zM1483.7 1596.6h1.7v21.84h-1.7zM1492.2 1596.6h1.7v21.84h-1.7zM1625.7 1596.6h1.7v21.84h-1.7zM1470.0 1618.4h3.4v21.84h-3.4zM1495.6 1618.4h1.7v21.84h-1.7zM1516.2 1618.4h3.4v21.84h-3.4zM1507.6 1640.2h3.4v21.84h-3.4zM1627.4 1640.2h1.7v21.84h-1.7zM1630.7 1640.2h1.7v21.84h-1.7zM1664.4 1640.2h3.4v21.84h-3.4zM1452.9 1662.1h1.7v21.84h-1.7zM1482.0 1662.1h1.7v21.84h-1.7zM1499.1 1662.1h1.7v21.84h-1.7zM1505.9 1662.1h3.4v21.84h-3.4zM1546.0 1662.1h3.4v21.84h-3.4zM1466.6 1683.9h1.7v21.84h-1.7zM1475.1 1683.9h1.7v21.84h-1.7zM1500.8 1683.9h1.7v21.84h-1.7zM1514.5 1683.9h1.7v21.84h-1.7zM1718.4 1683.9h1.7v21.84h-1.7zM1530.6 1705.8h3.4v21.84h-3.4zM1542.6 1705.8h1.7v21.84h-1.7zM1566.6 1727.6h3.4v21.84h-3.4zM1573.5 1727.6h1.7v21.84h-1.7zM1582.0 1727.6h3.4v21.84h-3.4zM1600.9 1727.6h1.7v21.84h-1.7zM1730.2 1749.5h1.7v21.84h-1.7zM1740.3 1749.5h1.7v21.84h-1.7zM1750.3 1749.5h3.4v21.84h-3.4zM1755.4 1749.5h1.7v21.84h-1.7zM1758.7 1749.5h5.0v21.84h-5.0zM1632.4 1771.3h3.4v21.84h-3.4zM1622.3 1793.1h1.7v21.84h-1.7zM1652.6 1793.1h1.7v21.84h-1.7zM1691.3 1793.1h1.7v21.84h-1.7zM1615.6 1815.0h1.7v21.84h-1.7zM1635.8 1815.0h1.7v21.84h-1.7zM1666.1 1815.0h1.7v21.84h-1.7zM1629.0 1836.8h1.7v21.84h-1.7zM1659.3 1836.8h1.7v21.84h-1.7zM1662.7 1836.8h1.7v21.84h-1.7zM1677.9 1836.8h1.7v21.84h-1.7zM1681.2 1836.8h1.7v21.84h-1.7zM1684.6 1836.8h3.4v21.84h-3.4zM1704.5 1880.5h3.5v21.84h-3.5zM1856.8 1880.5h3.4v21.84h-3.4zM1880.0 1902.3h3.4v21.84h-3.4zM1730.2 1924.2h1.7v21.84h-1.7zM1755.4 1924.2h1.7v21.84h-1.7zM1752.0 1946.0h1.7v21.84h-1.7zM1763.8 1946.0h3.4v21.84h-3.4zM1783.9 1946.0h1.7v21.84h-1.7zM1430.9 1967.9h1.7v21.84h-1.7zM1730.2 1967.9h1.7v21.84h-1.7zM1742.0 1967.9h5.0v21.84h-5.0zM1752.0 1967.9h1.7v21.84h-1.7zM1757.1 1967.9h1.7v21.84h-1.7zM1778.9 1967.9h1.7v21.84h-1.7zM1802.0 1989.7h1.7v21.84h-1.7zM1814.0 1989.7h3.4v21.84h-3.4zM1231.7 2011.5h1.7v21.84h-1.7zM1843.1 2011.5h1.7v21.84h-1.7zM1846.5 2011.5h1.7v21.84h-1.7zM1860.2 2011.5h1.7v21.84h-1.7zM1795.1 2033.4h1.7v21.84h-1.7zM1803.7 2033.4h1.7v21.84h-1.7zM1841.4 2033.4h1.7v21.84h-1.7zM1851.6 2055.2h3.4v21.84h-3.4zM1189.6 2077.1h1.7v21.84h-1.7zM1886.9 2077.1h1.7v21.84h-1.7zM1916.1 2077.1h3.4v21.84h-3.4zM1922.9 2077.1h5.2v21.84h-5.2zM1953.8 2077.1h1.7v21.84h-1.7zM2040.5 2077.1h1.7v21.84h-1.7zM1824.2 2098.9h1.7v21.84h-1.7zM1898.9 2098.9h1.7v21.84h-1.7zM1907.5 2098.9h3.4v21.84h-3.4zM1970.2 2098.9h1.7v21.84h-1.7zM2037.0 2098.9h1.7v21.84h-1.7zM1880.0 2120.8h1.7v21.84h-1.7zM1900.6 2120.8h1.7v21.84h-1.7zM1953.8 2120.8h1.7v21.84h-1.7zM1885.2 2142.6h1.7v21.84h-1.7zM1936.7 2142.6h1.7v21.84h-1.7zM1950.4 2142.6h3.4v21.84h-3.4zM1977.1 2164.4h1.7v21.84h-1.7zM2004.5 2164.4h3.4v21.84h-3.4zM2021.6 2164.4h3.4v21.84h-3.4zM2031.9 2164.4h1.7v21.84h-1.7zM2043.9 2164.4h1.7v21.84h-1.7zM1977.1 2186.3h1.7v21.84h-1.7zM1989.1 2186.3h3.4v21.84h-3.4zM1995.9 2186.3h1.7v21.84h-1.7zM2021.6 2186.3h1.7v21.84h-1.7zM2025.0 2186.3h3.4v21.84h-3.4zM1983.9 2208.1h1.7v21.84h-1.7zM2018.2 2208.1h1.7v21.84h-1.7zM2028.5 2208.1h1.7v21.84h-1.7zM1973.7 2230.0h3.4v21.84h-3.4zM1982.2 2230.0h1.7v21.84h-1.7zM1985.6 2230.0h6.9v21.84h-6.9zM2014.8 2230.0h3.4v21.84h-3.4z"/><path fill="#358FA7" d="M1117.1 1137.9h1.7v21.84h-1.7zM1139.0 1137.9h3.4v21.84h-3.4zM1162.5 1137.9h1.7v21.84h-1.7zM1218.2 1137.9h1.7v21.84h-1.7zM1225.0 1137.9h1.7v21.84h-1.7zM1238.4 1137.9h1.7v21.84h-1.7zM1256.9 1137.9h3.4v21.84h-3.4zM1275.9 1137.9h1.7v21.84h-1.7zM1299.5 1137.9h1.7v21.84h-1.7zM1302.8 1137.9h1.7v21.84h-1.7zM1381.5 1137.9h5.1v21.84h-5.1zM1427.5 1137.9h3.4v21.84h-3.4zM1098.6 1159.7h1.7v21.84h-1.7zM1103.6 1159.7h1.7v21.84h-1.7zM1128.9 1159.7h3.4v21.84h-3.4zM1140.6 1159.7h8.4v21.84h-8.4zM1155.8 1159.7h1.7v21.84h-1.7zM1193.0 1159.7h1.7v21.84h-1.7zM1226.6 1159.7h1.7v21.84h-1.7zM1236.7 1159.7h1.7v21.84h-1.7zM1253.6 1159.7h1.7v21.84h-1.7zM1269.2 1159.7h1.7v21.84h-1.7zM1306.2 1159.7h1.7v21.84h-1.7zM1341.6 1159.7h1.7v21.84h-1.7zM1384.9 1159.7h1.7v21.84h-1.7zM1425.8 1159.7h1.7v21.84h-1.7zM1110.3 1181.6h1.7v21.84h-1.7zM1160.8 1181.6h1.7v21.84h-1.7zM1219.9 1181.6h3.4v21.84h-3.4zM1238.4 1181.6h1.7v21.84h-1.7zM1256.9 1181.6h1.7v21.84h-1.7zM1299.5 1181.6h1.7v21.84h-1.7zM1341.6 1181.6h3.4v21.84h-3.4zM1388.3 1181.6h1.7v21.84h-1.7zM1427.5 1181.6h1.7v21.84h-1.7zM1130.5 1203.4h1.7v21.84h-1.7zM1167.6 1203.4h3.4v21.84h-3.4zM1184.6 1203.4h1.7v21.84h-1.7zM1231.7 1203.4h3.4v21.84h-3.4zM1354.2 1203.4h1.7v21.84h-1.7zM1359.3 1203.4h1.7v21.84h-1.7zM1386.6 1203.4h1.7v21.84h-1.7zM1115.4 1225.3h1.7v21.84h-1.7zM1150.7 1225.3h1.7v21.84h-1.7zM1154.1 1225.3h1.7v21.84h-1.7zM1172.6 1225.3h1.7v21.84h-1.7zM1199.7 1225.3h1.7v21.84h-1.7zM1101.9 1247.1h1.7v21.84h-1.7zM1160.8 1268.9h1.7v21.84h-1.7zM1164.2 1268.9h1.7v21.84h-1.7zM1112.0 1290.8h1.7v21.84h-1.7zM1201.4 1334.5h1.7v21.84h-1.7zM1256.9 1334.5h1.7v21.84h-1.7zM1204.8 1356.3h1.7v21.84h-1.7zM1213.2 1356.3h1.7v21.84h-1.7zM1248.5 1356.3h3.4v21.84h-3.4zM1133.9 1400.0h1.7v21.84h-1.7zM1186.2 1400.0h1.7v21.84h-1.7zM1218.2 1400.0h1.7v21.84h-1.7zM1379.8 1400.0h1.7v21.84h-1.7zM1274.2 1443.7h1.7v21.84h-1.7zM1304.5 1443.7h1.7v21.84h-1.7zM1281.0 1487.4h1.7v21.84h-1.7zM1395.1 1509.2h3.4v21.84h-3.4zM1405.3 1509.2h6.8v21.84h-6.8zM1422.4 1509.2h3.4v21.84h-3.4zM1429.2 1509.2h1.7v21.84h-1.7zM1395.1 1531.0h1.7v21.84h-1.7zM1407.0 1531.0h1.7v21.84h-1.7zM1417.3 1531.0h1.7v21.84h-1.7zM1357.6 1552.9h1.7v21.84h-1.7zM1403.6 1552.9h1.7v21.84h-1.7zM1410.4 1552.9h1.7v21.84h-1.7zM1487.1 1596.6h1.7v21.84h-1.7zM1490.5 1596.6h1.7v21.84h-1.7zM1507.6 1596.6h1.7v21.84h-1.7zM1640.8 1596.6h3.4v21.84h-3.4zM1649.2 1596.6h3.4v21.84h-3.4zM1449.5 1618.4h1.7v21.84h-1.7zM1458.0 1618.4h1.7v21.84h-1.7zM1468.3 1618.4h1.7v21.84h-1.7zM1502.5 1618.4h3.4v21.84h-3.4zM1507.6 1618.4h3.4v21.84h-3.4zM1440.9 1640.2h1.7v21.84h-1.7zM1487.1 1640.2h1.7v21.84h-1.7zM1502.5 1640.2h1.7v21.84h-1.7zM1622.3 1640.2h1.7v21.84h-1.7zM1642.5 1640.2h3.4v21.84h-3.4zM1659.3 1640.2h3.4v21.84h-3.4zM1667.8 1640.2h1.7v21.84h-1.7zM1676.2 1640.2h1.7v21.84h-1.7zM1449.5 1662.1h3.4v21.84h-3.4zM1504.2 1662.1h1.7v21.84h-1.7zM1451.2 1683.9h1.7v21.84h-1.7zM1485.4 1683.9h3.4v21.84h-3.4zM1490.5 1683.9h1.7v21.84h-1.7zM1497.4 1683.9h1.7v21.84h-1.7zM1537.5 1705.8h5.1v21.84h-5.1zM1566.6 1705.8h1.7v21.84h-1.7zM1594.0 1705.8h3.4v21.84h-3.4zM1604.3 1705.8h1.7v21.84h-1.7zM1528.9 1727.6h1.7v21.84h-1.7zM1532.3 1727.6h1.7v21.84h-1.7zM1540.9 1727.6h1.7v21.84h-1.7zM1588.9 1727.6h1.7v21.84h-1.7zM1571.7 1749.5h1.7v21.84h-1.7zM1587.2 1749.5h1.7v21.84h-1.7zM1736.9 1749.5h3.4v21.84h-3.4zM1742.0 1749.5h1.7v21.84h-1.7zM1745.3 1749.5h1.7v21.84h-1.7zM1765.5 1749.5h1.7v21.84h-1.7zM1770.5 1749.5h1.7v21.84h-1.7zM1780.6 1749.5h1.7v21.84h-1.7zM1618.9 1771.3h1.7v21.84h-1.7zM1629.0 1771.3h3.4v21.84h-3.4zM1615.6 1793.1h1.7v21.84h-1.7zM1679.5 1793.1h1.7v21.84h-1.7zM1688.0 1793.1h1.7v21.84h-1.7zM1625.7 1815.0h1.7v21.84h-1.7zM1686.3 1815.0h3.4v21.84h-3.4zM1624.0 1836.8h1.7v21.84h-1.7zM1634.1 1836.8h1.7v21.84h-1.7zM1704.5 1858.7h3.5v21.84h-3.5zM1720.1 1902.3h1.7v21.84h-1.7zM1762.1 1924.2h3.4v21.84h-3.4zM1768.8 1924.2h1.7v21.84h-1.7zM1760.4 1946.0h3.4v21.84h-3.4zM1770.5 1946.0h3.4v21.84h-3.4zM1740.3 1967.9h1.7v21.84h-1.7zM1747.0 1967.9h1.7v21.84h-1.7zM1775.5 1967.9h1.7v21.84h-1.7zM1780.6 1967.9h1.7v21.84h-1.7zM1783.9 1967.9h1.7v21.84h-1.7zM1795.1 1989.7h3.4v21.84h-3.4zM1808.8 1989.7h1.7v21.84h-1.7zM1831.1 1989.7h1.7v21.84h-1.7zM1844.8 1989.7h3.4v21.84h-3.4zM1867.1 1989.7h1.7v21.84h-1.7zM1820.8 2011.5h5.1v21.84h-5.1zM1805.4 2033.4h1.7v21.84h-1.7zM1810.5 2033.4h1.7v21.84h-1.7zM1829.4 2033.4h1.7v21.84h-1.7zM1848.2 2033.4h1.7v21.84h-1.7zM1868.8 2033.4h1.7v21.84h-1.7zM1807.1 2055.2h1.7v21.84h-1.7zM1817.4 2055.2h3.4v21.84h-3.4zM1843.1 2055.2h3.4v21.84h-3.4zM1893.7 2077.1h3.4v21.84h-3.4zM1898.9 2077.1h1.7v21.84h-1.7zM1902.3 2077.1h3.4v21.84h-3.4zM1931.5 2077.1h1.7v21.84h-1.7zM1892.0 2098.9h1.7v21.84h-1.7zM1897.2 2098.9h1.7v21.84h-1.7zM1910.9 2098.9h1.7v21.84h-1.7zM1926.4 2098.9h1.7v21.84h-1.7zM1994.2 2098.9h3.4v21.84h-3.4zM2016.5 2098.9h1.7v21.84h-1.7zM1883.4 2120.8h1.7v21.84h-1.7zM1888.6 2120.8h1.7v21.84h-1.7zM1921.2 2120.8h3.4v21.84h-3.4zM1943.5 2120.8h1.7v21.84h-1.7zM1892.0 2142.6h1.7v21.84h-1.7zM1916.1 2142.6h1.7v21.84h-1.7zM1941.8 2142.6h1.7v21.84h-1.7zM1971.9 2164.4h1.7v21.84h-1.7zM1978.8 2164.4h3.4v21.84h-3.4zM1994.2 2164.4h3.4v21.84h-3.4zM2018.2 2164.4h3.4v21.84h-3.4zM2033.6 2164.4h3.4v21.84h-3.4zM1997.6 2186.3h1.7v21.84h-1.7zM2014.8 2186.3h1.7v21.84h-1.7zM2035.3 2186.3h3.4v21.84h-3.4zM1973.7 2208.1h1.7v21.84h-1.7zM1982.2 2208.1h1.7v21.84h-1.7zM1992.5 2208.1h1.7v21.84h-1.7zM2004.5 2208.1h1.7v21.84h-1.7zM2021.6 2208.1h1.7v21.84h-1.7zM2038.7 2208.1h1.7v21.84h-1.7zM1966.8 2230.0h3.4v21.84h-3.4zM1971.9 2230.0h1.7v21.84h-1.7zM1983.9 2230.0h1.7v21.84h-1.7zM2001.1 2230.0h1.7v21.84h-1.7zM2023.3 2230.0h1.7v21.84h-1.7z"/><path fill="#37A3AB" d="M1098.6 1137.9h3.4v21.84h-3.4zM1127.2 1137.9h3.4v21.84h-3.4zM1154.1 1137.9h1.7v21.84h-1.7zM1172.6 1137.9h1.7v21.84h-1.7zM1184.6 1137.9h1.7v21.84h-1.7zM1201.4 1137.9h1.7v21.84h-1.7zM1206.4 1137.9h1.7v21.84h-1.7zM1216.5 1137.9h1.7v21.84h-1.7zM1233.4 1137.9h1.7v21.84h-1.7zM1241.8 1137.9h3.4v21.84h-3.4zM1291.1 1137.9h3.4v21.84h-3.4zM1296.1 1137.9h3.4v21.84h-3.4zM1306.2 1137.9h1.7v21.84h-1.7zM1328.1 1137.9h1.7v21.84h-1.7zM1338.2 1137.9h1.7v21.84h-1.7zM1366.1 1137.9h1.7v21.84h-1.7zM1115.4 1159.7h3.4v21.84h-3.4zM1123.8 1159.7h3.4v21.84h-3.4zM1159.2 1159.7h3.4v21.84h-3.4zM1184.6 1159.7h1.7v21.84h-1.7zM1189.6 1159.7h1.7v21.84h-1.7zM1218.2 1159.7h1.7v21.84h-1.7zM1248.5 1159.7h3.4v21.84h-3.4zM1258.6 1159.7h1.7v21.84h-1.7zM1267.5 1159.7h1.7v21.84h-1.7zM1270.9 1159.7h3.4v21.84h-3.4zM1294.4 1159.7h3.4v21.84h-3.4zM1374.7 1159.7h1.7v21.84h-1.7zM1395.1 1159.7h3.4v21.84h-3.4zM1408.7 1159.7h3.4v21.84h-3.4zM1415.6 1159.7h3.4v21.84h-3.4zM1181.2 1181.6h1.7v21.84h-1.7zM1184.6 1181.6h1.7v21.84h-1.7zM1216.5 1181.6h1.7v21.84h-1.7zM1231.7 1181.6h1.7v21.84h-1.7zM1240.1 1181.6h1.7v21.84h-1.7zM1287.7 1181.6h1.7v21.84h-1.7zM1329.8 1181.6h1.7v21.84h-1.7zM1333.1 1181.6h5.0v21.84h-5.0zM1379.8 1181.6h1.7v21.84h-1.7zM1417.3 1181.6h1.7v21.84h-1.7zM1101.9 1203.4h3.4v21.84h-3.4zM1120.4 1203.4h3.4v21.84h-3.4zM1165.9 1203.4h1.7v21.84h-1.7zM1170.9 1203.4h1.7v21.84h-1.7zM1201.4 1203.4h3.4v21.84h-3.4zM1218.2 1203.4h1.7v21.84h-1.7zM1225.0 1203.4h1.7v21.84h-1.7zM1255.3 1203.4h1.7v21.84h-1.7zM1369.5 1203.4h1.7v21.84h-1.7zM1095.2 1225.3h1.7v21.84h-1.7zM1098.6 1225.3h3.4v21.84h-3.4zM1117.1 1225.3h5.0v21.84h-5.0zM1130.5 1225.3h1.7v21.84h-1.7zM1135.6 1225.3h1.7v21.84h-1.7zM1145.7 1225.3h1.7v21.84h-1.7zM1169.3 1225.3h1.7v21.84h-1.7zM1395.1 1225.3h1.7v21.84h-1.7zM1144.0 1268.9h1.7v21.84h-1.7zM1383.2 1268.9h3.4v21.84h-3.4zM1140.6 1290.8h1.7v21.84h-1.7zM1155.8 1290.8h3.4v21.84h-3.4zM1196.3 1312.6h3.4v21.84h-3.4zM1256.9 1312.6h3.4v21.84h-3.4zM1209.8 1334.5h1.7v21.84h-1.7zM1213.2 1334.5h1.7v21.84h-1.7zM1194.7 1356.3h1.7v21.84h-1.7zM1221.6 1356.3h1.7v21.84h-1.7zM1233.4 1356.3h1.7v21.84h-1.7zM1238.4 1356.3h1.7v21.84h-1.7zM1128.9 1378.2h1.7v21.84h-1.7zM1203.1 1378.2h1.7v21.84h-1.7zM1241.8 1400.0h1.7v21.84h-1.7zM1245.2 1400.0h1.7v21.84h-1.7zM1376.4 1400.0h3.4v21.84h-3.4zM1390.0 1400.0h1.7v21.84h-1.7zM1427.5 1400.0h1.7v21.84h-1.7zM1269.2 1443.7h1.7v21.84h-1.7zM1277.6 1443.7h1.7v21.84h-1.7zM2013.1 1443.7h1.7v21.84h-1.7zM1306.2 1465.5h1.7v21.84h-1.7zM1309.6 1465.5h1.7v21.84h-1.7zM1318.0 1465.5h1.7v21.84h-1.7zM1324.7 1465.5h1.7v21.84h-1.7zM1331.5 1465.5h3.4v21.84h-3.4zM1336.5 1465.5h1.7v21.84h-1.7zM1105.3 1487.4h3.4v21.84h-3.4zM1272.5 1487.4h3.4v21.84h-3.4zM1292.7 1487.4h1.7v21.84h-1.7zM1296.1 1487.4h3.4v21.84h-3.4zM1311.3 1487.4h1.7v21.84h-1.7zM1333.1 1487.4h1.7v21.84h-1.7zM1343.2 1487.4h1.7v21.84h-1.7zM1364.4 1509.2h3.4v21.84h-3.4zM1398.5 1509.2h5.1v21.84h-5.1zM1412.1 1509.2h3.4v21.84h-3.4zM1430.9 1509.2h1.7v21.84h-1.7zM1376.4 1531.0h3.4v21.84h-3.4zM1410.4 1531.0h1.7v21.84h-1.7zM1425.8 1531.0h1.7v21.84h-1.7zM1199.7 1552.9h1.7v21.84h-1.7zM1374.7 1552.9h1.7v21.84h-1.7zM1386.6 1552.9h3.4v21.84h-3.4zM1391.7 1552.9h1.7v21.84h-1.7zM1398.5 1552.9h3.4v21.84h-3.4zM1405.3 1552.9h1.7v21.84h-1.7zM1415.6 1552.9h1.7v21.84h-1.7zM1413.9 1574.7h3.4v21.84h-3.4zM1454.6 1596.6h1.7v21.84h-1.7zM1458.0 1596.6h1.7v21.84h-1.7zM1473.4 1596.6h1.7v21.84h-1.7zM1500.8 1596.6h1.7v21.84h-1.7zM1652.6 1596.6h1.7v21.84h-1.7zM1468.3 1640.2h3.4v21.84h-3.4zM1480.2 1640.2h1.7v21.84h-1.7zM1485.4 1640.2h1.7v21.84h-1.7zM1492.2 1640.2h1.7v21.84h-1.7zM1495.6 1640.2h3.4v21.84h-3.4zM1517.9 1640.2h1.7v21.84h-1.7zM1635.8 1640.2h5.0v21.84h-5.0zM1652.6 1640.2h1.7v21.84h-1.7zM1671.1 1640.2h1.7v21.84h-1.7zM1677.9 1640.2h1.7v21.84h-1.7zM1691.3 1640.2h1.7v21.84h-1.7zM1446.0 1662.1h1.7v21.84h-1.7zM1483.7 1662.1h1.7v21.84h-1.7zM1516.2 1662.1h1.7v21.84h-1.7zM1452.9 1683.9h3.4v21.84h-3.4zM1463.1 1683.9h1.7v21.84h-1.7zM1492.2 1683.9h3.4v21.84h-3.4zM1502.5 1683.9h3.4v21.84h-3.4zM1511.0 1683.9h1.7v21.84h-1.7zM1516.2 1683.9h3.4v21.84h-3.4zM1527.2 1705.8h1.7v21.84h-1.7zM1534.1 1705.8h1.7v21.84h-1.7zM1552.9 1705.8h1.7v21.84h-1.7zM1578.6 1705.8h1.7v21.84h-1.7zM1582.0 1705.8h6.9v21.84h-6.9zM1539.2 1727.6h1.7v21.84h-1.7zM1542.6 1727.6h3.4v21.84h-3.4zM1547.8 1727.6h1.7v21.84h-1.7zM1592.3 1727.6h1.7v21.84h-1.7zM1532.3 1749.5h3.4v21.84h-3.4zM1537.5 1749.5h5.1v21.84h-5.1zM1544.3 1749.5h1.7v21.84h-1.7zM1556.3 1749.5h1.7v21.84h-1.7zM1563.2 1749.5h1.7v21.84h-1.7zM1595.7 1749.5h1.7v21.84h-1.7zM1625.7 1749.5h1.7v21.84h-1.7zM1778.9 1749.5h1.7v21.84h-1.7zM1782.2 1749.5h1.7v21.84h-1.7zM1637.5 1771.3h1.7v21.84h-1.7zM1647.6 1771.3h1.7v21.84h-1.7zM1667.8 1771.3h1.7v21.84h-1.7zM1672.8 1771.3h1.7v21.84h-1.7zM1679.5 1771.3h3.4v21.84h-3.4zM1630.7 1793.1h1.7v21.84h-1.7zM1662.7 1793.1h1.7v21.84h-1.7zM1630.7 1815.0h1.7v21.84h-1.7zM1676.2 1815.0h1.7v21.84h-1.7zM1647.6 1836.8h1.7v21.84h-1.7zM1667.8 1836.8h5.0v21.84h-5.0zM1679.5 1836.8h1.7v21.84h-1.7zM1714.9 1858.7h3.5v21.84h-3.5zM1627.4 1902.3h3.4v21.84h-3.4zM1738.6 1924.2h1.7v21.84h-1.7zM1742.0 1924.2h3.4v21.84h-3.4zM1752.0 1924.2h1.7v21.84h-1.7zM1767.1 1924.2h1.7v21.84h-1.7zM1748.7 1946.0h1.7v21.84h-1.7zM1773.8 1946.0h1.7v21.84h-1.7zM1778.9 1946.0h1.7v21.84h-1.7zM1803.7 1989.7h1.7v21.84h-1.7zM1824.2 1989.7h1.7v21.84h-1.7zM1837.9 1989.7h1.7v21.84h-1.7zM1851.6 1989.7h6.9v21.84h-6.9zM1863.6 1989.7h1.7v21.84h-1.7zM1829.4 2011.5h1.7v21.84h-1.7zM1853.4 2011.5h1.7v21.84h-1.7zM1819.1 2033.4h3.4v21.84h-3.4zM1855.1 2033.4h3.4v21.84h-3.4zM1861.9 2033.4h1.7v21.84h-1.7zM1841.4 2055.2h1.7v21.84h-1.7zM1880.0 2077.1h1.7v21.84h-1.7zM1935.0 2077.1h3.4v21.84h-3.4zM1941.8 2077.1h3.4v21.84h-3.4zM1885.2 2098.9h1.7v21.84h-1.7zM1904.0 2098.9h3.4v21.84h-3.4zM1914.3 2098.9h3.4v21.84h-3.4zM1919.5 2098.9h3.4v21.84h-3.4zM1973.7 2098.9h3.4v21.84h-3.4zM2011.3 2098.9h1.7v21.84h-1.7zM1904.0 2120.8h1.7v21.84h-1.7zM1907.5 2120.8h1.7v21.84h-1.7zM1926.4 2120.8h1.7v21.84h-1.7zM1936.7 2120.8h1.7v21.84h-1.7zM1940.1 2120.8h1.7v21.84h-1.7zM1909.2 2142.6h3.4v21.84h-3.4zM1945.3 2142.6h1.7v21.84h-1.7zM1968.5 2164.4h3.4v21.84h-3.4zM1982.2 2164.4h1.7v21.84h-1.7zM1985.6 2164.4h3.4v21.84h-3.4zM1990.8 2164.4h3.4v21.84h-3.4zM2001.1 2164.4h3.4v21.84h-3.4zM2009.6 2164.4h1.7v21.84h-1.7zM2025.0 2164.4h3.4v21.84h-3.4zM2028.5 2186.3h1.7v21.84h-1.7zM2040.5 2186.3h3.4v21.84h-3.4zM2025.0 2208.1h3.4v21.84h-3.4zM1980.5 2230.0h1.7v21.84h-1.7z"/><path fill="#44B7AC" d="M1101.9 1137.9h1.7v21.84h-1.7zM1105.3 1137.9h3.4v21.84h-3.4zM1135.6 1137.9h1.7v21.84h-1.7zM1186.2 1137.9h5.0v21.84h-5.0zM1213.2 1137.9h3.4v21.84h-3.4zM1221.6 1137.9h3.4v21.84h-3.4zM1226.6 1137.9h1.7v21.84h-1.7zM1269.2 1137.9h1.7v21.84h-1.7zM1282.6 1137.9h3.4v21.84h-3.4zM1355.9 1137.9h3.4v21.84h-3.4zM1396.8 1137.9h1.7v21.84h-1.7zM1419.0 1137.9h1.7v21.84h-1.7zM1570.0 1137.9h1.7v21.84h-1.7zM1682.9 1137.9h3.4v21.84h-3.4zM1135.6 1159.7h1.7v21.84h-1.7zM1165.9 1159.7h1.7v21.84h-1.7zM1196.3 1159.7h3.4v21.84h-3.4zM1216.5 1159.7h1.7v21.84h-1.7zM1277.6 1159.7h1.7v21.84h-1.7zM1297.8 1159.7h5.0v21.84h-5.0zM1336.5 1159.7h1.7v21.84h-1.7zM1379.8 1159.7h1.7v21.84h-1.7zM1386.6 1159.7h3.4v21.84h-3.4zM1420.7 1159.7h3.4v21.84h-3.4zM1095.2 1181.6h1.7v21.84h-1.7zM1105.3 1181.6h3.4v21.84h-3.4zM1137.3 1181.6h1.7v21.84h-1.7zM1144.0 1181.6h3.4v21.84h-3.4zM1235.1 1181.6h3.4v21.84h-3.4zM1253.6 1181.6h3.4v21.84h-3.4zM1282.6 1181.6h1.7v21.84h-1.7zM1312.9 1181.6h3.4v21.84h-3.4zM1324.7 1181.6h3.4v21.84h-3.4zM1405.3 1181.6h1.7v21.84h-1.7zM1408.7 1181.6h3.4v21.84h-3.4zM1425.8 1181.6h1.7v21.84h-1.7zM1977.1 1181.6h1.7v21.84h-1.7zM1132.2 1203.4h1.7v21.84h-1.7zM1152.4 1203.4h1.7v21.84h-1.7zM1211.5 1203.4h1.7v21.84h-1.7zM1216.5 1203.4h1.7v21.84h-1.7zM1221.6 1203.4h1.7v21.84h-1.7zM1301.2 1203.4h1.7v21.84h-1.7zM1321.4 1203.4h1.7v21.84h-1.7zM1376.4 1203.4h3.4v21.84h-3.4zM1139.0 1225.3h1.7v21.84h-1.7zM1182.9 1225.3h1.7v21.84h-1.7zM1376.4 1225.3h1.7v21.84h-1.7zM1103.6 1268.9h1.7v21.84h-1.7zM1429.2 1268.9h3.4v21.84h-3.4zM1150.7 1290.8h5.0v21.84h-5.0zM1193.0 1312.6h3.4v21.84h-3.4zM1255.3 1334.5h1.7v21.84h-1.7zM1225.0 1356.3h1.7v21.84h-1.7zM1251.9 1356.3h3.4v21.84h-3.4zM1425.8 1378.2h1.7v21.84h-1.7zM1169.3 1400.0h5.0v21.84h-5.0zM1191.3 1400.0h1.7v21.84h-1.7zM1194.7 1400.0h1.7v21.84h-1.7zM1233.4 1400.0h3.4v21.84h-3.4zM1354.2 1400.0h1.7v21.84h-1.7zM1364.4 1400.0h1.7v21.84h-1.7zM1374.7 1400.0h1.7v21.84h-1.7zM1145.7 1421.8h1.7v21.84h-1.7zM1292.7 1421.8h1.7v21.84h-1.7zM1312.9 1421.8h1.7v21.84h-1.7zM1333.1 1421.8h5.0v21.84h-5.0zM1909.2 1421.8h3.4v21.84h-3.4zM1296.1 1443.7h3.4v21.84h-3.4zM1341.6 1443.7h3.4v21.84h-3.4zM1301.2 1465.5h1.7v21.84h-1.7zM1321.4 1465.5h3.4v21.84h-3.4zM1338.2 1465.5h1.7v21.84h-1.7zM1282.6 1487.4h3.4v21.84h-3.4zM1306.2 1487.4h1.7v21.84h-1.7zM1318.0 1487.4h1.7v21.84h-1.7zM1328.1 1487.4h1.7v21.84h-1.7zM1338.2 1487.4h1.7v21.84h-1.7zM1355.9 1509.2h3.4v21.84h-3.4zM1379.8 1509.2h1.7v21.84h-1.7zM1388.3 1509.2h1.7v21.84h-1.7zM1422.4 1531.0h1.7v21.84h-1.7zM1430.9 1531.0h1.7v21.84h-1.7zM1366.1 1552.9h1.7v21.84h-1.7zM1372.9 1552.9h1.7v21.84h-1.7zM1504.2 1596.6h1.7v21.84h-1.7zM1615.6 1596.6h1.7v21.84h-1.7zM1466.6 1618.4h1.7v21.84h-1.7zM1480.2 1618.4h1.7v21.84h-1.7zM1627.4 1618.4h1.7v21.84h-1.7zM1870.5 1618.4h1.7v21.84h-1.7zM1444.3 1640.2h3.4v21.84h-3.4zM1482.0 1640.2h3.4v21.84h-3.4zM1490.5 1640.2h1.7v21.84h-1.7zM1511.0 1640.2h5.1v21.84h-5.1zM1615.6 1640.2h1.7v21.84h-1.7zM1650.9 1640.2h1.7v21.84h-1.7zM1657.7 1640.2h1.7v21.84h-1.7zM1669.4 1640.2h1.7v21.84h-1.7zM1682.9 1640.2h3.4v21.84h-3.4zM1688.0 1640.2h1.7v21.84h-1.7zM1440.9 1662.1h1.7v21.84h-1.7zM1470.0 1662.1h1.7v21.84h-1.7zM1475.1 1662.1h1.7v21.84h-1.7zM1514.5 1662.1h1.7v21.84h-1.7zM1947.0 1662.1h1.7v21.84h-1.7zM1442.6 1683.9h5.1v21.84h-5.1zM1456.3 1683.9h1.7v21.84h-1.7zM1571.7 1705.8h1.7v21.84h-1.7zM1602.6 1705.8h1.7v21.84h-1.7zM1563.2 1727.6h3.4v21.84h-3.4zM1587.2 1727.6h1.7v21.84h-1.7zM1528.9 1749.5h3.4v21.84h-3.4zM1561.5 1749.5h1.7v21.84h-1.7zM1568.3 1749.5h3.4v21.84h-3.4zM1573.5 1749.5h3.4v21.84h-3.4zM1588.9 1749.5h3.4v21.84h-3.4zM1980.5 1749.5h1.7v21.84h-1.7zM1666.1 1771.3h1.7v21.84h-1.7zM1691.3 1771.3h1.7v21.84h-1.7zM1620.6 1793.1h1.7v21.84h-1.7zM1627.4 1793.1h1.7v21.84h-1.7zM1632.4 1793.1h1.7v21.84h-1.7zM1635.8 1793.1h5.0v21.84h-5.0zM1642.5 1793.1h3.4v21.84h-3.4zM1649.2 1793.1h3.4v21.84h-3.4zM1627.4 1815.0h1.7v21.84h-1.7zM1649.2 1815.0h3.4v21.84h-3.4zM1659.3 1815.0h1.7v21.84h-1.7zM1677.9 1815.0h1.7v21.84h-1.7zM1684.6 1815.0h1.7v21.84h-1.7zM1666.1 1836.8h1.7v21.84h-1.7zM1711.4 1858.7h1.7v21.84h-1.7zM1699.3 1880.5h3.5v21.84h-3.5zM1709.7 1880.5h1.7v21.84h-1.7zM1709.7 1902.3h1.7v21.84h-1.7zM1733.6 1924.2h5.0v21.84h-5.0zM1747.0 1924.2h1.7v21.84h-1.7zM1773.8 1924.2h5.0v21.84h-5.0zM1783.9 1924.2h1.7v21.84h-1.7zM1825.9 1989.7h1.7v21.84h-1.7zM1858.5 1989.7h1.7v21.84h-1.7zM1870.5 1989.7h1.7v21.84h-1.7zM1795.1 2011.5h5.1v21.84h-5.1zM1802.0 2011.5h5.1v21.84h-5.1zM1856.8 2011.5h1.7v21.84h-1.7zM1867.1 2011.5h3.4v21.84h-3.4zM1807.1 2033.4h1.7v21.84h-1.7zM1865.3 2033.4h1.7v21.84h-1.7zM1834.5 2055.2h1.7v21.84h-1.7zM1849.9 2055.2h1.7v21.84h-1.7zM1897.2 2077.1h1.7v21.84h-1.7zM1900.6 2077.1h1.7v21.84h-1.7zM1909.2 2077.1h3.4v21.84h-3.4zM1919.5 2077.1h3.4v21.84h-3.4zM1950.4 2077.1h1.7v21.84h-1.7zM1955.6 2077.1h1.7v21.84h-1.7zM1886.9 2098.9h1.7v21.84h-1.7zM1895.5 2098.9h1.7v21.84h-1.7zM1940.1 2098.9h1.7v21.84h-1.7zM1943.5 2098.9h1.7v21.84h-1.7zM1575.2 2120.8h3.4v21.84h-3.4zM1886.9 2120.8h1.7v21.84h-1.7zM1924.7 2120.8h1.7v21.84h-1.7zM1938.4 2120.8h1.7v21.84h-1.7zM1948.7 2120.8h3.4v21.84h-3.4zM1880.0 2142.6h1.7v21.84h-1.7zM1935.0 2142.6h1.7v21.84h-1.7zM1966.8 2164.4h1.7v21.84h-1.7zM1973.7 2164.4h3.4v21.84h-3.4zM1997.6 2164.4h1.7v21.84h-1.7zM2007.9 2164.4h1.7v21.84h-1.7zM2011.3 2164.4h3.4v21.84h-3.4zM1970.2 2186.3h3.4v21.84h-3.4zM1992.5 2186.3h1.7v21.84h-1.7zM1999.3 2186.3h3.4v21.84h-3.4zM2030.2 2186.3h1.7v21.84h-1.7zM2038.7 2186.3h1.7v21.84h-1.7zM1970.2 2230.0h1.7v21.84h-1.7zM2030.2 2230.0h1.7v21.84h-1.7z"/><path fill="#59CBAE" d="M1110.3 1137.9h1.7v21.84h-1.7zM1118.8 1137.9h1.7v21.84h-1.7zM1123.8 1137.9h3.4v21.84h-3.4zM1130.5 1137.9h1.7v21.84h-1.7zM1144.0 1137.9h3.4v21.84h-3.4zM1159.2 1137.9h3.4v21.84h-3.4zM1193.0 1137.9h3.4v21.84h-3.4zM1318.0 1137.9h1.7v21.84h-1.7zM1323.0 1137.9h1.7v21.84h-1.7zM1379.8 1137.9h1.7v21.84h-1.7zM1413.9 1137.9h1.7v21.84h-1.7zM1420.7 1137.9h5.1v21.84h-5.1zM1105.3 1159.7h1.7v21.84h-1.7zM1186.2 1159.7h1.7v21.84h-1.7zM1191.3 1159.7h1.7v21.84h-1.7zM1201.4 1159.7h1.7v21.84h-1.7zM1213.2 1159.7h1.7v21.84h-1.7zM1221.6 1159.7h3.4v21.84h-3.4zM1231.7 1159.7h1.7v21.84h-1.7zM1246.8 1159.7h1.7v21.84h-1.7zM1255.3 1159.7h1.7v21.84h-1.7zM1292.7 1159.7h1.7v21.84h-1.7zM1307.9 1159.7h1.7v21.84h-1.7zM1339.9 1159.7h1.7v21.84h-1.7zM1344.9 1159.7h1.7v21.84h-1.7zM1096.9 1181.6h1.7v21.84h-1.7zM1120.4 1181.6h3.4v21.84h-3.4zM1140.6 1181.6h1.7v21.84h-1.7zM1191.3 1181.6h3.4v21.84h-3.4zM1196.3 1181.6h3.4v21.84h-3.4zM1223.3 1181.6h3.4v21.84h-3.4zM1241.8 1181.6h1.7v21.84h-1.7zM1248.5 1181.6h1.7v21.84h-1.7zM1275.9 1181.6h1.7v21.84h-1.7zM1286.0 1181.6h1.7v21.84h-1.7zM1289.4 1181.6h1.7v21.84h-1.7zM1294.4 1181.6h1.7v21.84h-1.7zM1306.2 1181.6h1.7v21.84h-1.7zM1309.6 1181.6h3.4v21.84h-3.4zM1338.2 1181.6h3.4v21.84h-3.4zM1366.1 1181.6h1.7v21.84h-1.7zM1413.9 1181.6h3.4v21.84h-3.4zM1159.2 1203.4h5.0v21.84h-5.0zM1193.0 1203.4h1.7v21.84h-1.7zM1196.3 1203.4h1.7v21.84h-1.7zM1245.2 1203.4h1.7v21.84h-1.7zM1201.4 1225.3h1.7v21.84h-1.7zM1297.8 1225.3h3.4v21.84h-3.4zM1388.3 1225.3h3.4v21.84h-3.4zM1152.4 1268.9h1.7v21.84h-1.7zM1374.7 1268.9h5.1v21.84h-5.1zM1359.3 1290.8h1.7v21.84h-1.7zM1225.0 1334.5h1.7v21.84h-1.7zM1235.1 1356.3h1.7v21.84h-1.7zM1258.6 1356.3h1.7v21.84h-1.7zM1216.5 1378.2h1.7v21.84h-1.7zM1113.7 1400.0h3.4v21.84h-3.4zM1118.8 1400.0h1.7v21.84h-1.7zM1149.1 1400.0h3.4v21.84h-3.4zM1164.2 1400.0h1.7v21.84h-1.7zM1184.6 1400.0h1.7v21.84h-1.7zM1236.7 1400.0h3.4v21.84h-3.4zM1253.6 1400.0h1.7v21.84h-1.7zM1359.3 1400.0h1.7v21.84h-1.7zM1388.3 1400.0h1.7v21.84h-1.7zM1396.8 1400.0h1.7v21.84h-1.7zM1267.5 1421.8h3.4v21.84h-3.4zM1287.7 1443.7h1.7v21.84h-1.7zM1274.2 1465.5h3.4v21.84h-3.4zM1294.4 1465.5h3.4v21.84h-3.4zM1307.9 1465.5h1.7v21.84h-1.7zM1339.9 1465.5h3.4v21.84h-3.4zM1279.3 1487.4h1.7v21.84h-1.7zM1339.9 1487.4h1.7v21.84h-1.7zM1354.2 1509.2h1.7v21.84h-1.7zM1383.2 1509.2h3.4v21.84h-3.4zM1403.6 1509.2h1.7v21.84h-1.7zM1427.5 1509.2h1.7v21.84h-1.7zM1233.4 1552.9h3.4v21.84h-3.4zM1369.5 1552.9h3.4v21.84h-3.4zM1413.9 1552.9h1.7v21.84h-1.7zM1429.2 1552.9h1.7v21.84h-1.7zM1354.2 1574.7h1.7v21.84h-1.7zM1417.3 1574.7h1.7v21.84h-1.7zM1480.2 1574.7h1.7v21.84h-1.7zM1485.4 1596.6h1.7v21.84h-1.7zM1509.3 1596.6h1.7v21.84h-1.7zM1639.1 1596.6h1.7v21.84h-1.7zM1475.1 1618.4h1.7v21.84h-1.7zM1514.5 1618.4h1.7v21.84h-1.7zM1473.4 1640.2h1.7v21.84h-1.7zM1629.0 1640.2h1.7v21.84h-1.7zM1500.8 1662.1h3.4v21.84h-3.4zM1556.3 1705.8h1.7v21.84h-1.7zM1559.7 1705.8h3.4v21.84h-3.4zM1575.2 1705.8h3.4v21.84h-3.4zM1588.9 1705.8h3.4v21.84h-3.4zM1535.8 1749.5h1.7v21.84h-1.7zM1546.0 1749.5h3.4v21.84h-3.4zM1552.9 1749.5h3.4v21.84h-3.4zM1558.0 1749.5h1.7v21.84h-1.7zM1578.6 1749.5h5.1v21.84h-5.1zM1594.0 1749.5h1.7v21.84h-1.7zM1686.3 1771.3h3.4v21.84h-3.4zM1613.9 1793.1h1.7v21.84h-1.7zM1677.9 1793.1h1.7v21.84h-1.7zM1570.0 1815.0h1.7v21.84h-1.7zM1624.0 1815.0h1.7v21.84h-1.7zM1654.3 1815.0h1.7v21.84h-1.7zM1702.8 1858.7h1.7v21.84h-1.7zM1713.2 1858.7h1.7v21.84h-1.7zM1708.0 1880.5h1.7v21.84h-1.7zM2033.6 1880.5h1.7v21.84h-1.7zM1702.8 1902.3h1.7v21.84h-1.7zM1714.9 1902.3h1.7v21.84h-1.7zM1758.7 1924.2h3.4v21.84h-3.4zM1772.2 1924.2h1.7v21.84h-1.7zM1420.7 1967.9h1.7v21.84h-1.7zM1839.7 1989.7h1.7v21.84h-1.7zM1848.2 1989.7h3.4v21.84h-3.4zM1189.6 2011.5h1.7v21.84h-1.7zM1196.3 2011.5h1.7v21.84h-1.7zM1808.8 2011.5h3.4v21.84h-3.4zM1841.4 2011.5h1.7v21.84h-1.7zM1836.2 2033.4h3.4v21.84h-3.4zM1970.2 2033.4h3.4v21.84h-3.4zM1820.8 2055.2h1.7v21.84h-1.7zM1825.9 2055.2h1.7v21.84h-1.7zM1846.5 2055.2h1.7v21.84h-1.7zM1865.3 2055.2h3.4v21.84h-3.4zM1820.8 2077.1h1.7v21.84h-1.7zM1928.1 2077.1h3.4v21.84h-3.4zM1928.1 2098.9h1.7v21.84h-1.7zM1945.3 2098.9h3.4v21.84h-3.4zM1953.8 2098.9h5.2v21.84h-5.2zM1255.3 2120.8h1.7v21.84h-1.7zM1914.3 2120.8h1.7v21.84h-1.7zM1928.1 2120.8h1.7v21.84h-1.7zM1941.8 2120.8h1.7v21.84h-1.7zM1945.3 2120.8h1.7v21.84h-1.7zM1921.2 2142.6h3.4v21.84h-3.4zM1933.2 2142.6h1.7v21.84h-1.7zM1955.6 2142.6h1.7v21.84h-1.7zM1983.9 2164.4h1.7v21.84h-1.7zM1989.1 2164.4h1.7v21.84h-1.7zM1999.3 2164.4h1.7v21.84h-1.7zM2014.8 2164.4h3.4v21.84h-3.4zM1975.4 2186.3h1.7v21.84h-1.7zM1985.6 2186.3h3.4v21.84h-3.4zM2002.8 2186.3h3.4v21.84h-3.4zM2007.9 2186.3h3.4v21.84h-3.4zM2016.5 2186.3h3.4v21.84h-3.4zM1980.5 2208.1h1.7v21.84h-1.7zM2006.2 2208.1h1.7v21.84h-1.7zM2026.8 2230.0h1.7v21.84h-1.7zM2042.2 2230.0h1.7v21.84h-1.7z"/><path fill="#8AD9B6" d="M1142.3 1137.9h1.7v21.84h-1.7zM1181.2 1137.9h3.4v21.84h-3.4zM1203.1 1137.9h1.7v21.84h-1.7zM1208.1 1137.9h5.0v21.84h-5.0zM1235.1 1137.9h1.7v21.84h-1.7zM1277.6 1137.9h1.7v21.84h-1.7zM1286.0 1137.9h3.4v21.84h-3.4zM1359.3 1137.9h1.7v21.84h-1.7zM1372.9 1137.9h1.7v21.84h-1.7zM1393.4 1137.9h1.7v21.84h-1.7zM1095.2 1159.7h1.7v21.84h-1.7zM1100.2 1159.7h3.4v21.84h-3.4zM1113.7 1159.7h1.7v21.84h-1.7zM1118.8 1159.7h1.7v21.84h-1.7zM1127.2 1159.7h1.7v21.84h-1.7zM1209.8 1159.7h1.7v21.84h-1.7zM1214.9 1159.7h1.7v21.84h-1.7zM1225.0 1159.7h1.7v21.84h-1.7zM1284.3 1159.7h5.0v21.84h-5.0zM1304.5 1159.7h1.7v21.84h-1.7zM1328.1 1159.7h3.4v21.84h-3.4zM1354.2 1159.7h1.7v21.84h-1.7zM1369.5 1159.7h1.7v21.84h-1.7zM1381.5 1159.7h3.4v21.84h-3.4zM1997.6 1159.7h1.7v21.84h-1.7zM1115.4 1181.6h3.4v21.84h-3.4zM1125.5 1181.6h3.4v21.84h-3.4zM1147.4 1181.6h5.0v21.84h-5.0zM1157.5 1181.6h1.7v21.84h-1.7zM1167.6 1181.6h6.7v21.84h-6.7zM1189.6 1181.6h1.7v21.84h-1.7zM1203.1 1181.6h1.7v21.84h-1.7zM1250.2 1181.6h1.7v21.84h-1.7zM1267.5 1181.6h1.7v21.84h-1.7zM1323.0 1181.6h1.7v21.84h-1.7zM1344.9 1181.6h1.7v21.84h-1.7zM1364.4 1181.6h1.7v21.84h-1.7zM1369.5 1181.6h1.7v21.84h-1.7zM1384.9 1181.6h1.7v21.84h-1.7zM1390.0 1181.6h1.7v21.84h-1.7zM1194.7 1203.4h1.7v21.84h-1.7zM1199.7 1203.4h1.7v21.84h-1.7zM1213.2 1203.4h1.7v21.84h-1.7zM1419.0 1225.3h1.7v21.84h-1.7zM1159.2 1247.1h3.4v21.84h-3.4zM1689.6 1247.1h1.7v21.84h-1.7zM1231.7 1334.5h1.7v21.84h-1.7zM1292.7 1465.5h1.7v21.84h-1.7zM1304.5 1465.5h1.7v21.84h-1.7zM1269.2 1487.4h1.7v21.84h-1.7zM1275.9 1487.4h3.4v21.84h-3.4zM1307.9 1487.4h3.4v21.84h-3.4zM1319.7 1487.4h1.7v21.84h-1.7zM1323.0 1487.4h1.7v21.84h-1.7zM1369.5 1509.2h1.7v21.84h-1.7zM1372.9 1509.2h3.4v21.84h-3.4zM1316.3 1552.9h3.4v21.84h-3.4zM1362.7 1552.9h1.7v21.84h-1.7zM1367.8 1552.9h1.7v21.84h-1.7zM1381.5 1552.9h3.4v21.84h-3.4zM1395.1 1552.9h3.4v21.84h-3.4zM1367.8 1574.7h1.7v21.84h-1.7zM1378.1 1574.7h3.4v21.84h-3.4zM1458.0 1640.2h1.7v21.84h-1.7zM1464.9 1640.2h1.7v21.84h-1.7zM1476.8 1640.2h1.7v21.84h-1.7zM1542.6 1749.5h1.7v21.84h-1.7zM1549.5 1749.5h3.4v21.84h-3.4zM1559.7 1749.5h1.7v21.84h-1.7zM1564.9 1749.5h3.4v21.84h-3.4zM1576.9 1749.5h1.7v21.84h-1.7zM1585.4 1749.5h1.7v21.84h-1.7zM1592.3 1749.5h1.7v21.84h-1.7zM1597.4 1749.5h1.7v21.84h-1.7zM1604.3 1749.5h1.7v21.84h-1.7zM1618.9 1793.1h1.7v21.84h-1.7zM1640.8 1793.1h1.7v21.84h-1.7zM1669.4 1793.1h1.7v21.84h-1.7zM1672.8 1793.1h1.7v21.84h-1.7zM1639.1 1815.0h1.7v21.84h-1.7zM1644.2 1815.0h1.7v21.84h-1.7zM1669.4 1815.0h3.4v21.84h-3.4zM1935.0 1836.8h1.7v21.84h-1.7zM1721.9 1858.7h1.7v21.84h-1.7zM1702.8 1880.5h1.7v21.84h-1.7zM1713.2 1880.5h1.7v21.84h-1.7zM1718.4 1880.5h3.5v21.84h-3.5zM1780.6 1924.2h1.7v21.84h-1.7zM1193.0 2011.5h3.4v21.84h-3.4zM1814.0 2055.2h3.4v21.84h-3.4zM1832.8 2055.2h1.7v21.84h-1.7zM1863.6 2055.2h1.7v21.84h-1.7zM1868.8 2055.2h1.7v21.84h-1.7zM1888.6 2077.1h3.4v21.84h-3.4zM1912.6 2077.1h3.4v21.84h-3.4zM1945.3 2077.1h3.4v21.84h-3.4zM1957.3 2077.1h1.7v21.84h-1.7zM1924.7 2098.9h1.7v21.84h-1.7zM1931.5 2098.9h1.7v21.84h-1.7zM1936.7 2098.9h1.7v21.84h-1.7zM1890.3 2120.8h1.7v21.84h-1.7zM1895.5 2120.8h5.2v21.84h-5.2zM1910.9 2120.8h1.7v21.84h-1.7zM1917.8 2120.8h3.4v21.84h-3.4zM1931.5 2120.8h3.4v21.84h-3.4zM1957.3 2120.8h1.7v21.84h-1.7zM1888.6 2142.6h1.7v21.84h-1.7zM1893.7 2142.6h1.7v21.84h-1.7zM1898.9 2142.6h5.2v21.84h-5.2zM1914.3 2142.6h1.7v21.84h-1.7zM1953.8 2142.6h1.7v21.84h-1.7zM2028.5 2164.4h3.4v21.84h-3.4zM2040.5 2164.4h3.4v21.84h-3.4zM1966.8 2186.3h1.7v21.84h-1.7zM1980.5 2186.3h3.4v21.84h-3.4zM2011.3 2186.3h1.7v21.84h-1.7zM2023.3 2186.3h1.7v21.84h-1.7zM2031.9 2186.3h1.7v21.84h-1.7zM1573.5 2208.1h1.7v21.84h-1.7zM1989.1 2208.1h1.7v21.84h-1.7zM1997.6 2208.1h3.4v21.84h-3.4zM2033.6 2208.1h3.4v21.84h-3.4z"/><path fill="#B6E7C9" d="M1204.8 1159.7h5.0v21.84h-5.0zM1228.3 1159.7h1.7v21.84h-1.7zM1372.9 1159.7h1.7v21.84h-1.7zM1100.2 1181.6h1.7v21.84h-1.7zM1130.5 1181.6h3.4v21.84h-3.4zM1154.1 1181.6h3.4v21.84h-3.4zM1164.2 1181.6h1.7v21.84h-1.7zM1187.9 1181.6h1.7v21.84h-1.7zM1208.1 1181.6h8.4v21.84h-8.4zM1226.6 1181.6h1.7v21.84h-1.7zM1230.0 1181.6h1.7v21.84h-1.7zM1245.2 1181.6h1.7v21.84h-1.7zM1279.3 1181.6h1.7v21.84h-1.7zM1292.7 1181.6h1.7v21.84h-1.7zM1297.8 1181.6h1.7v21.84h-1.7zM1228.3 1203.4h1.7v21.84h-1.7zM1113.7 1334.5h1.7v21.84h-1.7zM1291.1 1487.4h1.7v21.84h-1.7zM1354.2 1552.9h1.7v21.84h-1.7zM1379.8 1552.9h1.7v21.84h-1.7zM1422.4 1552.9h1.7v21.84h-1.7zM1371.2 1574.7h1.7v21.84h-1.7zM1374.7 1574.7h1.7v21.84h-1.7zM1393.4 1574.7h1.7v21.84h-1.7zM1622.3 1618.4h1.7v21.84h-1.7zM1449.5 1640.2h3.4v21.84h-3.4zM1454.6 1640.2h1.7v21.84h-1.7zM1461.4 1640.2h1.7v21.84h-1.7zM1504.2 1640.2h3.4v21.84h-3.4zM1546.0 1705.8h3.4v21.84h-3.4zM1599.1 1705.8h1.7v21.84h-1.7zM1527.2 1749.5h1.7v21.84h-1.7zM1583.7 1749.5h1.7v21.84h-1.7zM1599.1 1749.5h5.1v21.84h-5.1zM1659.3 1793.1h1.7v21.84h-1.7zM1666.1 1793.1h1.7v21.84h-1.7zM1682.9 1793.1h1.7v21.84h-1.7zM1471.7 1815.0h1.7v21.84h-1.7zM1613.9 1815.0h1.7v21.84h-1.7zM1640.8 1815.0h1.7v21.84h-1.7zM1645.9 1815.0h3.4v21.84h-3.4zM1657.7 1815.0h1.7v21.84h-1.7zM1662.7 1815.0h1.7v21.84h-1.7zM1674.5 1815.0h1.7v21.84h-1.7zM1681.2 1815.0h1.7v21.84h-1.7zM1691.3 1815.0h1.7v21.84h-1.7zM1699.3 1858.7h3.5v21.84h-3.5zM1721.9 1880.5h1.7v21.84h-1.7zM1765.5 1924.2h1.7v21.84h-1.7zM1812.2 2055.2h1.7v21.84h-1.7zM1892.0 2077.1h1.7v21.84h-1.7zM1905.8 2077.1h1.7v21.84h-1.7zM1933.2 2077.1h1.7v21.84h-1.7zM1938.4 2077.1h3.4v21.84h-3.4zM1880.0 2098.9h3.4v21.84h-3.4zM1888.6 2098.9h3.4v21.84h-3.4zM1922.9 2098.9h1.7v21.84h-1.7zM1935.0 2098.9h1.7v21.84h-1.7zM1948.7 2098.9h3.4v21.84h-3.4zM2037.0 2164.4h3.4v21.84h-3.4zM1983.9 2186.3h1.7v21.84h-1.7zM1994.2 2186.3h1.7v21.84h-1.7zM2006.2 2186.3h1.7v21.84h-1.7zM2013.1 2186.3h1.7v21.84h-1.7zM2019.9 2186.3h1.7v21.84h-1.7zM2043.9 2186.3h1.7v21.84h-1.7zM1994.2 2208.1h1.7v21.84h-1.7zM2001.1 2208.1h1.7v21.84h-1.7zM2016.5 2208.1h1.7v21.84h-1.7zM2031.9 2208.1h1.7v21.84h-1.7z"/><path fill="#DEF5E5" d="M1113.7 1181.6h1.7v21.84h-1.7zM1139.0 1181.6h1.7v21.84h-1.7zM1162.5 1181.6h1.7v21.84h-1.7zM1274.2 1181.6h1.7v21.84h-1.7zM1400.2 1181.6h1.7v21.84h-1.7zM1419.0 1552.9h1.7v21.84h-1.7zM1425.8 1552.9h3.4v21.84h-3.4zM1634.1 1815.0h1.7v21.84h-1.7zM1709.7 1858.7h1.7v21.84h-1.7zM1714.9 1880.5h3.5v21.84h-3.5zM1881.7 2077.1h1.7v21.84h-1.7zM1907.5 2077.1h1.7v21.84h-1.7zM1973.7 2186.3h1.7v21.84h-1.7zM1978.8 2186.3h1.7v21.84h-1.7zM2011.3 2208.1h1.7v21.84h-1.7z"/>
<rect x="1781.8" y="1137.9" width="1.6" height="1113.9" fill="#fff"/>
<text transform="translate(960.0 1154.5) scale(1.047 1)" font-size="19.6">SCEL</text>
<text transform="translate(960.0 1173.7) scale(1.047 1)" font-size="19.6">RTKN2</text>
<text transform="translate(960.0 1192.9) scale(1.047 1)" font-size="19.6">MAP2</text>
<text transform="translate(960.0 1212.1) scale(1.047 1)" font-size="19.6">LINC01290</text>
<text transform="translate(960.0 1231.3) scale(1.047 1)" font-size="19.6">LAMP3</text>
<text transform="translate(960.0 1250.5) scale(1.047 1)" font-size="19.6">SFTPC</text>
<text transform="translate(960.0 1269.8) scale(1.047 1)" font-size="19.6">TTN</text>
<text transform="translate(960.0 1289.0) scale(1.047 1)" font-size="19.6">NAPSA</text>
<text transform="translate(960.0 1308.2) scale(1.047 1)" font-size="19.6">BPIFB1</text>
<text transform="translate(960.0 1327.4) scale(1.047 1)" font-size="19.6">MUC5AC</text>
<text transform="translate(960.0 1346.6) scale(1.047 1)" font-size="19.6">MUC5B</text>
<text transform="translate(960.0 1365.8) scale(1.047 1)" font-size="19.6">SCGB3A1</text>
<text transform="translate(960.0 1385.0) scale(1.047 1)" font-size="19.6">SCGB1A1</text>
<text transform="translate(960.0 1404.2) scale(1.047 1)" font-size="19.6">SCGB3A2</text>
<text transform="translate(960.0 1423.4) scale(1.047 1)" font-size="19.6">CTSE</text>
<text transform="translate(960.0 1442.6) scale(1.047 1)" font-size="19.6">MIR205HG</text>
<text transform="translate(960.0 1461.8) scale(1.047 1)" font-size="19.6">TP63</text>
<text transform="translate(960.0 1481.0) scale(1.047 1)" font-size="19.6">TRPC6</text>
<text transform="translate(960.0 1500.2) scale(1.047 1)" font-size="19.6">KRT17</text>
<text transform="translate(960.0 1519.4) scale(1.047 1)" font-size="19.6">DNAH12</text>
<text transform="translate(960.0 1538.6) scale(1.047 1)" font-size="19.6">CFAP47</text>
<text transform="translate(960.0 1557.8) scale(1.047 1)" font-size="19.6">DNAH9</text>
<text transform="translate(960.0 1577.0) scale(1.047 1)" font-size="19.6">CFAP52</text>
<text transform="translate(960.0 1596.2) scale(1.047 1)" font-size="19.6">GRP</text>
<text transform="translate(960.0 1615.4) scale(1.047 1)" font-size="19.6">NRXN1</text>
<text transform="translate(960.0 1634.6) scale(1.047 1)" font-size="19.6">RALYL</text>
<text transform="translate(960.0 1653.9) scale(1.047 1)" font-size="19.6">KCNB2</text>
<text transform="translate(960.0 1673.1) scale(1.047 1)" font-size="19.6">WT1</text>
<text transform="translate(960.0 1692.3) scale(1.047 1)" font-size="19.6">NTNG1</text>
<text transform="translate(960.0 1711.5) scale(1.047 1)" font-size="19.6">PRG4</text>
<text transform="translate(960.0 1730.7) scale(1.047 1)" font-size="19.6">HAS1</text>
<text transform="translate(960.0 1749.9) scale(1.047 1)" font-size="19.6">PECAM1</text>
<text transform="translate(960.0 1769.1) scale(1.047 1)" font-size="19.6">PTPRB</text>
<text transform="translate(960.0 1788.3) scale(1.047 1)" font-size="19.6">VWF</text>
<text transform="translate(960.0 1807.5) scale(1.047 1)" font-size="19.6">DKK2</text>
<text transform="translate(960.0 1826.7) scale(1.047 1)" font-size="19.6">BMX</text>
<text transform="translate(960.0 1845.9) scale(1.047 1)" font-size="19.6">GJA5</text>
<text transform="translate(960.0 1865.1) scale(1.047 1)" font-size="19.6">IGFBP3</text>
<text transform="translate(960.0 1884.3) scale(1.047 1)" font-size="19.6">ACKR1</text>
<text transform="translate(960.0 1903.5) scale(1.047 1)" font-size="19.6">VCAM1</text>
<text transform="translate(960.0 1922.7) scale(1.047 1)" font-size="19.6">SULT1E1</text>
<text transform="translate(960.0 1941.9) scale(1.047 1)" font-size="19.6">C7</text>
<text transform="translate(960.0 1961.1) scale(1.047 1)" font-size="19.6">FCN3</text>
<text transform="translate(960.0 1980.3) scale(1.047 1)" font-size="19.6">IL7R</text>
<text transform="translate(960.0 1999.5) scale(1.047 1)" font-size="19.6">SLC6A4</text>
<text transform="translate(960.0 2018.8) scale(1.047 1)" font-size="19.6">IL18R1</text>
<text transform="translate(960.0 2038.0) scale(1.047 1)" font-size="19.6">HPGD</text>
<text transform="translate(960.0 2057.2) scale(1.047 1)" font-size="19.6">EDNRB</text>
<text transform="translate(960.0 2076.4) scale(1.047 1)" font-size="19.6">CYP3A5</text>
<text transform="translate(960.0 2095.6) scale(1.047 1)" font-size="19.6">TBX2</text>
<text transform="translate(960.0 2114.8) scale(1.047 1)" font-size="19.6">COL15A1</text>
<text transform="translate(960.0 2134.0) scale(1.047 1)" font-size="19.6">SPRY1</text>
<text transform="translate(960.0 2153.2) scale(1.047 1)" font-size="19.6">ABCB1</text>
<text transform="translate(960.0 2172.4) scale(1.047 1)" font-size="19.6">PLVAP</text>
<text transform="translate(960.0 2191.6) scale(1.047 1)" font-size="19.6">RELN</text>
<text transform="translate(960.0 2210.8) scale(1.047 1)" font-size="19.6">PROX1</text>
<text transform="translate(960.0 2230.0) scale(1.047 1)" font-size="19.6">TBX1</text>
<text transform="translate(960.0 2249.2) scale(1.047 1)" font-size="19.6">SEMA3D</text>
<text transform="translate(960.0 1080.7) scale(1.07 1)" font-size="18.6">Cells</text>
<text transform="translate(960.0 1119.6) scale(1.07 1)" font-size="18.6">Subjects</text>
<text transform="translate(2053.5 1156.1) scale(0.98 1)" font-size="20.2">ROBO2</text>
<text transform="translate(2053.5 1177.9) scale(0.98 1)" font-size="20.2">LAMA2</text>
<text transform="translate(2053.5 1199.7) scale(0.98 1)" font-size="20.2">SLIT2</text>
<text transform="translate(2053.5 1221.6) scale(0.98 1)" font-size="20.2">PDGFRA</text>
<text transform="translate(2053.5 1243.4) scale(0.98 1)" font-size="20.2">NCAM2</text>
<text transform="translate(2053.5 1265.3) scale(0.98 1)" font-size="20.2">PHACTR3</text>
<text transform="translate(2053.5 1287.1) scale(0.98 1)" font-size="20.2">GPC3</text>
<text transform="translate(2053.5 1308.9) scale(0.98 1)" font-size="20.2">PCDH15</text>
<text transform="translate(2053.5 1330.8) scale(0.98 1)" font-size="20.2">MFAP5</text>
<text transform="translate(2053.5 1352.6) scale(0.98 1)" font-size="20.2">SCARA5</text>
<text transform="translate(2053.5 1374.5) scale(0.98 1)" font-size="20.2">CCDC80</text>
<text transform="translate(2053.5 1396.3) scale(0.98 1)" font-size="20.2">TWIST2</text>
<text transform="translate(2053.5 1418.1) scale(0.98 1)" font-size="20.2">DCN</text>
<text transform="translate(2053.5 1440.0) scale(0.98 1)" font-size="20.2">LGR6</text>
<text transform="translate(2053.5 1461.8) scale(0.98 1)" font-size="20.2">LDB3</text>
<text transform="translate(2053.5 1483.7) scale(0.98 1)" font-size="20.2">MYOCD</text>
<text transform="translate(2053.5 1505.5) scale(0.98 1)" font-size="20.2">ACTA2</text>
<text transform="translate(2053.5 1527.4) scale(0.98 1)" font-size="20.2">PDGFRB</text>
<text transform="translate(2053.5 1549.2) scale(0.98 1)" font-size="20.2">LAMC3</text>
<text transform="translate(2053.5 1571.0) scale(0.98 1)" font-size="20.2">GUCY1A2</text>
<text transform="translate(2053.5 1592.9) scale(0.98 1)" font-size="20.2">LRRTM4</text>
<text transform="translate(2053.5 1614.7) scale(0.98 1)" font-size="20.2">CD163</text>
<text transform="translate(2053.5 1636.6) scale(0.98 1)" font-size="20.2">MARCO</text>
<text transform="translate(2053.5 1658.4) scale(0.98 1)" font-size="20.2">SLC11A1</text>
<text transform="translate(2053.5 1680.2) scale(0.98 1)" font-size="20.2">INHBA</text>
<text transform="translate(2053.5 1702.1) scale(0.98 1)" font-size="20.2">KCNE1</text>
<text transform="translate(2053.5 1723.9) scale(0.98 1)" font-size="20.2">CLEC9A</text>
<text transform="translate(2053.5 1745.8) scale(0.98 1)" font-size="20.2">XCR1</text>
<text transform="translate(2053.5 1767.6) scale(0.98 1)" font-size="20.2">CLNK</text>
<text transform="translate(2053.5 1789.4) scale(0.98 1)" font-size="20.2">CLEC10A</text>
<text transform="translate(2053.5 1811.3) scale(0.98 1)" font-size="20.2">CLEC5A</text>
<text transform="translate(2053.5 1833.1) scale(0.98 1)" font-size="20.2">MS4A4E</text>
<text transform="translate(2053.5 1855.0) scale(0.98 1)" font-size="20.2">FCGR2B</text>
<text transform="translate(2053.5 1876.8) scale(0.98 1)" font-size="20.2">CLEC4C</text>
<text transform="translate(2053.5 1898.7) scale(0.98 1)" font-size="20.2">CUX2</text>
<text transform="translate(2053.5 1920.5) scale(0.98 1)" font-size="20.2">IRF7</text>
<text transform="translate(2053.5 1942.3) scale(0.98 1)" font-size="20.2">CCR7</text>
<text transform="translate(2053.5 1964.2) scale(0.98 1)" font-size="20.2">LAD1</text>
<text transform="translate(2053.5 1986.0) scale(0.98 1)" font-size="20.2">FSCN1</text>
<text transform="translate(2053.5 2007.9) scale(0.98 1)" font-size="20.2">POU2AF1</text>
<text transform="translate(2053.5 2029.7) scale(0.98 1)" font-size="20.2">FCRL5</text>
<text transform="translate(2053.5 2051.5) scale(0.98 1)" font-size="20.2">MZB1</text>
<text transform="translate(2053.5 2073.4) scale(0.98 1)" font-size="20.2">MS4A1</text>
<text transform="translate(2053.5 2095.2) scale(0.98 1)" font-size="20.2">THEMIS</text>
<text transform="translate(2053.5 2117.1) scale(0.98 1)" font-size="20.2">ITK</text>
<text transform="translate(2053.5 2138.9) scale(0.98 1)" font-size="20.2">BCL11B</text>
<text transform="translate(2053.5 2160.7) scale(0.98 1)" font-size="20.2">ZNF831</text>
<text transform="translate(2053.5 2182.6) scale(0.98 1)" font-size="20.2">CPA3</text>
<text transform="translate(2053.5 2204.4) scale(0.98 1)" font-size="20.2">KIT</text>
<text transform="translate(2053.5 2226.3) scale(0.98 1)" font-size="20.2">MS4A2</text>
<text transform="translate(2053.5 2248.1) scale(0.98 1)" font-size="20.2">TPSB2</text>
<text transform="translate(2053.5 1080.7) scale(1.07 1)" font-size="18.6">Cells</text>
<text transform="translate(2053.5 1119.6) scale(1.07 1)" font-size="18.6">Subjects</text>
<text transform="translate(93.8 2280.6) scale(1.036 1)" font-size="19.2">Cells</text>
<rect x="94.8" y="2296.4" width="26.3" height="26.3" fill="#DAA520"/>
<text transform="translate(130.4 2316.6) scale(1.036 1)" font-size="19.2">AT1</text>
<rect x="94.8" y="2325.2000000000003" width="26.3" height="26.3" fill="#90EE90"/>
<text transform="translate(130.4 2345.4) scale(1.036 1)" font-size="19.2">AT2</text>
<rect x="179.2" y="2296.4" width="26.3" height="26.3" fill="#8A2BE2"/>
<text transform="translate(214.8 2316.6) scale(1.036 1)" font-size="19.2">Goblet</text>
<rect x="179.2" y="2325.2000000000003" width="26.3" height="26.3" fill="#8B0000"/>
<text transform="translate(214.8 2345.4) scale(1.036 1)" font-size="19.2">Secretory/Club</text>
<rect x="362.2" y="2296.4" width="26.3" height="26.3" fill="#6495ED"/>
<text transform="translate(397.8 2316.6) scale(1.036 1)" font-size="19.2">Basal</text>
<rect x="362.2" y="2325.2000000000003" width="26.3" height="26.3" fill="#003153"/>
<text transform="translate(397.8 2345.4) scale(1.036 1)" font-size="19.2">Ciliated</text>
<rect x="479.4" y="2296.4" width="26.3" height="26.3" fill="#D2691E"/>
<text transform="translate(515.0 2316.6) scale(1.036 1)" font-size="19.2">PNEC</text>
<rect x="479.4" y="2325.2000000000003" width="26.3" height="26.3" fill="#A9A9A9"/>
<text transform="translate(515.0 2345.4) scale(1.036 1)" font-size="19.2">Mesothelial</text>
<rect x="630.4" y="2296.4" width="26.3" height="26.3" fill="#4DAF4A"/>
<text transform="translate(666.0 2316.6) scale(1.036 1)" font-size="19.2">Artery</text>
<rect x="630.4" y="2325.2000000000003" width="26.3" height="26.3" fill="#FF7F00"/>
<text transform="translate(666.0 2345.4) scale(1.036 1)" font-size="19.2">Vein</text>
<rect x="735.4" y="2296.4" width="26.3" height="26.3" fill="#984EA3"/>
<text transform="translate(771.0 2316.6) scale(1.036 1)" font-size="19.2">gCap</text>
<rect x="735.4" y="2325.2000000000003" width="26.3" height="26.3" fill="#377EB8"/>
<text transform="translate(771.0 2345.4) scale(1.036 1)" font-size="19.2">Aerocyte</text>
<rect x="864.3" y="2296.4" width="26.3" height="26.3" fill="#F0027F"/>
<text transform="translate(899.9 2316.6) scale(1.036 1)" font-size="19.2">Systemic</text>
<rect x="864.3" y="2325.2000000000003" width="26.3" height="26.3" fill="#E41A1C"/>
<text transform="translate(899.9 2345.4) scale(1.036 1)" font-size="19.2">Lymphatic</text>
<text transform="translate(1163.5 2280.6) scale(1.036 1)" font-size="19.2">Cells</text>
<rect x="1164.5" y="2296.4" width="26.3" height="26.3" fill="#8DD3C7"/>
<text transform="translate(1200.1 2316.6) scale(1.036 1)" font-size="19.2">Fibroblast_Alveolar</text>
<rect x="1164.5" y="2325.2000000000003" width="26.3" height="26.3" fill="#000080"/>
<text transform="translate(1200.1 2345.4) scale(1.036 1)" font-size="19.2">Fibroblast_Adventitial</text>
<rect x="1404.9" y="2296.4" width="26.3" height="26.3" fill="#228B22"/>
<text transform="translate(1440.5 2316.6) scale(1.036 1)" font-size="19.2">SMC</text>
<rect x="1404.9" y="2325.2000000000003" width="26.3" height="26.3" fill="#FA8072"/>
<text transform="translate(1440.5 2345.4) scale(1.036 1)" font-size="19.2">Pericyte</text>
<rect x="1527.5" y="2296.4" width="26.3" height="26.3" fill="#F4A460"/>
<text transform="translate(1563.1 2316.6) scale(1.036 1)" font-size="19.2">Macrophage/Monocyte</text>
<rect x="1527.5" y="2325.2000000000003" width="26.3" height="26.3" fill="#FF69B4"/>
<text transform="translate(1563.1 2345.4) scale(1.036 1)" font-size="19.2">DC1</text>
<rect x="1780.5" y="2296.4" width="26.3" height="26.3" fill="#FF4500"/>
<text transform="translate(1816.1 2316.6) scale(1.036 1)" font-size="19.2">DC2</text>
<rect x="1780.5" y="2325.2000000000003" width="26.3" height="26.3" fill="#8B4513"/>
<text transform="translate(1816.1 2345.4) scale(1.036 1)" font-size="19.2">pDC</text>
<rect x="1870.6" y="2296.4" width="26.3" height="26.3" fill="#4682B4"/>
<text transform="translate(1906.2 2316.6) scale(1.036 1)" font-size="19.2">mDC</text>
<rect x="1870.6" y="2325.2000000000003" width="26.3" height="26.3" fill="#2E8B57"/>
<text transform="translate(1906.2 2345.4) scale(1.036 1)" font-size="19.2">B/Plasma</text>
<rect x="2008.3" y="2296.4" width="26.3" height="26.3" fill="#1E90FF"/>
<text transform="translate(2043.9 2316.6) scale(1.036 1)" font-size="19.2">T</text>
<rect x="2008.3" y="2325.2000000000003" width="26.3" height="26.3" fill="#EE82EE"/>
<text transform="translate(2043.9 2345.4) scale(1.036 1)" font-size="19.2">Mast</text>
<text transform="translate(87.6 2416.0) scale(1.045 1)" font-size="18.0">Normalized</text>
<text transform="translate(87.6 2436.4) scale(1.045 1)" font-size="18.0">Expression</text>
<rect x="87.0" y="2448.7" width="212.4" height="27.9" fill="url(#mk)"/>
<path d="M91.3 2448.7v6.2M91.3 2476.6v-6.2" stroke="#fff" stroke-width="1.1"/>
<text transform="translate(91.3 2496.4) scale(1.045 1)" font-size="18.0" text-anchor="middle">0</text>
<path d="M131.4 2448.7v6.2M131.4 2476.6v-6.2" stroke="#fff" stroke-width="1.1"/>
<text transform="translate(131.4 2496.4) scale(1.045 1)" font-size="18.0" text-anchor="middle">0.2</text>
<path d="M171.4 2448.7v6.2M171.4 2476.6v-6.2" stroke="#fff" stroke-width="1.1"/>
<text transform="translate(171.4 2496.4) scale(1.045 1)" font-size="18.0" text-anchor="middle">0.4</text>
<path d="M211.5 2448.7v6.2M211.5 2476.6v-6.2" stroke="#fff" stroke-width="1.1"/>
<text transform="translate(211.5 2496.4) scale(1.045 1)" font-size="18.0" text-anchor="middle">0.6</text>
<path d="M251.5 2448.7v6.2M251.5 2476.6v-6.2" stroke="#fff" stroke-width="1.1"/>
<text transform="translate(251.5 2496.4) scale(1.045 1)" font-size="18.0" text-anchor="middle">0.8</text>
<path d="M291.6 2448.7v6.2M291.6 2476.6v-6.2" stroke="#fff" stroke-width="1.1"/>
<text transform="translate(291.6 2496.4) scale(1.045 1)" font-size="18.0" text-anchor="middle">1</text></svg>
</body></html>
